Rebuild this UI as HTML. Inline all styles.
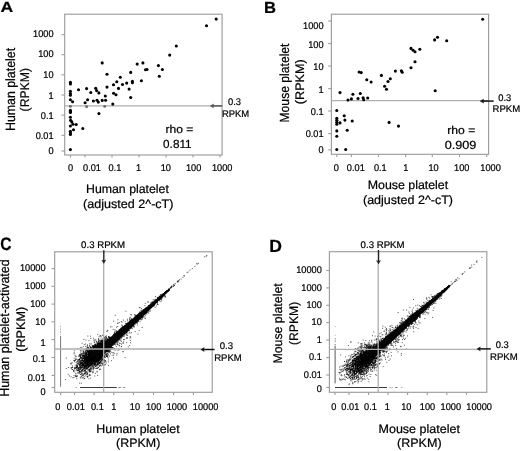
<!DOCTYPE html>
<html><head><meta charset="utf-8"><title>Figure</title>
<style>
html,body{margin:0;padding:0;background:#fff;overflow:hidden;}
svg{display:block;font-family:"Liberation Sans",sans-serif;will-change:transform;text-rendering:geometricPrecision;}
text{stroke:#000;stroke-width:0.22px;}
</style></head><body>
<svg width="520" height="451" viewBox="0 0 520 451">
<rect width="520" height="451" fill="#fff"/>
<rect x="64.70" y="14.20" width="157.40" height="140.80" fill="none" stroke="#9c9c9c" stroke-width="1.15"/>
<line x1="61.50" y1="34.70" x2="64.70" y2="34.70" stroke="#9c9c9c" stroke-width="1.1"/>
<line x1="61.50" y1="54.70" x2="64.70" y2="54.70" stroke="#9c9c9c" stroke-width="1.1"/>
<line x1="61.50" y1="74.80" x2="64.70" y2="74.80" stroke="#9c9c9c" stroke-width="1.1"/>
<line x1="61.50" y1="95.00" x2="64.70" y2="95.00" stroke="#9c9c9c" stroke-width="1.1"/>
<line x1="61.50" y1="115.10" x2="64.70" y2="115.10" stroke="#9c9c9c" stroke-width="1.1"/>
<line x1="61.50" y1="135.30" x2="64.70" y2="135.30" stroke="#9c9c9c" stroke-width="1.1"/>
<line x1="61.50" y1="151.00" x2="64.70" y2="151.00" stroke="#9c9c9c" stroke-width="1.1"/>
<text x="53.60" y="37.00" font-size="9.8" text-anchor="end" textLength="20.49" lengthAdjust="spacingAndGlyphs">1000</text>
<text x="53.60" y="56.90" font-size="9.8" text-anchor="end" textLength="15.37" lengthAdjust="spacingAndGlyphs">100</text>
<text x="53.60" y="77.80" font-size="9.8" text-anchor="end" textLength="10.24" lengthAdjust="spacingAndGlyphs">10</text>
<text x="53.60" y="99.10" font-size="9.8" text-anchor="end" textLength="5.12" lengthAdjust="spacingAndGlyphs">1</text>
<text x="53.60" y="119.10" font-size="9.8" text-anchor="end" textLength="12.80" lengthAdjust="spacingAndGlyphs">0.1</text>
<text x="53.60" y="138.80" font-size="9.8" text-anchor="end" textLength="17.93" lengthAdjust="spacingAndGlyphs">0.01</text>
<text x="53.60" y="154.00" font-size="9.8" text-anchor="end" textLength="5.12" lengthAdjust="spacingAndGlyphs">0</text>
<line x1="70.50" y1="155.00" x2="70.50" y2="157.60" stroke="#9c9c9c" stroke-width="1.1"/>
<line x1="85.00" y1="155.00" x2="85.00" y2="157.60" stroke="#9c9c9c" stroke-width="1.1"/>
<line x1="112.00" y1="155.00" x2="112.00" y2="157.60" stroke="#9c9c9c" stroke-width="1.1"/>
<line x1="139.00" y1="155.00" x2="139.00" y2="157.60" stroke="#9c9c9c" stroke-width="1.1"/>
<line x1="166.00" y1="155.00" x2="166.00" y2="157.60" stroke="#9c9c9c" stroke-width="1.1"/>
<line x1="193.00" y1="155.00" x2="193.00" y2="157.60" stroke="#9c9c9c" stroke-width="1.1"/>
<line x1="220.00" y1="155.00" x2="220.00" y2="157.60" stroke="#9c9c9c" stroke-width="1.1"/>
<text x="70.60" y="170.60" font-size="9.8" text-anchor="middle" textLength="5.12" lengthAdjust="spacingAndGlyphs">0</text>
<text x="92.00" y="170.60" font-size="9.8" text-anchor="middle" textLength="17.93" lengthAdjust="spacingAndGlyphs">0.01</text>
<text x="114.90" y="170.60" font-size="9.8" text-anchor="middle" textLength="12.80" lengthAdjust="spacingAndGlyphs">0.1</text>
<text x="138.60" y="170.60" font-size="9.8" text-anchor="middle" textLength="5.12" lengthAdjust="spacingAndGlyphs">1</text>
<text x="165.80" y="170.60" font-size="9.8" text-anchor="middle" textLength="10.24" lengthAdjust="spacingAndGlyphs">10</text>
<text x="193.60" y="170.60" font-size="9.8" text-anchor="middle" textLength="15.37" lengthAdjust="spacingAndGlyphs">100</text>
<text x="222.20" y="170.60" font-size="9.8" text-anchor="middle" textLength="20.49" lengthAdjust="spacingAndGlyphs">1000</text>
<line x1="64.70" y1="105.90" x2="222.10" y2="105.90" stroke="#aeaeae" stroke-width="1.3"/>
<circle cx="102.2" cy="62.9" r="1.55"/>
<circle cx="107" cy="74.2" r="1.55"/>
<circle cx="120.3" cy="77.3" r="1.55"/>
<circle cx="116.8" cy="81.8" r="1.55"/>
<circle cx="113.5" cy="84.8" r="1.55"/>
<circle cx="122.5" cy="84.5" r="1.55"/>
<circle cx="118.5" cy="88.4" r="1.55"/>
<circle cx="107" cy="87.1" r="1.55"/>
<circle cx="70.4" cy="82.4" r="1.55"/>
<circle cx="70.4" cy="83.9" r="1.55"/>
<circle cx="78.5" cy="89.8" r="1.55"/>
<circle cx="86.6" cy="88.6" r="1.55"/>
<circle cx="95.7" cy="88.3" r="1.55"/>
<circle cx="96.6" cy="90.6" r="1.55"/>
<circle cx="98.9" cy="92.9" r="1.55"/>
<circle cx="90.8" cy="92.5" r="1.55"/>
<circle cx="113.6" cy="93.2" r="1.55"/>
<circle cx="116" cy="94.8" r="1.55"/>
<circle cx="70.4" cy="91.2" r="1.55"/>
<circle cx="70.4" cy="93.5" r="1.55"/>
<circle cx="70.4" cy="95.3" r="1.55"/>
<circle cx="70.4" cy="99.8" r="1.55"/>
<circle cx="72.6" cy="101.8" r="1.55"/>
<circle cx="105.3" cy="96" r="1.55"/>
<circle cx="87.6" cy="99.8" r="1.55"/>
<circle cx="85.1" cy="102.7" r="1.55"/>
<circle cx="93.4" cy="101" r="1.55"/>
<circle cx="97" cy="100.2" r="1.55"/>
<circle cx="98.3" cy="102.1" r="1.55"/>
<circle cx="102.2" cy="100.4" r="1.55"/>
<circle cx="105.6" cy="100.2" r="1.55"/>
<circle cx="112.8" cy="104.1" r="1.55"/>
<circle cx="70.4" cy="110.4" r="1.55"/>
<circle cx="70.4" cy="111.4" r="1.55"/>
<circle cx="70.4" cy="112.4" r="1.55"/>
<circle cx="98.9" cy="113.6" r="1.55"/>
<circle cx="70.4" cy="117.3" r="1.55"/>
<circle cx="70.6" cy="120.2" r="1.55"/>
<circle cx="71.8" cy="121.9" r="1.55"/>
<circle cx="73" cy="124.2" r="1.55"/>
<circle cx="76.2" cy="124.5" r="1.55"/>
<circle cx="70.4" cy="126" r="1.55"/>
<circle cx="82.8" cy="128.5" r="1.55"/>
<circle cx="73.5" cy="129.8" r="1.55"/>
<circle cx="70.4" cy="131.2" r="1.55"/>
<circle cx="70.4" cy="132.9" r="1.55"/>
<circle cx="70.4" cy="134.4" r="1.55"/>
<circle cx="70.4" cy="149.6" r="1.55"/>
<circle cx="137.2" cy="64.1" r="1.55"/>
<circle cx="142.9" cy="62.9" r="1.55"/>
<circle cx="145.5" cy="69.8" r="1.55"/>
<circle cx="147" cy="69.5" r="1.55"/>
<circle cx="158.4" cy="65.6" r="1.55"/>
<circle cx="162.4" cy="69.5" r="1.55"/>
<circle cx="159.3" cy="76.2" r="1.55"/>
<circle cx="130.7" cy="72.4" r="1.55"/>
<circle cx="126.7" cy="83.1" r="1.55"/>
<circle cx="132.4" cy="81.2" r="1.55"/>
<circle cx="132.4" cy="82.8" r="1.55"/>
<circle cx="141.4" cy="80.8" r="1.55"/>
<circle cx="129.1" cy="89.1" r="1.55"/>
<circle cx="130.7" cy="97.5" r="1.55"/>
<circle cx="216.2" cy="19.1" r="1.55"/>
<circle cx="206.5" cy="25.7" r="1.55"/>
<circle cx="176.3" cy="46" r="1.55"/>
<circle cx="169.7" cy="55.1" r="1.55"/>
<circle cx="70.4" cy="106.4" r="1.45" fill="#6a6a6a"/>
<circle cx="86.6" cy="106.7" r="1.45" fill="#6a6a6a"/>
<circle cx="104.7" cy="106.4" r="1.45" fill="#6a6a6a"/>
<line x1="222.10" y1="105.90" x2="212.20" y2="105.90" stroke="#555" stroke-width="1.5"/>
<path d="M210.20,105.90 l3.4,-1.9 l-0.7,1.9 l0.7,1.9z" fill="#555" stroke="#555" stroke-width="0.5" stroke-linejoin="round"/>
<text x="228.00" y="104.50" font-size="9.6" textLength="13.00" lengthAdjust="spacingAndGlyphs">0.3</text>
<text x="221.90" y="116.50" font-size="9.6" textLength="27.30" lengthAdjust="spacingAndGlyphs">RPKM</text>
<text x="165.50" y="132.80" font-size="11.3" textLength="27.90" lengthAdjust="spacingAndGlyphs">rho =</text>
<text x="163.10" y="147.70" font-size="11.8" textLength="28.50" lengthAdjust="spacingAndGlyphs">0.811</text>
<text x="86.00" y="192.60" font-size="12.2" textLength="82.90" lengthAdjust="spacingAndGlyphs">Human platelet</text>
<text x="83.10" y="207.70" font-size="12.2" textLength="90.40" lengthAdjust="spacingAndGlyphs">(adjusted 2^-cT)</text>
<text x="14.90" y="131.00" font-size="13.4" textLength="83.10" lengthAdjust="spacingAndGlyphs" transform="rotate(-90 14.90 131.00)">Human platelet</text>
<text x="29.40" y="111.40" font-size="12.6" textLength="43.40" lengthAdjust="spacingAndGlyphs" transform="rotate(-90 29.40 111.40)">(RPKM)</text>
<text x="0.40" y="12.10" font-size="14.6" textLength="12.70" lengthAdjust="spacingAndGlyphs" font-weight="bold">A</text>
<rect x="331.40" y="14.20" width="157.20" height="140.10" fill="none" stroke="#9c9c9c" stroke-width="1.15"/>
<line x1="328.20" y1="21.00" x2="331.40" y2="21.00" stroke="#9c9c9c" stroke-width="1.1"/>
<line x1="328.20" y1="43.50" x2="331.40" y2="43.50" stroke="#9c9c9c" stroke-width="1.1"/>
<line x1="328.20" y1="66.00" x2="331.40" y2="66.00" stroke="#9c9c9c" stroke-width="1.1"/>
<line x1="328.20" y1="88.60" x2="331.40" y2="88.60" stroke="#9c9c9c" stroke-width="1.1"/>
<line x1="328.20" y1="111.00" x2="331.40" y2="111.00" stroke="#9c9c9c" stroke-width="1.1"/>
<line x1="328.20" y1="133.60" x2="331.40" y2="133.60" stroke="#9c9c9c" stroke-width="1.1"/>
<line x1="328.20" y1="149.90" x2="331.40" y2="149.90" stroke="#9c9c9c" stroke-width="1.1"/>
<text x="323.60" y="28.80" font-size="9.8" text-anchor="end" textLength="20.49" lengthAdjust="spacingAndGlyphs">1000</text>
<text x="323.60" y="47.70" font-size="9.8" text-anchor="end" textLength="15.37" lengthAdjust="spacingAndGlyphs">100</text>
<text x="323.60" y="70.30" font-size="9.8" text-anchor="end" textLength="10.24" lengthAdjust="spacingAndGlyphs">10</text>
<text x="323.60" y="92.70" font-size="9.8" text-anchor="end" textLength="5.12" lengthAdjust="spacingAndGlyphs">1</text>
<text x="323.60" y="114.80" font-size="9.8" text-anchor="end" textLength="12.80" lengthAdjust="spacingAndGlyphs">0.1</text>
<text x="323.60" y="137.20" font-size="9.8" text-anchor="end" textLength="17.93" lengthAdjust="spacingAndGlyphs">0.01</text>
<text x="323.60" y="153.30" font-size="9.8" text-anchor="end" textLength="5.12" lengthAdjust="spacingAndGlyphs">0</text>
<line x1="336.80" y1="154.30" x2="336.80" y2="156.90" stroke="#9c9c9c" stroke-width="1.1"/>
<line x1="351.40" y1="154.30" x2="351.40" y2="156.90" stroke="#9c9c9c" stroke-width="1.1"/>
<line x1="378.50" y1="154.30" x2="378.50" y2="156.90" stroke="#9c9c9c" stroke-width="1.1"/>
<line x1="405.70" y1="154.30" x2="405.70" y2="156.90" stroke="#9c9c9c" stroke-width="1.1"/>
<line x1="432.30" y1="154.30" x2="432.30" y2="156.90" stroke="#9c9c9c" stroke-width="1.1"/>
<line x1="459.50" y1="154.30" x2="459.50" y2="156.90" stroke="#9c9c9c" stroke-width="1.1"/>
<line x1="486.70" y1="154.30" x2="486.70" y2="156.90" stroke="#9c9c9c" stroke-width="1.1"/>
<text x="336.40" y="170.50" font-size="9.8" text-anchor="middle" textLength="5.12" lengthAdjust="spacingAndGlyphs">0</text>
<text x="355.80" y="170.50" font-size="9.8" text-anchor="middle" textLength="17.93" lengthAdjust="spacingAndGlyphs">0.01</text>
<text x="380.30" y="170.50" font-size="9.8" text-anchor="middle" textLength="12.80" lengthAdjust="spacingAndGlyphs">0.1</text>
<text x="405.90" y="170.50" font-size="9.8" text-anchor="middle" textLength="5.12" lengthAdjust="spacingAndGlyphs">1</text>
<text x="433.60" y="170.50" font-size="9.8" text-anchor="middle" textLength="10.24" lengthAdjust="spacingAndGlyphs">10</text>
<text x="461.80" y="170.50" font-size="9.8" text-anchor="middle" textLength="15.37" lengthAdjust="spacingAndGlyphs">100</text>
<text x="490.60" y="170.50" font-size="9.8" text-anchor="middle" textLength="20.49" lengthAdjust="spacingAndGlyphs">1000</text>
<line x1="331.40" y1="100.60" x2="488.60" y2="100.60" stroke="#aeaeae" stroke-width="1.3"/>
<circle cx="359.1" cy="72" r="1.55"/>
<circle cx="361.2" cy="72.6" r="1.55"/>
<circle cx="366.8" cy="79.7" r="1.55"/>
<circle cx="371.1" cy="82" r="1.55"/>
<circle cx="381.4" cy="75.4" r="1.55"/>
<circle cx="395.4" cy="71.1" r="1.55"/>
<circle cx="401.4" cy="70.8" r="1.55"/>
<circle cx="402.2" cy="72.3" r="1.55"/>
<circle cx="390.3" cy="78.8" r="1.55"/>
<circle cx="388" cy="81.5" r="1.55"/>
<circle cx="384.6" cy="86.2" r="1.55"/>
<circle cx="386.5" cy="89.2" r="1.55"/>
<circle cx="340" cy="92.6" r="1.55"/>
<circle cx="352.9" cy="94.2" r="1.55"/>
<circle cx="360.3" cy="93.5" r="1.55"/>
<circle cx="348" cy="100" r="1.55"/>
<circle cx="351.4" cy="98.9" r="1.55"/>
<circle cx="358" cy="98.5" r="1.55"/>
<circle cx="363.1" cy="97.7" r="1.55"/>
<circle cx="363.7" cy="99.7" r="1.55"/>
<circle cx="367.7" cy="98" r="1.55"/>
<circle cx="336.8" cy="110.5" r="1.55"/>
<circle cx="344.2" cy="115.7" r="1.55"/>
<circle cx="336.8" cy="118.3" r="1.55"/>
<circle cx="336.8" cy="120.3" r="1.55"/>
<circle cx="336.8" cy="122.2" r="1.55"/>
<circle cx="336.8" cy="124.2" r="1.55"/>
<circle cx="340" cy="122.9" r="1.55"/>
<circle cx="344.9" cy="120.1" r="1.55"/>
<circle cx="352.2" cy="121" r="1.55"/>
<circle cx="389.1" cy="122.4" r="1.55"/>
<circle cx="398.5" cy="126.1" r="1.55"/>
<circle cx="336.8" cy="130.9" r="1.55"/>
<circle cx="347.2" cy="130.2" r="1.55"/>
<circle cx="336.8" cy="136.3" r="1.55"/>
<circle cx="336.8" cy="149.5" r="1.55"/>
<circle cx="345.7" cy="149.5" r="1.55"/>
<circle cx="482.7" cy="19.2" r="1.55"/>
<circle cx="437.5" cy="37.2" r="1.55"/>
<circle cx="434.6" cy="39.9" r="1.55"/>
<circle cx="446.7" cy="40.7" r="1.55"/>
<circle cx="411" cy="48.4" r="1.55"/>
<circle cx="413.1" cy="50.3" r="1.55"/>
<circle cx="415" cy="51.8" r="1.55"/>
<circle cx="419.8" cy="49.3" r="1.55"/>
<circle cx="415" cy="61.7" r="1.55"/>
<circle cx="411" cy="67.8" r="1.55"/>
<circle cx="435.2" cy="90.7" r="1.55"/>
<line x1="493.70" y1="101.10" x2="482.20" y2="101.10" stroke="#111" stroke-width="1.5"/>
<path d="M480.20,101.10 l3.4,-1.9 l-0.7,1.9 l0.7,1.9z" fill="#111" stroke="#111" stroke-width="0.5" stroke-linejoin="round"/>
<text x="498.30" y="100.60" font-size="9.6" textLength="13.00" lengthAdjust="spacingAndGlyphs">0.3</text>
<text x="492.60" y="111.80" font-size="9.6" textLength="27.60" lengthAdjust="spacingAndGlyphs">RPKM</text>
<text x="447.30" y="134.00" font-size="11.3" textLength="28.00" lengthAdjust="spacingAndGlyphs">rho =</text>
<text x="444.70" y="149.00" font-size="11.8" textLength="31.70" lengthAdjust="spacingAndGlyphs">0.909</text>
<text x="367.70" y="188.70" font-size="12.2" textLength="80.50" lengthAdjust="spacingAndGlyphs">Mouse platelet</text>
<text x="363.00" y="203.70" font-size="12.2" textLength="90.00" lengthAdjust="spacingAndGlyphs">(adjusted 2^-cT)</text>
<text x="289.00" y="122.50" font-size="13.2" textLength="79.00" lengthAdjust="spacingAndGlyphs" transform="rotate(-90 289.00 122.50)">Mouse platelet</text>
<text x="304.00" y="104.20" font-size="12.4" textLength="45.00" lengthAdjust="spacingAndGlyphs" transform="rotate(-90 304.00 104.20)">(RPKM)</text>
<text x="264.00" y="12.60" font-size="16" textLength="12.00" lengthAdjust="spacingAndGlyphs" font-weight="bold">B</text>
<path d="M86.2,365.0h0.95M88.8,359.0h0.95M88.5,359.5h0.95M100.7,346.1h0.95M103.4,352.0h0.95M92.3,359.6h0.95M94.6,353.7h0.95M95.9,351.1h0.95M84.1,359.7h0.95M91.1,364.3h0.95M86.5,360.7h0.95M89.8,354.6h0.95M104.1,342.2h0.95M101.8,350.6h0.95M95.6,354.2h0.95M103.5,347.9h0.95M91.2,356.3h0.95M99.7,355.6h0.95M83.2,353.4h0.95M99.0,347.3h0.95M105.0,341.7h0.95M91.5,358.1h0.95M97.4,353.3h0.95M100.7,344.8h0.95M87.8,347.4h0.95M80.8,353.9h0.95M84.3,357.2h0.95M91.5,348.2h0.95M94.8,351.5h0.95M93.6,356.1h0.95M84.5,358.6h0.95M81.5,365.8h0.95M95.7,350.2h0.95M101.1,353.7h0.95M101.6,358.1h0.95M109.1,342.2h0.95M90.2,357.3h0.95M101.1,348.3h0.95M87.4,348.6h0.95M91.3,353.7h0.95M100.8,347.1h0.95M107.3,349.8h0.95M100.8,349.4h0.95M92.9,349.9h0.95M96.8,347.4h0.95M99.2,345.9h0.95M110.2,340.8h0.95M91.5,359.6h0.95M108.9,339.7h0.95M97.5,352.5h0.95M78.2,368.6h0.95M98.8,349.6h0.95M101.6,363.2h0.95M96.5,364.8h0.95M81.4,358.5h0.95M105.2,350.0h0.95M107.1,349.2h0.95M81.9,360.2h0.95M106.0,340.8h0.95M110.1,345.9h0.95M99.1,355.5h0.95M98.7,351.4h0.95M108.0,341.1h0.95M93.7,347.1h0.95M90.3,364.2h0.95M101.3,347.1h0.95M94.9,350.6h0.95M92.8,362.8h0.95M83.3,356.1h0.95M84.8,358.8h0.95M104.9,349.7h0.95M91.2,354.6h0.95M106.2,349.8h0.95M103.9,347.8h0.95M91.3,355.3h0.95M87.5,356.5h0.95M87.5,351.8h0.95M91.0,357.3h0.95M98.2,351.1h0.95M88.8,362.7h0.95M100.5,349.0h0.95M106.9,341.3h0.95M97.0,350.1h0.95M79.9,365.0h0.95M111.9,352.8h0.95M94.8,347.2h0.95M102.9,345.5h0.95M96.1,348.6h0.95M97.1,356.5h0.95M99.5,357.3h0.95M99.8,351.8h0.95M96.3,356.9h0.95M91.3,363.6h0.95M87.7,363.7h0.95M106.9,345.4h0.95M94.0,344.8h0.95M89.8,367.8h0.95M112.2,341.8h0.95M79.3,371.6h0.95M108.2,344.6h0.95M100.7,345.6h0.95M101.0,357.0h0.95M98.1,351.8h0.95M96.5,347.6h0.95M97.3,349.4h0.95M99.2,363.7h0.95M107.4,344.9h0.95M100.1,347.4h0.95M85.2,352.6h0.95M76.9,372.9h0.95M88.1,354.5h0.95M102.4,350.5h0.95M107.9,343.5h0.95M94.6,346.7h0.95M93.9,356.5h0.95M85.4,363.9h0.95M86.0,365.7h0.95M105.3,342.2h0.95M110.2,340.9h0.95M93.2,354.3h0.95M106.3,351.5h0.95M93.4,351.8h0.95M101.0,350.7h0.95M101.5,347.9h0.95M96.5,355.4h0.95M95.3,354.3h0.95M101.2,343.7h0.95M95.8,346.9h0.95M90.3,354.0h0.95M96.8,348.9h0.95M90.8,364.8h0.95M84.8,372.6h0.95M100.5,356.5h0.95M88.7,354.7h0.95M90.0,336.2h0.95M98.2,347.8h0.95M93.3,352.9h0.95M76.2,365.8h0.95M86.9,356.4h0.95M95.5,345.9h0.95M100.6,350.1h0.95M100.4,357.7h0.95M95.4,351.7h0.95M103.1,344.6h0.95M91.0,359.8h0.95M95.0,344.5h0.95M100.1,351.2h0.95M103.5,346.7h0.95M86.2,355.6h0.95M80.6,363.6h0.95M97.7,359.1h0.95M86.0,359.1h0.95M96.2,349.3h0.95M96.8,366.0h0.95M81.0,362.0h0.95M106.5,345.9h0.95M102.9,353.7h0.95M109.5,346.4h0.95M100.1,356.8h0.95M102.3,345.3h0.95M101.8,346.6h0.95M91.9,360.8h0.95M93.6,361.2h0.95M85.9,366.4h0.95M104.9,344.1h0.95M107.9,361.9h0.95M92.0,360.8h0.95M94.4,352.7h0.95M93.7,352.7h0.95M104.2,347.6h0.95M108.6,342.9h0.95M88.5,370.0h0.95M90.8,361.4h0.95M100.2,349.5h0.95M97.2,346.3h0.95M89.2,359.4h0.95M90.9,350.2h0.95M86.0,352.0h0.95M100.7,347.6h0.95M98.6,343.8h0.95M106.4,346.5h0.95M110.8,339.1h0.95M103.0,348.3h0.95M101.1,348.1h0.95M111.4,341.4h0.95M107.6,342.4h0.95M103.1,341.9h0.95M96.2,350.5h0.95M100.4,344.7h0.95M86.8,360.5h0.95M76.6,365.4h0.95M93.8,352.2h0.95M103.5,356.2h0.95M91.4,349.3h0.95M86.1,367.9h0.95M95.5,349.2h0.95M100.0,347.1h0.95M95.3,354.3h0.95M98.5,350.0h0.95M83.3,368.2h0.95M92.2,355.2h0.95M101.0,356.5h0.95M101.7,342.2h0.95M98.7,355.9h0.95M91.3,348.0h0.95M92.7,366.7h0.95M88.4,361.4h0.95M84.9,360.8h0.95M98.9,350.9h0.95M91.4,358.5h0.95M83.7,353.4h0.95M94.8,346.6h0.95M89.4,351.1h0.95M92.1,353.4h0.95M98.0,354.7h0.95M97.7,356.4h0.95M100.1,352.1h0.95M81.8,358.6h0.95M91.8,350.9h0.95M90.7,353.5h0.95M95.9,346.6h0.95M78.3,373.0h0.95M97.6,342.4h0.95M94.1,353.9h0.95M83.9,367.0h0.95M90.1,369.1h0.95M87.8,362.0h0.95M103.2,342.6h0.95M105.6,340.9h0.95M99.9,355.3h0.95M94.0,346.2h0.95M100.0,356.8h0.95M105.7,344.4h0.95M88.3,360.9h0.95M105.9,347.5h0.95M91.7,369.2h0.95M111.2,349.2h0.95M90.9,364.7h0.95M102.5,354.5h0.95M99.3,343.6h0.95M89.3,356.8h0.95M91.1,354.8h0.95M102.3,345.8h0.95M93.9,360.5h0.95M101.5,345.4h0.95M98.2,352.6h0.95M96.5,348.7h0.95M98.2,356.3h0.95M96.4,348.3h0.95M98.9,353.5h0.95M104.0,353.5h0.95M109.0,345.1h0.95M84.2,366.3h0.95M96.0,350.7h0.95M102.0,354.6h0.95M87.5,361.9h0.95M93.5,360.1h0.95M90.4,356.4h0.95M97.1,361.7h0.95M97.4,347.4h0.95M103.4,349.3h0.95M103.3,347.0h0.95M101.1,340.9h0.95M105.6,351.1h0.95M100.9,346.5h0.95M102.6,343.5h0.95M104.7,345.6h0.95M83.0,353.9h0.95M99.2,350.2h0.95M94.0,347.1h0.95M101.0,340.2h0.95M94.6,351.7h0.95M86.5,359.3h0.95M96.5,353.7h0.95M80.0,363.9h0.95M94.9,355.5h0.95M97.2,354.4h0.95M93.7,355.4h0.95M99.9,354.5h0.95M89.2,353.3h0.95M89.2,353.8h0.95M95.9,355.3h0.95M98.1,354.4h0.95M82.5,370.1h0.95M98.6,351.5h0.95M102.0,343.4h0.95M96.2,347.1h0.95M92.5,358.4h0.95M97.0,349.2h0.95M106.7,339.5h0.95M88.3,359.7h0.95M103.0,353.3h0.95M95.3,352.3h0.95M98.2,362.7h0.95M92.2,365.0h0.95M91.8,352.3h0.95M100.9,345.2h0.95M106.7,356.3h0.95M100.1,341.4h0.95M87.3,363.5h0.95M101.5,341.5h0.95M79.8,369.4h0.95M95.4,339.8h0.95M95.1,351.6h0.95M90.2,360.7h0.95M102.5,348.1h0.95M104.5,338.6h0.95M104.2,347.7h0.95M89.0,362.0h0.95M105.5,338.7h0.95M101.1,349.6h0.95M100.6,353.3h0.95M97.1,351.7h0.95M110.6,339.3h0.95M84.6,354.3h0.95M81.8,360.3h0.95M101.8,347.8h0.95M98.1,346.6h0.95M96.9,345.3h0.95M92.6,357.0h0.95M108.9,339.8h0.95M104.9,345.4h0.95M87.6,356.4h0.95M102.4,359.2h0.95M107.8,341.6h0.95M83.9,360.6h0.95M107.5,346.6h0.95M71.8,369.5h0.95M104.3,342.7h0.95M98.8,360.3h0.95M85.9,354.1h0.95M99.1,345.9h0.95M91.9,356.0h0.95M88.3,361.4h0.95M91.9,353.8h0.95M111.5,341.8h0.95M105.1,350.2h0.95M92.1,345.9h0.95M100.1,351.7h0.95M101.4,343.3h0.95M102.8,347.2h0.95M94.7,351.9h0.95M102.9,353.7h0.95M95.3,353.5h0.95M101.8,349.2h0.95M95.7,348.7h0.95M102.1,350.7h0.95M84.9,357.5h0.95M113.6,341.8h0.95M95.1,355.2h0.95M99.3,349.6h0.95M79.3,355.1h0.95M96.0,357.2h0.95M106.6,345.9h0.95M95.1,349.0h0.95M95.1,350.2h0.95M95.0,360.1h0.95M94.5,361.7h0.95M93.2,350.3h0.95M93.8,360.4h0.95M89.9,358.7h0.95M93.8,356.4h0.95M98.3,351.9h0.95M98.5,353.3h0.95M93.3,355.5h0.95M98.0,351.9h0.95M99.0,354.0h0.95M88.9,360.1h0.95M92.2,362.2h0.95M102.3,356.0h0.95M108.0,350.0h0.95M102.0,349.4h0.95M98.1,343.9h0.95M85.4,358.9h0.95M99.9,354.9h0.95M94.5,347.5h0.95M103.6,344.1h0.95M80.1,374.2h0.95M96.7,350.8h0.95M89.5,356.0h0.95M98.1,352.0h0.95M85.7,366.6h0.95M93.6,351.9h0.95M100.8,346.7h0.95M87.9,361.9h0.95M109.0,337.5h0.95M94.8,350.5h0.95M109.0,350.8h0.95M90.4,354.9h0.95M98.3,350.3h0.95M105.1,357.4h0.95M85.9,359.2h0.95M91.8,346.2h0.95M91.2,354.0h0.95M97.5,350.2h0.95M102.8,358.6h0.95M93.1,348.9h0.95M81.8,362.5h0.95M81.7,354.0h0.95M104.4,344.3h0.95M102.8,345.2h0.95M107.4,348.9h0.95M84.5,362.5h0.95M77.7,362.0h0.95M93.0,352.5h0.95M96.6,349.0h0.95M91.1,355.8h0.95M105.4,343.8h0.95M94.5,348.4h0.95M96.7,355.6h0.95M100.0,348.2h0.95M82.4,358.0h0.95M90.6,352.0h0.95M102.5,347.9h0.95M99.7,365.0h0.95M91.7,352.0h0.95M101.8,349.6h0.95M92.0,357.5h0.95M95.8,351.0h0.95M95.6,353.2h0.95M88.4,356.4h0.95M97.1,354.6h0.95M94.2,358.6h0.95M90.7,349.7h0.95M84.2,356.8h0.95M92.8,351.0h0.95M97.6,350.5h0.95M81.1,372.2h0.95M85.4,353.4h0.95M92.9,346.1h0.95M95.6,354.0h0.95M94.3,352.7h0.95M90.6,352.3h0.95M97.5,346.8h0.95M97.6,344.9h0.95M99.7,346.5h0.95M98.3,345.2h0.95M82.3,369.6h0.95M90.6,354.3h0.95M94.3,352.8h0.95M92.3,358.3h0.95M95.9,351.3h0.95M104.2,348.1h0.95M96.0,354.7h0.95M89.7,365.5h0.95M86.8,365.7h0.95M89.2,366.7h0.95M91.3,354.5h0.95M104.9,349.7h0.95M100.1,348.9h0.95M88.5,354.4h0.95M97.2,348.8h0.95M96.3,354.9h0.95M91.5,357.5h0.95M87.8,359.4h0.95M89.4,365.8h0.95M104.7,346.5h0.95M101.8,349.5h0.95M95.5,363.9h0.95M100.0,353.6h0.95M81.9,365.9h0.95M90.1,350.0h0.95M93.0,351.1h0.95M96.8,346.4h0.95M98.1,349.5h0.95M96.8,353.6h0.95M100.3,353.5h0.95M107.5,347.4h0.95M93.2,349.1h0.95M78.9,362.3h0.95M97.6,354.8h0.95M102.0,355.6h0.95M87.2,364.6h0.95M86.5,371.3h0.95M99.8,345.6h0.95M93.6,351.3h0.95M87.5,365.5h0.95M102.1,341.5h0.95M94.3,357.1h0.95M98.6,351.4h0.95M96.7,351.5h0.95M102.3,361.1h0.95M95.3,351.9h0.95M85.1,362.8h0.95M104.6,352.8h0.95M87.9,355.5h0.95M105.5,345.3h0.95M79.7,372.0h0.95M96.6,349.6h0.95M90.8,350.3h0.95M95.5,351.8h0.95M100.4,342.8h0.95M94.5,348.2h0.95M95.5,351.1h0.95M101.8,349.4h0.95M96.6,346.8h0.95M94.1,342.1h0.95M84.9,357.9h0.95M102.4,344.5h0.95M91.5,361.5h0.95M104.6,350.5h0.95M99.7,348.3h0.95M100.4,346.3h0.95M86.5,354.5h0.95M93.9,342.7h0.95M86.7,362.1h0.95M98.1,358.6h0.95M108.5,351.4h0.95M97.1,354.6h0.95M107.7,341.5h0.95M90.6,354.2h0.95M102.2,354.0h0.95M87.8,356.6h0.95M91.8,354.7h0.95M98.0,353.5h0.95M82.2,369.2h0.95M98.1,348.6h0.95M95.6,352.3h0.95M86.0,359.2h0.95M102.6,348.9h0.95M82.2,355.7h0.95M102.9,346.2h0.95M93.4,349.0h0.95M96.1,348.5h0.95M104.6,347.3h0.95M79.4,356.3h0.95M94.5,356.9h0.95M93.5,346.6h0.95M107.7,349.3h0.95M91.5,359.1h0.95M95.0,361.5h0.95M84.7,360.6h0.95M92.2,359.2h0.95M108.3,340.6h0.95M91.8,359.5h0.95M98.5,345.1h0.95M97.9,357.8h0.95M105.6,344.9h0.95M92.7,346.3h0.95M105.4,348.3h0.95M101.4,352.1h0.95M101.6,351.9h0.95M95.8,353.7h0.95M102.3,355.6h0.95M104.8,352.8h0.95M76.7,375.7h0.95M98.0,346.4h0.95M101.2,346.5h0.95M99.5,353.4h0.95M84.5,356.8h0.95M99.3,352.1h0.95M94.0,346.0h0.95M96.8,357.4h0.95M93.4,355.5h0.95M89.8,351.7h0.95M91.6,360.5h0.95M100.2,343.7h0.95M97.5,349.1h0.95M90.2,363.0h0.95M105.6,343.6h0.95M87.2,357.1h0.95M98.8,344.7h0.95M101.4,351.6h0.95M82.7,364.7h0.95M97.0,354.5h0.95M83.3,351.5h0.95M104.7,349.4h0.95M102.7,347.8h0.95M88.8,364.6h0.95M91.3,354.6h0.95M101.7,348.0h0.95M94.2,359.8h0.95M101.7,341.2h0.95M90.6,355.0h0.95M106.9,350.2h0.95M90.9,353.4h0.95M93.8,361.1h0.95M97.6,352.6h0.95M85.1,362.2h0.95M89.4,351.8h0.95M75.8,364.1h0.95M97.1,375.4h0.95M90.1,356.5h0.95M90.3,338.5h0.95M93.2,352.8h0.95M97.4,352.8h0.95M94.5,358.8h0.95M88.0,348.3h0.95M98.0,355.2h0.95M107.7,340.9h0.95M97.6,353.1h0.95M90.1,358.8h0.95M99.8,352.5h0.95M101.6,343.0h0.95M101.0,345.0h0.95M99.1,352.8h0.95M99.7,347.7h0.95M91.4,358.2h0.95M108.2,337.3h0.95M104.0,345.8h0.95M90.8,362.9h0.95M93.7,355.1h0.95M104.2,351.5h0.95M98.5,344.5h0.95M98.9,347.0h0.95M88.7,370.7h0.95M93.9,353.1h0.95M103.9,340.2h0.95M87.6,359.3h0.95M108.6,343.7h0.95M105.5,348.2h0.95M98.1,353.8h0.95M89.2,356.1h0.95M89.4,356.0h0.95M98.3,351.5h0.95M86.6,364.2h0.95M99.7,346.3h0.95M92.0,355.4h0.95M93.9,355.4h0.95M97.2,351.2h0.95M105.3,346.2h0.95M87.1,357.4h0.95M89.5,362.7h0.95M87.1,361.1h0.95M99.1,347.4h0.95M100.8,352.5h0.95M86.7,358.8h0.95M88.2,355.4h0.95M104.0,355.9h0.95M97.4,352.3h0.95M76.0,376.9h0.95M94.5,355.3h0.95M79.1,363.9h0.95M99.5,351.7h0.95M77.1,366.6h0.95M89.6,356.4h0.95M88.6,352.0h0.95M102.2,341.8h0.95M91.1,359.1h0.95M85.2,351.3h0.95M102.7,349.7h0.95M86.6,362.7h0.95M103.1,349.3h0.95M90.2,355.5h0.95M107.3,345.7h0.95M77.5,362.7h0.95M97.8,353.3h0.95M94.7,348.7h0.95M89.1,353.4h0.95M81.9,360.6h0.95M82.9,358.4h0.95M101.9,347.2h0.95M93.2,350.8h0.95M89.6,361.8h0.95M101.3,351.4h0.95M80.2,364.0h0.95M92.0,355.5h0.95M100.4,346.2h0.95M109.6,339.2h0.95M87.7,363.1h0.95M107.0,344.0h0.95M107.3,338.6h0.95M95.7,346.9h0.95M104.5,339.8h0.95M71.8,362.8h0.95M82.9,352.3h0.95M91.7,352.3h0.95M92.5,356.1h0.95M95.0,350.6h0.95M93.7,350.5h0.95M84.8,362.9h0.95M107.1,348.0h0.95M81.0,370.3h0.95M90.2,371.9h0.95M93.8,353.3h0.95M78.6,360.2h0.95M90.3,356.0h0.95M107.6,344.8h0.95M88.7,356.1h0.95M94.2,354.7h0.95M80.6,354.6h0.95M96.2,353.5h0.95M84.5,368.4h0.95M110.1,347.7h0.95M104.5,342.5h0.95M91.4,357.0h0.95M95.7,345.6h0.95M94.0,353.8h0.95M84.1,367.4h0.95M98.6,346.9h0.95M98.1,360.7h0.95M97.5,352.8h0.95M91.0,360.5h0.95M83.1,375.8h0.95M82.5,365.9h0.95M103.0,341.2h0.95M97.7,351.8h0.95M94.9,362.3h0.95M103.0,359.7h0.95M104.6,341.8h0.95M103.8,352.5h0.95M95.5,351.9h0.95M89.2,350.6h0.95M82.6,356.9h0.95M92.4,345.9h0.95M97.5,347.9h0.95M99.8,352.8h0.95M95.5,355.6h0.95M86.9,347.8h0.95M94.9,349.3h0.95M98.9,356.4h0.95M91.7,358.2h0.95M92.9,351.6h0.95M102.2,346.7h0.95M100.4,342.8h0.95M80.1,357.7h0.95M91.3,350.4h0.95M75.6,370.2h0.95M90.7,357.0h0.95M100.0,349.8h0.95M110.3,344.7h0.95M75.1,359.3h0.95M99.3,360.1h0.95M99.6,344.0h0.95M100.8,365.9h0.95M93.5,352.8h0.95M98.9,350.2h0.95M94.7,352.1h0.95M96.5,349.5h0.95M83.7,367.0h0.95M72.4,377.8h0.95M95.8,350.5h0.95M103.1,356.2h0.95M97.3,347.2h0.95M83.8,352.9h0.95M80.6,365.3h0.95M88.3,359.6h0.95M97.6,352.3h0.95M91.9,356.0h0.95M97.3,344.4h0.95M100.3,347.8h0.95M80.4,367.7h0.95M96.5,351.0h0.95M100.4,347.3h0.95M84.3,358.5h0.95M88.1,354.8h0.95M87.9,364.4h0.95M85.6,361.6h0.95M88.9,343.9h0.95M101.3,351.5h0.95M103.8,346.8h0.95M97.6,354.1h0.95M103.6,337.1h0.95M101.9,343.3h0.95M91.1,358.6h0.95M85.7,363.6h0.95M91.8,355.9h0.95M90.7,364.1h0.95M89.7,357.8h0.95M103.8,347.2h0.95M103.8,341.8h0.95M105.3,350.6h0.95M103.7,348.0h0.95M85.2,365.8h0.95M91.4,355.9h0.95M86.0,362.8h0.95M94.1,345.2h0.95M105.7,355.1h0.95M99.5,354.4h0.95M90.1,354.1h0.95M106.7,342.6h0.95M101.9,352.9h0.95M109.8,343.2h0.95M96.1,354.0h0.95M103.7,350.8h0.95M97.1,358.5h0.95M92.9,358.9h0.95M107.4,356.9h0.95M109.8,342.7h0.95M90.8,354.0h0.95M98.4,343.4h0.95M94.3,360.3h0.95M86.8,362.6h0.95M96.3,345.7h0.95M104.8,347.3h0.95M104.0,349.1h0.95M82.8,377.7h0.95M88.5,355.6h0.95M92.5,356.7h0.95M85.0,365.3h0.95M92.8,351.9h0.95M92.4,350.7h0.95M100.9,346.3h0.95M109.9,342.4h0.95M91.8,354.1h0.95M99.7,349.4h0.95M96.5,358.9h0.95M87.0,374.4h0.95M90.5,350.0h0.95M89.2,360.5h0.95M100.0,348.6h0.95M87.0,350.9h0.95M82.1,355.6h0.95M96.2,360.7h0.95M100.0,345.4h0.95M98.8,352.6h0.95M91.4,349.2h0.95M98.9,346.1h0.95M98.7,358.1h0.95M94.1,363.9h0.95M97.0,353.6h0.95M95.3,352.6h0.95M89.5,354.7h0.95M108.4,342.6h0.95M93.3,356.8h0.95M99.4,346.5h0.95M103.3,349.5h0.95M83.4,357.9h0.95M102.7,353.1h0.95M90.2,353.7h0.95M89.9,351.8h0.95M89.0,351.0h0.95M83.7,361.8h0.95M83.7,356.4h0.95M101.3,355.6h0.95M98.0,357.6h0.95M110.2,342.0h0.95M79.5,364.7h0.95M100.5,353.8h0.95M81.5,357.7h0.95M85.6,357.6h0.95M94.5,355.7h0.95M100.4,348.3h0.95M106.3,341.4h0.95M103.8,352.3h0.95M97.4,363.6h0.95M89.8,361.7h0.95M85.2,366.6h0.95M103.0,340.1h0.95M100.5,359.3h0.95M91.2,358.9h0.95M97.5,345.2h0.95M93.6,360.6h0.95M89.3,357.9h0.95M82.0,364.2h0.95M76.4,378.7h0.95M97.6,352.5h0.95M96.9,358.0h0.95M87.3,357.8h0.95M95.3,353.0h0.95M95.8,354.5h0.95M109.2,345.9h0.95M96.6,349.5h0.95M103.1,353.0h0.95M87.1,359.7h0.95M105.7,351.3h0.95M97.6,357.6h0.95M100.7,350.2h0.95M91.4,351.7h0.95M84.8,367.8h0.95M93.8,350.7h0.95M105.9,335.8h0.95M89.6,356.1h0.95M110.1,343.7h0.95M87.6,354.0h0.95M108.0,346.1h0.95M92.3,353.0h0.95M109.0,339.3h0.95M103.1,350.5h0.95M97.2,351.3h0.95M104.6,344.8h0.95M99.0,349.7h0.95M96.8,354.2h0.95M95.3,359.0h0.95M91.3,355.7h0.95M86.5,357.1h0.95M93.3,351.1h0.95M90.4,351.5h0.95M102.6,341.6h0.95M91.5,356.5h0.95M100.9,358.7h0.95M95.2,361.9h0.95M89.2,354.9h0.95M89.9,358.8h0.95M102.6,350.6h0.95M95.4,351.6h0.95M91.3,361.7h0.95M107.0,347.5h0.95M95.1,365.0h0.95M88.5,355.4h0.95M100.9,346.8h0.95M84.7,366.1h0.95M103.3,349.6h0.95M97.9,346.7h0.95M102.7,342.6h0.95M76.9,366.4h0.95M91.0,360.3h0.95M105.5,347.0h0.95M88.4,357.1h0.95M90.8,360.0h0.95M94.4,346.9h0.95M103.9,342.3h0.95M104.4,345.8h0.95M95.0,355.8h0.95M98.8,362.5h0.95M106.0,341.8h0.95M96.3,350.8h0.95M80.8,364.1h0.95M91.0,348.0h0.95M93.7,359.0h0.95M106.7,341.7h0.95M100.2,351.5h0.95M95.9,346.2h0.95M92.7,351.0h0.95M94.8,356.9h0.95M94.7,349.5h0.95M96.6,371.3h0.95M91.0,363.0h0.95M91.7,357.4h0.95M89.0,354.8h0.95M93.6,352.0h0.95M102.0,350.3h0.95M77.9,370.0h0.95M93.3,351.6h0.95M96.2,347.1h0.95M87.2,369.4h0.95M95.9,355.9h0.95M97.1,349.3h0.95M107.7,340.4h0.95M97.6,349.9h0.95M82.1,375.4h0.95M98.8,347.2h0.95M98.3,348.0h0.95M96.3,349.6h0.95M89.6,356.6h0.95M85.4,363.6h0.95M103.6,343.9h0.95M95.7,351.8h0.95M88.6,363.9h0.95M101.1,350.3h0.95M97.4,355.2h0.95M98.3,352.5h0.95M89.8,350.4h0.95M96.2,368.3h0.95M84.3,357.1h0.95M104.3,350.7h0.95M88.8,374.7h0.95M88.3,355.7h0.95M97.8,352.2h0.95M90.3,352.8h0.95M95.4,347.1h0.95M103.4,347.2h0.95M96.7,354.4h0.95M94.8,346.3h0.95M96.7,351.5h0.95M92.4,352.1h0.95M93.9,357.4h0.95M92.2,349.1h0.95M113.9,344.2h0.95M91.7,351.8h0.95M99.0,354.6h0.95M101.1,340.8h0.95M94.4,345.9h0.95M101.9,345.9h0.95M98.8,355.6h0.95M99.0,351.3h0.95M102.2,345.4h0.95M94.4,362.9h0.95M90.5,356.2h0.95M102.1,347.2h0.95M96.8,350.0h0.95M101.7,342.6h0.95M90.8,355.4h0.95M100.2,363.9h0.95M81.3,373.7h0.95M103.9,347.0h0.95M90.7,364.1h0.95M91.6,355.6h0.95M83.4,365.6h0.95M99.5,344.6h0.95M88.9,357.1h0.95M71.9,365.9h0.95M89.3,355.1h0.95M98.3,350.1h0.95M102.7,343.3h0.95M97.9,346.4h0.95M100.3,357.1h0.95M84.2,355.7h0.95M108.4,340.4h0.95M97.6,348.9h0.95M96.6,355.5h0.95M93.8,348.3h0.95M99.7,343.1h0.95M104.1,343.5h0.95M107.0,346.0h0.95M103.3,344.0h0.95M86.9,350.6h0.95M95.8,353.8h0.95M109.5,342.8h0.95M99.8,358.6h0.95M105.9,342.7h0.95M84.5,365.9h0.95M90.6,349.8h0.95M97.7,344.2h0.95M86.4,356.2h0.95M97.9,359.5h0.95M98.5,348.2h0.95M80.5,367.5h0.95M92.8,352.9h0.95M92.3,359.2h0.95M86.8,367.4h0.95M84.0,373.4h0.95M80.0,362.7h0.95M90.4,354.9h0.95M86.8,356.9h0.95M105.4,354.9h0.95M80.7,361.0h0.95M94.3,351.7h0.95M104.2,348.5h0.95M97.9,348.7h0.95M99.6,352.1h0.95M98.5,353.2h0.95M84.9,357.4h0.95M92.3,350.8h0.95M96.9,352.5h0.95M101.4,354.5h0.95M97.5,349.5h0.95M94.3,355.9h0.95M93.6,356.7h0.95M90.5,355.1h0.95M74.0,361.6h0.95M91.4,359.3h0.95M104.1,342.3h0.95M100.1,345.9h0.95M104.3,344.8h0.95M112.3,339.6h0.95M76.7,369.1h0.95M98.4,344.6h0.95M87.6,360.5h0.95M81.8,371.6h0.95M98.9,348.8h0.95M99.9,340.5h0.95M89.3,356.3h0.95M85.6,351.3h0.95M105.9,349.4h0.95M94.3,354.3h0.95M101.3,346.5h0.95M85.6,368.6h0.95M92.7,355.5h0.95M92.2,348.6h0.95M97.7,348.3h0.95M94.7,355.0h0.95M103.5,352.5h0.95M109.1,349.8h0.95M101.6,355.7h0.95M94.7,351.3h0.95M92.5,345.4h0.95M89.7,358.7h0.95M93.2,348.0h0.95M101.1,356.3h0.95M90.4,356.3h0.95M96.5,358.4h0.95M94.0,355.0h0.95M90.7,354.1h0.95M100.7,345.7h0.95M97.4,353.8h0.95M91.4,353.4h0.95M89.6,362.8h0.95M96.6,349.6h0.95M98.7,353.0h0.95M97.9,354.6h0.95M88.4,351.8h0.95M87.7,354.0h0.95M85.4,360.4h0.95M106.4,351.9h0.95M100.5,348.2h0.95M99.3,346.5h0.95M104.3,350.3h0.95M108.2,345.2h0.95M102.3,346.1h0.95M81.2,360.2h0.95M98.3,353.9h0.95M98.1,354.4h0.95M97.9,349.9h0.95M91.5,357.6h0.95M94.1,354.1h0.95M85.4,356.3h0.95M95.4,351.2h0.95M94.4,351.4h0.95M95.2,352.7h0.95M85.1,357.8h0.95M99.7,349.8h0.95M85.7,365.8h0.95M99.5,354.4h0.95M111.4,348.8h0.95M93.8,362.4h0.95M86.5,366.2h0.95M98.3,353.2h0.95M88.4,366.7h0.95M105.1,343.1h0.95M100.3,349.1h0.95M101.7,340.9h0.95M98.2,354.1h0.95M102.4,347.5h0.95M110.9,345.2h0.95M102.9,342.9h0.95M105.8,343.1h0.95M103.8,340.7h0.95M100.4,344.6h0.95M96.2,353.9h0.95M89.3,355.5h0.95M88.4,365.3h0.95M113.0,341.2h0.95M93.8,349.0h0.95M90.0,363.0h0.95M93.8,354.3h0.95M94.9,345.9h0.95M101.8,347.0h0.95M104.6,354.0h0.95M106.3,338.3h0.95M97.1,360.2h0.95M101.1,357.1h0.95M88.5,360.1h0.95M95.4,354.7h0.95M94.4,350.2h0.95M110.5,348.1h0.95M108.1,339.0h0.95M97.8,353.7h0.95M98.6,355.2h0.95M106.3,344.1h0.95M92.3,366.1h0.95M95.8,353.7h0.95M99.0,363.1h0.95M95.6,347.7h0.95M91.2,359.0h0.95M91.8,353.9h0.95M94.9,348.4h0.95M110.1,343.9h0.95M104.3,349.0h0.95M90.4,362.9h0.95M102.9,343.4h0.95M96.1,361.3h0.95M85.0,371.4h0.95M114.6,350.3h0.95M104.3,344.1h0.95M107.7,348.9h0.95M107.4,341.6h0.95M108.9,341.9h0.95M111.1,360.7h0.95M102.7,348.8h0.95M91.8,352.1h0.95M87.0,358.4h0.95M100.6,346.1h0.95M99.9,344.6h0.95M100.4,352.2h0.95M95.1,346.4h0.95M101.2,347.1h0.95M88.0,353.2h0.95M89.3,351.1h0.95M91.9,352.8h0.95M103.1,357.7h0.95M109.8,347.1h0.95M100.4,343.2h0.95M90.4,359.9h0.95M81.3,347.7h0.95M103.0,343.3h0.95M95.3,348.9h0.95M83.8,355.4h0.95M87.8,348.2h0.95M94.9,354.0h0.95M99.8,349.5h0.95M94.8,354.7h0.95M84.1,364.2h0.95M96.6,352.8h0.95M110.3,343.0h0.95M98.7,356.8h0.95M100.8,353.8h0.95M92.1,356.3h0.95M102.1,349.3h0.95M89.0,356.6h0.95M106.7,343.7h0.95M92.9,357.7h0.95M103.3,343.9h0.95M104.2,347.4h0.95M95.6,349.9h0.95M90.2,357.2h0.95M102.0,347.9h0.95M91.0,358.8h0.95M90.5,363.2h0.95M97.0,354.5h0.95M108.1,351.0h0.95M100.6,340.0h0.95M108.0,345.3h0.95M83.6,356.0h0.95M95.2,351.5h0.95M91.5,355.4h0.95M95.6,347.7h0.95M94.2,357.8h0.95M104.3,343.7h0.95M86.8,349.2h0.95M85.5,356.6h0.95M90.6,359.0h0.95M110.9,341.4h0.95M95.8,347.3h0.95M94.4,354.3h0.95M91.8,356.3h0.95M108.3,343.4h0.95M65.7,368.5h0.95M100.4,359.1h0.95M99.5,348.9h0.95M102.4,352.3h0.95M100.7,344.0h0.95M99.3,344.8h0.95M108.0,354.9h0.95M94.0,351.5h0.95M107.5,340.6h0.95M103.6,354.1h0.95M109.9,349.8h0.95M93.9,349.3h0.95M99.9,353.8h0.95M88.7,353.1h0.95M103.7,348.8h0.95M107.7,339.9h0.95M89.6,359.5h0.95M104.2,343.4h0.95M84.7,358.2h0.95M105.3,350.9h0.95M105.1,341.8h0.95M89.3,357.5h0.95M98.7,348.8h0.95M93.0,353.8h0.95M84.3,373.0h0.95M97.1,347.9h0.95M85.4,368.3h0.95M101.0,347.6h0.95M108.5,348.4h0.95M93.9,353.3h0.95M70.7,368.0h0.95M96.3,351.1h0.95M105.4,352.3h0.95M103.9,344.5h0.95M90.4,364.0h0.95M87.6,352.0h0.95M98.7,353.3h0.95M93.1,369.3h0.95M104.7,345.7h0.95M95.1,356.1h0.95M103.6,344.0h0.95M102.6,342.3h0.95M98.6,353.5h0.95M107.9,343.9h0.95M109.2,341.8h0.95M89.1,366.2h0.95M88.6,354.7h0.95M93.0,362.1h0.95M94.8,353.1h0.95M84.0,359.4h0.95M82.0,367.3h0.95M93.9,363.4h0.95M93.8,352.1h0.95M110.0,344.4h0.95M91.5,358.8h0.95M97.0,344.0h0.95M95.1,349.3h0.95M96.3,350.1h0.95M97.6,343.8h0.95M90.1,364.5h0.95M88.0,353.5h0.95M92.8,345.5h0.95M109.4,341.8h0.95M99.3,356.2h0.95M86.0,358.1h0.95M98.1,338.6h0.95M91.0,356.2h0.95M90.8,360.9h0.95M101.5,355.8h0.95M87.1,367.7h0.95M93.0,364.0h0.95M95.8,358.8h0.95M103.5,346.2h0.95M91.1,356.9h0.95M100.3,350.1h0.95M97.2,345.2h0.95M109.7,340.6h0.95M94.4,357.6h0.95M90.4,353.3h0.95M102.1,343.1h0.95M88.1,362.1h0.95M75.6,356.8h0.95M88.8,351.5h0.95M108.1,340.2h0.95M94.2,351.2h0.95M89.7,356.0h0.95M88.2,351.1h0.95M103.9,353.0h0.95M104.2,345.4h0.95M92.2,348.3h0.95M96.4,355.0h0.95M85.8,349.0h0.95M88.2,355.7h0.95M84.2,366.9h0.95M96.7,355.9h0.95M98.5,351.1h0.95M94.0,353.8h0.95M85.0,361.9h0.95M96.6,351.0h0.95M91.0,351.7h0.95M89.3,370.6h0.95M110.0,344.1h0.95M89.7,354.1h0.95M103.7,347.4h0.95M85.6,361.2h0.95M94.8,354.3h0.95M96.3,346.8h0.95M91.8,347.0h0.95M107.9,365.4h0.95M103.0,345.9h0.95M95.7,351.2h0.95M96.8,351.7h0.95M93.2,355.6h0.95M99.9,353.6h0.95M95.7,366.0h0.95M81.8,363.6h0.95M109.3,349.9h0.95M98.1,352.3h0.95M92.8,355.2h0.95M81.2,350.9h0.95M107.3,351.3h0.95M100.2,353.7h0.95M100.2,344.0h0.95M94.9,360.1h0.95M86.0,357.3h0.95M106.6,343.3h0.95M101.1,341.4h0.95M91.7,354.1h0.95M78.8,364.8h0.95M101.2,353.2h0.95M91.9,355.7h0.95M103.7,346.7h0.95M99.2,343.2h0.95M95.7,350.0h0.95M111.3,342.1h0.95M105.7,342.8h0.95M93.1,346.7h0.95M92.0,349.0h0.95M88.2,365.8h0.95M99.2,348.0h0.95M88.3,364.9h0.95M83.9,368.5h0.95M103.0,350.5h0.95M95.0,362.6h0.95M101.4,343.7h0.95M92.9,358.8h0.95M87.3,359.3h0.95M97.5,360.0h0.95M91.4,351.7h0.95M93.0,360.7h0.95M106.9,354.0h0.95M83.5,362.6h0.95M81.2,355.1h0.95M90.9,358.8h0.95M101.1,347.3h0.95M99.9,349.3h0.95M108.1,340.4h0.95M86.5,350.3h0.95M109.4,351.4h0.95M93.9,354.2h0.95M85.5,361.5h0.95M96.0,354.3h0.95M102.7,344.2h0.95M96.7,360.0h0.95M97.8,360.7h0.95M96.0,348.3h0.95M80.2,378.0h0.95M95.0,345.4h0.95M106.5,350.1h0.95M89.4,357.2h0.95M94.2,355.0h0.95M97.1,350.4h0.95M98.3,358.5h0.95M87.2,368.0h0.95M102.2,349.0h0.95M86.9,344.9h0.95M97.2,342.9h0.95M90.5,354.2h0.95M93.1,352.7h0.95M103.2,342.0h0.95M97.6,355.5h0.95M109.7,346.2h0.95M95.1,353.9h0.95M89.4,352.4h0.95M97.5,352.6h0.95M84.7,361.6h0.95M100.4,342.4h0.95M93.7,357.4h0.95M86.6,360.4h0.95M102.3,347.5h0.95M88.7,360.3h0.95M101.7,345.6h0.95M79.5,368.3h0.95M97.3,351.1h0.95M93.7,351.5h0.95M97.1,350.5h0.95M97.8,356.0h0.95M97.2,353.0h0.95M91.4,356.1h0.95M83.1,365.7h0.95M106.6,341.4h0.95M98.8,351.5h0.95M93.5,355.1h0.95M110.6,341.4h0.95M81.1,370.3h0.95M88.8,359.6h0.95M78.9,365.5h0.95M94.5,351.4h0.95M86.6,361.4h0.95M87.3,362.2h0.95M98.5,349.8h0.95M109.0,341.8h0.95M108.1,344.4h0.95M101.6,344.3h0.95M79.8,362.9h0.95M95.6,355.1h0.95M88.6,356.4h0.95M92.9,347.7h0.95M76.5,367.7h0.95M100.0,361.7h0.95M85.0,359.1h0.95M105.9,343.3h0.95M88.9,361.2h0.95M79.9,368.7h0.95M94.1,362.9h0.95M82.8,365.1h0.95M96.6,348.8h0.95M92.5,356.9h0.95M106.9,351.8h0.95M100.5,348.9h0.95M88.8,359.1h0.95M96.4,349.2h0.95M94.1,359.3h0.95M103.1,347.0h0.95M105.4,346.0h0.95M100.5,355.7h0.95M103.7,342.6h0.95M92.3,359.0h0.95M98.0,341.8h0.95M93.8,357.7h0.95M97.4,353.1h0.95M84.0,358.3h0.95M94.3,352.3h0.95M108.2,350.1h0.95M96.8,352.1h0.95M84.4,352.2h0.95M98.2,344.1h0.95M93.3,353.3h0.95M107.4,339.1h0.95M108.5,351.0h0.95M106.8,344.3h0.95M93.1,361.0h0.95M103.8,348.2h0.95M104.3,350.1h0.95M92.0,359.6h0.95M82.2,370.1h0.95M98.1,343.3h0.95M95.4,349.0h0.95M99.0,355.3h0.95M105.1,341.9h0.95M109.2,350.1h0.95M92.4,350.4h0.95M99.8,351.5h0.95M94.4,353.2h0.95M92.3,359.4h0.95M105.4,341.9h0.95M90.3,354.1h0.95M90.6,356.6h0.95M94.2,360.1h0.95M88.1,349.3h0.95M90.8,361.1h0.95M74.8,375.8h0.95M101.3,355.1h0.95M95.2,354.6h0.95M101.8,343.7h0.95M107.5,344.7h0.95M87.6,356.1h0.95M103.1,341.1h0.95M100.2,353.4h0.95M103.5,343.4h0.95M96.3,353.5h0.95M103.5,342.0h0.95M107.7,345.9h0.95M100.6,353.4h0.95M90.2,365.5h0.95M97.1,349.6h0.95M86.8,349.4h0.95M97.9,352.8h0.95M101.0,349.2h0.95M88.4,364.1h0.95M99.4,344.0h0.95M90.5,362.3h0.95M90.5,355.2h0.95M92.1,360.3h0.95M103.2,345.1h0.95M98.7,345.6h0.95M93.5,347.0h0.95M96.7,353.0h0.95M88.6,359.0h0.95M95.4,354.1h0.95M93.3,349.0h0.95M80.2,363.3h0.95M96.8,346.2h0.95M97.7,348.3h0.95M94.5,353.3h0.95M111.1,345.8h0.95M94.1,349.5h0.95M88.1,367.2h0.95M93.3,351.0h0.95M102.7,344.2h0.95M110.2,344.9h0.95M105.1,345.0h0.95M90.7,354.0h0.95M99.7,347.4h0.95M89.1,356.7h0.95M109.0,343.3h0.95M100.5,352.2h0.95M100.4,355.9h0.95M89.7,355.9h0.95M101.2,343.2h0.95M85.7,361.4h0.95M110.9,343.3h0.95M100.2,360.3h0.95M86.0,368.4h0.95M73.5,377.6h0.95M96.2,346.9h0.95M98.1,356.7h0.95M95.1,346.7h0.95M96.2,356.7h0.95M97.0,362.9h0.95M92.8,359.4h0.95M83.3,365.4h0.95M105.5,349.8h0.95M92.1,368.0h0.95M100.5,347.4h0.95M106.9,351.1h0.95M83.7,362.5h0.95M81.0,374.8h0.95M91.9,361.0h0.95M86.8,351.0h0.95M100.0,350.4h0.95M103.1,364.4h0.95M92.7,353.5h0.95M92.7,349.1h0.95M97.1,349.6h0.95M99.1,354.0h0.95M105.1,345.7h0.95M96.9,354.2h0.95M103.9,357.5h0.95M82.2,364.2h0.95M102.2,343.7h0.95M97.2,348.9h0.95M101.5,353.0h0.95M100.9,347.6h0.95M96.2,356.4h0.95M91.6,351.7h0.95M96.7,349.9h0.95M109.8,342.3h0.95M101.9,342.3h0.95M103.7,350.1h0.95M93.7,353.5h0.95M92.0,346.6h0.95M108.6,340.4h0.95M92.6,349.7h0.95M101.8,354.2h0.95M95.1,354.6h0.95M100.5,346.4h0.95M89.2,360.2h0.95M87.4,355.9h0.95M98.5,354.4h0.95M96.1,347.5h0.95M75.4,367.6h0.95M93.5,356.2h0.95M97.1,353.1h0.95M94.2,349.9h0.95M95.8,346.6h0.95M94.8,349.6h0.95M104.2,350.6h0.95M97.9,348.6h0.95M85.6,362.1h0.95M97.0,353.6h0.95M90.9,352.6h0.95M93.6,352.4h0.95M94.3,349.3h0.95M99.1,351.1h0.95M95.4,349.3h0.95M97.6,363.1h0.95M94.6,352.7h0.95M74.4,372.1h0.95M100.9,353.8h0.95M93.8,356.8h0.95M107.4,343.3h0.95M94.8,355.9h0.95M83.9,353.3h0.95M82.5,365.2h0.95M103.7,352.5h0.95M96.4,347.5h0.95M101.5,345.9h0.95M107.7,342.6h0.95M100.0,347.2h0.95M92.4,353.9h0.95M94.4,354.8h0.95M88.8,361.4h0.95M101.1,347.7h0.95M98.5,341.3h0.95M105.9,337.6h0.95M78.9,359.6h0.95M87.6,364.0h0.95M104.6,351.7h0.95M105.6,341.7h0.95M94.9,353.2h0.95M104.2,356.8h0.95M84.7,359.2h0.95M98.8,356.8h0.95M105.3,345.3h0.95M95.2,347.7h0.95M86.6,360.7h0.95M99.7,361.4h0.95M89.1,355.4h0.95M102.5,348.8h0.95M101.4,344.7h0.95M105.3,345.4h0.95M96.8,350.2h0.95M89.1,365.1h0.95M72.1,367.3h0.95M93.2,346.5h0.95M91.0,352.4h0.95M97.8,352.6h0.95M96.6,359.2h0.95M82.4,358.4h0.95M90.4,351.8h0.95M92.3,356.5h0.95M102.9,351.4h0.95M94.6,355.7h0.95M102.5,343.8h0.95M102.1,357.1h0.95M102.4,352.2h0.95M110.9,339.6h0.95M91.4,362.4h0.95M92.8,352.1h0.95M91.7,365.6h0.95M102.1,347.9h0.95M83.4,356.1h0.95M99.1,352.1h0.95M100.0,352.2h0.95M86.4,368.2h0.95M79.9,356.4h0.95M82.8,346.6h0.95M95.5,361.5h0.95M87.0,358.2h0.95M93.8,347.0h0.95M99.7,345.3h0.95M103.8,356.6h0.95M94.2,347.3h0.95M95.0,353.2h0.95M98.8,346.7h0.95M95.9,350.4h0.95M97.8,348.4h0.95M100.8,348.8h0.95M82.8,355.3h0.95M104.6,356.2h0.95M86.9,365.2h0.95M105.5,343.6h0.95M96.5,360.8h0.95M98.3,356.4h0.95M96.4,353.8h0.95M74.2,367.8h0.95M92.4,351.9h0.95M94.5,360.4h0.95M100.5,351.3h0.95M85.3,357.1h0.95M101.0,361.7h0.95M93.4,368.2h0.95M95.9,352.3h0.95M100.2,353.9h0.95M97.8,356.1h0.95M94.9,358.5h0.95M100.9,349.5h0.95M100.8,350.4h0.95M76.3,376.2h0.95M91.8,354.2h0.95M78.2,356.1h0.95M97.7,351.2h0.95M104.6,347.2h0.95M91.4,356.5h0.95M76.7,370.7h0.95M97.1,348.3h0.95M97.3,352.2h0.95M84.6,356.6h0.95M90.1,347.6h0.95M101.1,354.3h0.95M89.9,356.8h0.95M89.3,360.7h0.95M86.1,362.2h0.95M95.3,350.7h0.95M102.7,347.3h0.95M111.1,340.6h0.95M99.2,354.7h0.95M80.8,367.5h0.95M92.6,359.8h0.95M78.9,364.6h0.95M94.4,348.6h0.95M103.7,346.3h0.95M107.2,343.3h0.95M90.0,359.1h0.95M100.4,345.9h0.95M79.4,365.6h0.95M96.5,349.4h0.95M85.3,364.1h0.95M86.9,356.7h0.95M105.5,342.8h0.95M92.2,358.2h0.95M112.0,339.6h0.95M90.4,358.9h0.95M95.0,348.1h0.95M85.9,349.1h0.95M97.5,352.4h0.95M90.1,352.1h0.95M79.8,377.2h0.95M86.6,355.0h0.95M84.1,349.0h0.95M101.7,344.7h0.95M110.6,347.3h0.95M87.1,362.1h0.95M84.3,359.7h0.95M88.5,364.3h0.95M100.5,353.2h0.95M94.2,361.0h0.95M78.7,364.3h0.95M85.9,374.2h0.95M84.8,362.9h0.95M94.5,357.6h0.95M87.2,351.8h0.95M93.3,351.3h0.95M87.7,363.4h0.95M89.9,368.4h0.95M87.2,357.3h0.95M102.5,356.7h0.95M99.6,344.5h0.95M96.8,345.7h0.95M84.4,366.0h0.95M104.0,357.1h0.95M104.4,352.8h0.95M97.5,350.4h0.95M96.3,354.9h0.95M88.1,353.0h0.95M100.1,348.9h0.95M94.5,356.8h0.95M102.1,340.7h0.95M93.5,356.1h0.95M104.9,340.4h0.95M91.8,356.8h0.95M74.5,368.2h0.95M90.5,343.6h0.95M100.4,347.3h0.95M91.2,357.3h0.95M89.5,357.3h0.95M89.2,359.1h0.95M98.7,358.7h0.95M99.7,349.6h0.95M89.9,355.3h0.95M101.3,350.3h0.95M92.4,359.2h0.95M99.1,345.2h0.95M113.9,344.4h0.95M87.1,358.5h0.95M103.8,346.7h0.95M103.1,344.5h0.95M105.2,351.9h0.95M99.8,357.2h0.95M90.5,358.9h0.95M111.8,347.4h0.95M97.4,352.1h0.95M91.3,351.2h0.95M91.3,357.9h0.95M93.3,360.7h0.95M94.6,349.3h0.95M86.6,361.0h0.95M91.5,351.9h0.95M109.3,340.7h0.95M91.8,359.4h0.95M101.7,347.2h0.95M98.7,347.6h0.95M98.2,358.0h0.95M96.8,348.6h0.95M79.0,371.5h0.95M105.0,347.2h0.95M90.2,361.0h0.95M97.2,352.9h0.95M93.0,351.5h0.95M93.6,358.7h0.95M98.9,352.6h0.95M89.8,363.5h0.95M85.0,363.8h0.95M108.7,345.2h0.95M73.0,371.5h0.95M86.8,362.3h0.95M105.2,344.5h0.95M90.6,357.7h0.95M82.6,351.1h0.95M100.4,351.4h0.95M84.4,366.6h0.95M104.5,346.2h0.95M84.7,358.1h0.95M91.4,355.1h0.95M95.1,352.2h0.95M92.3,349.7h0.95M97.8,354.4h0.95M98.3,350.9h0.95M95.0,359.5h0.95M84.0,358.1h0.95M89.1,360.1h0.95M89.8,350.2h0.95M106.1,349.2h0.95M105.9,347.0h0.95M104.6,345.3h0.95M102.8,356.7h0.95M93.4,360.4h0.95M105.7,343.0h0.95M103.0,365.6h0.95M100.3,346.0h0.95M108.7,336.7h0.95M97.4,348.5h0.95M94.6,356.2h0.95M96.4,341.4h0.95M105.1,344.6h0.95M108.8,344.4h0.95M94.1,360.3h0.95M99.1,347.3h0.95M99.9,345.5h0.95M89.2,357.7h0.95M79.3,358.9h0.95M105.6,350.6h0.95M91.1,358.0h0.95M102.2,348.6h0.95M94.9,357.9h0.95M83.1,363.8h0.95M99.5,342.5h0.95M101.1,360.2h0.95M92.4,356.7h0.95M76.3,366.4h0.95M93.9,352.7h0.95M96.2,351.1h0.95M84.0,356.5h0.95M99.2,349.5h0.95M88.3,356.6h0.95M93.6,354.8h0.95M96.1,358.8h0.95M88.5,348.6h0.95M91.9,356.2h0.95M101.3,349.1h0.95M103.3,348.1h0.95M86.8,363.3h0.95M92.6,362.2h0.95M109.5,336.9h0.95M96.5,360.6h0.95M108.6,339.8h0.95M77.9,363.9h0.95M77.9,370.2h0.95M99.7,345.2h0.95M97.5,345.6h0.95M87.5,354.4h0.95M91.7,353.6h0.95M113.8,340.8h0.95M95.6,363.9h0.95M96.5,349.8h0.95M106.9,342.5h0.95M105.1,346.6h0.95M101.5,345.2h0.95M81.1,365.3h0.95M85.7,354.8h0.95M96.4,349.1h0.95M105.0,350.2h0.95M84.3,355.7h0.95M98.5,354.3h0.95M95.6,355.5h0.95M96.7,343.9h0.95M100.4,347.0h0.95M102.4,354.2h0.95M96.6,349.0h0.95M93.2,351.9h0.95M107.6,342.4h0.95M92.6,351.7h0.95M106.6,344.7h0.95M101.1,347.8h0.95M93.1,360.8h0.95M79.2,369.3h0.95M106.6,344.3h0.95M75.3,376.3h0.95M103.3,346.9h0.95M86.1,355.1h0.95M78.9,373.3h0.95M96.7,343.4h0.95M90.0,357.1h0.95M111.4,339.2h0.95M101.5,345.7h0.95M100.1,346.2h0.95M94.1,353.0h0.95M104.4,346.0h0.95M90.4,355.9h0.95M97.0,344.4h0.95M84.3,376.8h0.95M84.3,366.2h0.95M91.4,355.7h0.95M103.5,351.6h0.95M98.0,351.6h0.95M96.2,348.2h0.95M92.2,360.5h0.95M91.7,357.5h0.95M98.4,348.7h0.95M94.1,351.3h0.95M84.5,357.9h0.95M96.3,345.9h0.95M82.5,363.5h0.95M85.5,353.9h0.95M80.7,367.4h0.95M106.3,353.9h0.95M95.2,350.0h0.95M93.1,355.7h0.95M98.4,347.3h0.95M96.1,342.1h0.95M100.4,352.5h0.95M94.2,365.2h0.95M96.1,354.5h0.95M98.5,352.5h0.95M100.3,344.6h0.95M80.5,356.3h0.95M94.9,353.1h0.95M100.9,344.1h0.95M96.6,349.3h0.95M93.0,361.0h0.95M92.1,350.0h0.95M97.6,349.2h0.95M87.0,351.8h0.95M97.7,349.6h0.95M93.5,356.2h0.95M95.0,355.5h0.95M107.4,342.6h0.95M98.6,336.7h0.95M103.3,340.3h0.95M96.2,360.0h0.95M98.7,350.7h0.95M102.4,352.3h0.95M98.8,354.0h0.95M103.9,345.7h0.95M95.3,347.5h0.95M100.8,348.5h0.95M74.9,360.4h0.95M77.9,369.8h0.95M88.6,359.0h0.95M90.5,364.2h0.95M77.5,367.9h0.95M88.4,354.0h0.95M96.7,358.4h0.95M105.5,350.4h0.95M93.3,360.4h0.95M96.6,346.5h0.95M102.6,351.9h0.95M92.6,353.9h0.95M87.3,359.6h0.95M97.0,346.6h0.95M97.2,343.7h0.95M103.7,342.8h0.95M95.0,351.2h0.95M93.3,360.7h0.95M104.0,345.1h0.95M86.9,345.4h0.95M90.4,358.8h0.95M100.2,347.9h0.95M98.9,347.9h0.95M100.2,348.9h0.95M94.9,353.5h0.95M102.0,345.6h0.95M102.8,346.0h0.95M92.2,352.2h0.95M89.2,351.8h0.95M96.0,350.9h0.95M90.0,353.8h0.95M108.3,343.1h0.95M105.1,350.3h0.95M89.1,349.8h0.95M98.5,339.8h0.95M96.7,345.0h0.95M95.5,355.4h0.95M94.7,346.6h0.95M103.6,341.2h0.95M85.9,355.5h0.95M93.7,357.3h0.95M102.0,339.9h0.95M91.0,366.2h0.95M107.8,351.5h0.95M103.3,344.1h0.95M87.8,359.4h0.95M97.3,347.2h0.95M89.8,348.3h0.95M102.2,348.4h0.95M97.5,345.6h0.95M82.1,355.2h0.95M103.8,352.5h0.95M99.0,349.2h0.95M103.2,348.2h0.95M103.9,360.3h0.95M96.2,350.4h0.95M80.8,359.1h0.95M95.0,355.9h0.95M87.6,365.9h0.95M97.6,352.1h0.95M96.7,353.4h0.95M102.5,350.8h0.95M87.0,377.1h0.95M84.4,355.6h0.95M102.4,348.5h0.95M105.0,350.3h0.95M93.3,366.3h0.95M89.8,360.3h0.95M85.2,359.1h0.95M94.4,356.6h0.95M110.6,338.0h0.95M106.8,347.6h0.95M98.7,347.8h0.95M107.4,342.5h0.95M103.8,344.8h0.95M87.4,362.9h0.95M92.9,354.5h0.95M96.4,348.3h0.95M91.9,351.9h0.95M106.7,339.7h0.95M93.1,354.1h0.95M92.0,350.6h0.95M97.5,356.6h0.95M101.8,346.0h0.95M90.1,357.0h0.95M97.2,349.8h0.95M92.6,364.8h0.95M94.9,345.6h0.95M89.7,349.6h0.95M95.1,351.6h0.95M103.6,347.5h0.95M87.1,361.3h0.95M91.5,356.4h0.95M104.6,344.6h0.95M88.9,357.9h0.95M113.3,343.3h0.95M88.5,350.3h0.95M94.3,352.6h0.95M103.2,362.8h0.95M104.4,350.4h0.95M75.6,367.8h0.95M110.2,341.3h0.95M91.1,357.8h0.95M104.5,351.2h0.95M89.5,351.9h0.95M89.5,365.3h0.95M106.6,343.4h0.95M99.8,362.7h0.95M112.0,340.6h0.95M100.4,353.7h0.95M94.8,347.6h0.95M74.2,360.5h0.95M97.4,351.8h0.95M77.6,370.4h0.95M94.1,354.2h0.95M105.8,346.8h0.95M110.8,340.3h0.95M96.7,346.5h0.95M83.9,366.4h0.95M97.6,348.0h0.95M81.6,363.3h0.95M93.6,346.8h0.95M92.9,350.6h0.95M98.4,349.2h0.95M92.7,351.5h0.95M81.7,365.6h0.95M102.7,363.0h0.95M105.0,339.9h0.95M98.4,347.5h0.95M97.4,348.1h0.95M102.4,355.7h0.95M100.1,359.0h0.95M92.2,354.8h0.95M100.5,348.4h0.95M90.8,360.3h0.95M89.2,355.0h0.95M105.6,347.7h0.95M102.0,347.3h0.95M85.4,356.0h0.95M83.3,369.0h0.95M83.8,344.6h0.95M102.2,345.8h0.95M95.5,347.8h0.95M104.1,346.6h0.95M90.0,359.5h0.95M101.4,352.0h0.95M102.7,358.0h0.95M98.6,362.2h0.95M102.5,346.2h0.95M94.8,361.6h0.95M92.8,363.9h0.95M79.8,371.9h0.95M87.6,358.6h0.95M86.5,364.7h0.95M99.6,356.3h0.95M109.9,341.7h0.95M83.8,363.5h0.95M79.9,357.7h0.95M82.2,362.8h0.95M109.7,349.8h0.95M95.2,354.1h0.95M101.1,345.0h0.95M86.0,360.0h0.95M102.1,349.8h0.95M94.8,350.8h0.95M97.9,349.1h0.95M101.2,360.2h0.95M90.6,344.8h0.95M116.6,353.4h0.95M85.0,344.0h0.95M92.3,349.2h0.95M99.9,353.2h0.95M102.0,349.4h0.95M96.8,353.8h0.95M89.7,358.1h0.95M95.3,356.4h0.95M89.2,369.9h0.95M96.6,347.7h0.95M107.2,351.8h0.95M90.2,375.2h0.95M86.4,360.2h0.95M98.3,348.3h0.95M101.5,347.8h0.95M92.4,350.1h0.95M96.2,353.6h0.95M101.7,343.3h0.95M95.2,353.3h0.95M76.2,359.1h0.95M88.1,350.3h0.95M89.5,357.7h0.95M97.2,346.3h0.95M101.1,347.2h0.95M92.0,348.5h0.95M92.5,359.2h0.95M108.4,344.5h0.95M92.0,358.2h0.95M92.6,357.0h0.95M70.6,376.8h0.95M83.2,362.0h0.95M100.8,356.7h0.95M100.8,357.7h0.95M97.4,356.6h0.95M94.1,349.8h0.95M97.8,350.6h0.95M95.1,344.8h0.95M91.9,354.3h0.95M100.4,359.5h0.95M93.8,356.6h0.95M101.2,351.9h0.95M100.4,352.9h0.95M100.5,353.6h0.95M110.7,352.2h0.95M99.2,348.4h0.95M96.6,347.4h0.95M103.6,352.8h0.95M97.9,364.9h0.95M88.7,356.1h0.95M91.9,360.7h0.95M99.6,355.2h0.95M85.6,364.2h0.95M88.9,360.2h0.95M110.0,341.3h0.95M102.3,350.1h0.95M100.0,351.0h0.95M103.9,343.2h0.95M94.3,356.6h0.95M99.6,347.7h0.95M94.1,352.0h0.95M95.4,354.9h0.95M91.7,358.9h0.95M108.4,340.6h0.95M97.6,352.7h0.95M106.1,356.3h0.95M100.1,355.5h0.95M84.9,365.8h0.95M84.7,361.6h0.95M86.8,376.9h0.95M98.6,354.4h0.95M77.1,370.5h0.95M95.2,353.3h0.95M104.8,346.2h0.95M85.3,358.9h0.95M95.1,368.3h0.95M89.9,357.5h0.95M73.5,375.7h0.95M88.1,359.2h0.95M90.4,360.7h0.95M91.3,357.5h0.95M89.9,346.6h0.95M79.2,372.1h0.95M99.5,357.4h0.95M92.4,354.6h0.95M102.2,344.9h0.95M79.2,354.7h0.95M98.0,346.3h0.95M108.9,356.0h0.95M100.0,335.8h0.95M90.6,356.1h0.95M94.6,340.2h0.95M107.9,341.0h0.95M90.8,349.6h0.95M95.9,351.9h0.95M94.3,351.5h0.95M93.8,353.0h0.95M91.2,351.4h0.95M99.4,351.8h0.95M83.4,356.2h0.95M81.1,365.3h0.95M106.5,346.2h0.95M99.6,351.2h0.95M91.5,350.4h0.95M92.6,356.2h0.95M101.9,342.4h0.95M88.1,359.8h0.95M96.3,347.5h0.95M98.2,359.2h0.95M85.3,346.5h0.95M101.9,354.4h0.95M96.7,361.2h0.95M86.2,350.5h0.95M93.3,354.8h0.95M98.0,351.1h0.95M89.1,360.2h0.95M94.5,365.1h0.95M98.8,344.2h0.95M103.4,345.3h0.95M77.1,368.4h0.95M106.8,341.9h0.95M93.0,361.1h0.95M91.5,371.7h0.95M87.5,365.2h0.95M80.1,355.8h0.95M101.9,347.0h0.95M93.9,356.6h0.95M107.5,347.0h0.95M97.7,356.4h0.95M109.2,338.5h0.95M94.0,348.2h0.95M95.4,359.0h0.95M90.7,363.2h0.95M101.5,349.2h0.95M103.3,342.4h0.95M102.5,350.0h0.95M100.7,351.7h0.95M101.4,347.2h0.95M88.6,358.7h0.95M108.7,340.5h0.95M99.7,358.5h0.95M97.5,357.0h0.95M79.9,367.9h0.95M91.6,347.9h0.95M91.8,353.0h0.95M84.0,359.4h0.95M98.8,351.2h0.95M93.0,351.3h0.95M82.5,355.2h0.95M88.0,352.8h0.95M103.8,357.2h0.95M103.8,355.2h0.95M96.0,357.6h0.95M98.5,352.8h0.95M92.0,363.1h0.95M103.2,350.5h0.95M90.4,358.0h0.95M83.0,356.0h0.95M108.3,346.1h0.95M87.6,366.0h0.95M93.1,352.7h0.95M84.7,367.5h0.95M107.2,347.2h0.95M85.4,361.2h0.95M91.6,364.0h0.95M95.9,353.3h0.95M95.4,348.2h0.95M94.8,348.4h0.95M92.3,348.1h0.95M102.1,350.6h0.95M99.7,353.2h0.95M100.1,348.4h0.95M84.2,364.0h0.95M99.1,348.7h0.95M91.6,362.0h0.95M88.5,353.2h0.95M102.7,352.0h0.95M94.4,349.8h0.95M85.3,366.6h0.95M99.2,352.7h0.95M95.7,361.2h0.95M90.1,353.4h0.95M83.0,364.8h0.95M106.7,350.1h0.95M93.7,352.4h0.95M104.0,351.9h0.95M99.4,351.4h0.95M101.0,357.2h0.95M93.5,356.9h0.95M107.0,355.5h0.95M98.9,347.1h0.95M87.2,372.6h0.95M98.2,349.5h0.95M91.9,356.8h0.95M98.8,350.6h0.95M101.7,354.0h0.95M103.3,346.6h0.95M79.7,363.7h0.95M106.1,341.7h0.95M109.2,342.3h0.95M98.9,345.2h0.95M82.5,355.0h0.95M95.3,346.2h0.95M104.5,348.8h0.95M95.2,348.0h0.95M88.1,358.2h0.95M100.1,342.7h0.95M86.8,359.0h0.95M94.9,354.6h0.95M89.9,351.0h0.95M90.3,359.8h0.95M100.4,351.1h0.95M98.1,346.6h0.95M87.8,363.0h0.95M90.7,349.1h0.95M107.8,341.7h0.95M107.4,341.7h0.95M95.7,357.2h0.95M95.7,352.8h0.95M97.7,353.7h0.95M100.0,351.1h0.95M109.0,352.3h0.95M95.3,350.8h0.95M98.8,346.8h0.95M97.9,356.2h0.95M93.6,355.1h0.95M96.2,348.3h0.95M88.3,356.8h0.95M71.3,367.8h0.95M88.1,351.8h0.95M73.7,353.8h0.95M94.6,357.6h0.95M95.7,355.1h0.95M81.8,361.1h0.95M83.8,354.8h0.95M100.0,355.9h0.95M92.3,358.1h0.95M89.1,361.6h0.95M95.9,349.9h0.95M93.4,340.9h0.95M85.5,359.1h0.95M99.3,347.5h0.95M73.5,360.6h0.95M91.4,351.2h0.95M94.5,351.4h0.95M98.8,357.6h0.95M90.8,362.8h0.95M94.9,351.1h0.95M87.2,361.9h0.95M108.4,339.7h0.95M99.7,358.2h0.95M97.1,344.1h0.95M96.2,352.0h0.95M87.8,359.3h0.95M109.3,342.9h0.95M92.1,351.8h0.95M81.0,357.9h0.95M89.2,353.9h0.95M81.9,356.9h0.95M100.3,341.4h0.95M98.2,360.4h0.95M101.3,355.4h0.95M99.9,349.8h0.95M107.8,343.2h0.95M80.1,362.3h0.95M98.1,357.6h0.95M98.3,356.2h0.95M105.9,355.5h0.95M95.6,352.7h0.95M93.0,360.5h0.95M85.8,354.7h0.95M84.4,366.1h0.95M107.8,340.1h0.95M100.6,353.3h0.95M95.2,348.6h0.95M97.0,353.1h0.95M97.1,362.9h0.95M87.3,353.9h0.95M97.1,346.5h0.95M94.7,350.6h0.95M99.8,345.9h0.95M97.6,348.5h0.95M100.0,346.9h0.95M97.5,353.1h0.95M99.6,344.0h0.95M95.6,356.7h0.95M98.6,342.4h0.95M101.6,355.0h0.95M84.0,361.2h0.95M95.0,357.5h0.95M74.4,368.2h0.95M90.0,351.9h0.95M98.4,350.7h0.95M87.7,357.0h0.95M96.2,354.2h0.95M94.6,351.7h0.95M108.9,344.2h0.95M81.6,363.8h0.95M96.9,345.8h0.95M94.3,346.7h0.95M105.7,348.7h0.95M86.2,352.4h0.95M102.7,343.4h0.95M102.4,341.5h0.95M96.1,346.7h0.95M90.8,352.5h0.95M88.3,364.5h0.95M104.1,352.4h0.95M98.6,361.2h0.95M107.4,344.4h0.95M93.1,355.4h0.95M95.2,354.7h0.95M92.8,359.4h0.95M103.4,345.8h0.95M107.4,345.1h0.95M86.9,359.2h0.95M82.1,365.3h0.95M99.1,348.3h0.95M104.1,338.3h0.95M104.7,343.8h0.95M99.0,358.4h0.95M92.6,371.1h0.95M89.7,352.1h0.95M94.4,357.0h0.95M92.8,352.9h0.95M97.3,358.7h0.95M92.6,359.5h0.95M112.5,348.9h0.95M80.9,376.8h0.95M88.7,360.8h0.95M91.9,353.1h0.95M96.5,349.7h0.95M75.7,367.2h0.95M94.0,362.9h0.95M96.8,350.7h0.95M109.0,342.4h0.95M99.2,349.2h0.95M85.0,355.6h0.95M87.4,356.8h0.95M103.6,344.0h0.95M103.8,355.9h0.95M100.3,347.7h0.95M108.2,346.5h0.95M78.4,361.9h0.95M80.0,366.6h0.95M86.5,347.2h0.95M82.0,359.9h0.95M88.3,357.6h0.95M100.2,355.4h0.95M105.4,346.5h0.95M90.7,364.4h0.95M111.0,346.8h0.95M95.1,355.7h0.95M106.2,356.4h0.95M93.0,352.9h0.95M96.3,361.8h0.95M98.5,358.9h0.95M107.1,343.7h0.95M93.4,355.7h0.95M103.6,343.4h0.95M92.3,352.4h0.95M90.2,349.8h0.95M93.5,349.7h0.95M95.9,357.0h0.95M103.8,343.3h0.95M96.8,348.0h0.95M109.6,338.6h0.95M93.0,361.3h0.95M108.3,345.1h0.95M81.5,376.2h0.95M93.0,363.2h0.95M90.1,357.2h0.95M87.5,360.9h0.95M99.7,354.8h0.95M95.3,347.2h0.95M96.9,347.5h0.95M99.5,349.6h0.95M101.4,350.4h0.95M101.4,344.0h0.95M95.6,357.5h0.95M94.2,359.6h0.95M108.6,344.1h0.95M104.9,347.9h0.95M82.1,360.4h0.95M105.5,339.6h0.95M79.6,366.0h0.95M76.2,366.0h0.95M106.8,356.8h0.95M96.3,346.2h0.95M96.3,351.7h0.95M102.5,346.3h0.95M88.4,354.5h0.95M97.2,346.1h0.95M96.7,353.8h0.95M106.6,345.7h0.95M91.5,360.4h0.95M86.7,358.2h0.95M94.1,353.9h0.95M92.2,350.2h0.95M105.4,346.7h0.95M102.6,350.7h0.95M95.3,348.7h0.95M106.6,340.0h0.95M102.2,353.1h0.95M98.5,350.4h0.95M86.9,354.6h0.95M108.8,344.8h0.95M91.9,356.1h0.95M98.4,354.4h0.95M89.6,368.7h0.95M94.6,354.5h0.95M91.1,353.3h0.95M93.7,354.4h0.95M107.4,339.6h0.95M95.9,352.2h0.95M111.9,340.7h0.95M85.9,359.6h0.95M90.0,353.4h0.95M90.6,356.0h0.95M92.6,357.9h0.95M92.7,355.8h0.95M83.0,355.5h0.95M104.3,345.7h0.95M80.6,357.5h0.95M111.8,341.6h0.95M93.8,353.9h0.95M91.1,348.3h0.95M88.2,369.3h0.95M94.8,356.6h0.95M85.3,363.3h0.95M102.6,348.7h0.95M97.5,346.6h0.95M99.0,346.9h0.95M101.2,355.9h0.95M91.1,356.5h0.95M87.4,352.0h0.95M91.3,353.1h0.95M79.9,374.6h0.95M82.7,363.8h0.95M91.5,359.2h0.95M100.8,343.8h0.95M94.0,357.2h0.95M105.0,343.4h0.95M94.5,344.5h0.95M101.0,340.9h0.95M93.1,363.5h0.95M83.8,362.7h0.95M98.9,343.4h0.95M100.6,357.3h0.95M95.0,350.7h0.95M85.2,363.4h0.95M86.3,357.5h0.95M93.8,350.7h0.95M83.2,361.5h0.95M82.9,357.9h0.95M109.1,343.2h0.95M89.1,356.4h0.95M98.8,351.7h0.95M98.4,351.3h0.95M87.9,357.9h0.95M101.8,352.0h0.95M94.6,354.0h0.95M88.2,355.4h0.95M88.7,358.4h0.95M97.2,356.4h0.95M88.7,353.4h0.95M91.7,355.1h0.95M101.2,343.9h0.95M103.5,347.2h0.95M98.2,349.0h0.95M86.7,356.6h0.95M96.9,354.2h0.95M88.9,356.7h0.95M104.0,347.4h0.95M108.7,347.5h0.95M99.4,346.5h0.95M92.0,356.0h0.95M94.2,348.6h0.95M89.0,351.9h0.95M136.9,320.7h0.95M148.8,305.7h0.95M166.3,291.6h0.95M143.3,310.7h0.95M146.4,309.2h0.95M165.0,293.3h0.95M99.9,352.8h0.95M142.0,315.3h0.95M123.0,330.5h0.95M103.6,345.0h0.95M145.1,309.5h0.95M134.8,318.0h0.95M125.1,330.2h0.95M106.6,350.5h0.95M105.7,346.2h0.95M103.8,350.2h0.95M115.8,337.9h0.95M131.5,321.9h0.95M122.4,332.0h0.95M161.0,296.6h0.95M100.3,349.2h0.95M125.8,326.4h0.95M158.3,299.8h0.95M133.5,320.9h0.95M113.0,343.2h0.95M149.5,306.9h0.95M143.8,311.9h0.95M140.5,315.3h0.95M117.9,334.5h0.95M135.7,320.1h0.95M130.1,320.7h0.95M114.0,339.3h0.95M131.3,319.5h0.95M156.5,300.9h0.95M164.5,293.2h0.95M118.6,336.7h0.95M146.8,309.0h0.95M164.8,293.5h0.95M155.4,302.1h0.95M144.1,312.4h0.95M139.8,317.9h0.95M141.7,314.4h0.95M164.6,293.7h0.95M102.4,348.4h0.95M128.0,329.5h0.95M157.5,298.5h0.95M145.9,312.3h0.95M121.5,334.5h0.95M130.8,325.5h0.95M162.2,295.3h0.95M100.0,353.3h0.95M137.3,320.6h0.95M158.9,297.7h0.95M142.6,313.2h0.95M160.1,298.4h0.95M145.2,312.4h0.95M118.1,334.4h0.95M143.3,312.6h0.95M132.6,322.7h0.95M163.7,294.6h0.95M118.9,338.8h0.95M138.9,317.9h0.95M114.0,336.7h0.95M126.5,330.5h0.95M144.1,313.0h0.95M107.5,349.7h0.95M142.0,312.2h0.95M155.9,302.5h0.95M138.2,317.4h0.95M122.8,330.0h0.95M121.3,331.8h0.95M168.1,289.9h0.95M156.3,300.4h0.95M138.5,315.3h0.95M110.0,342.7h0.95M147.4,308.1h0.95M147.5,309.2h0.95M140.0,317.3h0.95M145.0,311.1h0.95M125.1,331.5h0.95M135.0,320.1h0.95M125.5,328.0h0.95M158.8,297.0h0.95M160.4,296.6h0.95M111.5,340.0h0.95M114.2,333.5h0.95M131.7,321.4h0.95M148.0,307.3h0.95M121.8,330.7h0.95M143.3,310.3h0.95M113.1,334.6h0.95M155.7,301.2h0.95M127.2,329.3h0.95M163.5,293.7h0.95M106.2,347.2h0.95M122.3,331.4h0.95M154.8,300.6h0.95M164.9,293.0h0.95M108.0,346.1h0.95M138.5,320.1h0.95M162.3,294.2h0.95M144.5,311.5h0.95M144.6,309.8h0.95M141.7,316.8h0.95M124.2,329.9h0.95M165.6,291.9h0.95M106.4,345.7h0.95M144.3,313.7h0.95M101.5,348.1h0.95M127.3,330.4h0.95M168.3,289.6h0.95M150.4,307.4h0.95M163.9,293.6h0.95M161.4,297.0h0.95M165.5,292.2h0.95M122.4,332.9h0.95M109.1,338.4h0.95M125.6,333.9h0.95M122.6,329.5h0.95M162.9,295.0h0.95M119.1,335.1h0.95M110.5,344.1h0.95M109.0,341.7h0.95M106.1,349.8h0.95M114.3,342.9h0.95M116.4,341.4h0.95M164.2,293.8h0.95M140.1,317.1h0.95M159.6,297.3h0.95M166.5,291.4h0.95M126.3,325.9h0.95M165.0,293.4h0.95M102.3,348.9h0.95M167.3,290.9h0.95M134.0,320.5h0.95M126.3,325.3h0.95M114.5,331.4h0.95M147.5,308.2h0.95M136.5,321.4h0.95M115.7,337.6h0.95M137.6,317.7h0.95M108.6,343.5h0.95M105.3,349.6h0.95M131.3,323.3h0.95M113.7,341.7h0.95M147.8,308.5h0.95M143.4,313.7h0.95M144.7,311.5h0.95M145.4,307.9h0.95M101.7,348.7h0.95M135.6,322.3h0.95M157.7,298.5h0.95M155.0,300.7h0.95M135.4,318.3h0.95M151.9,304.9h0.95M158.0,299.5h0.95M138.8,315.7h0.95M150.3,304.4h0.95M139.1,315.9h0.95M129.8,325.8h0.95M135.0,321.5h0.95M143.9,309.6h0.95M166.0,291.9h0.95M102.5,350.5h0.95M115.1,343.9h0.95M162.2,295.6h0.95M123.4,334.5h0.95M136.6,317.2h0.95M146.6,307.8h0.95M143.0,312.5h0.95M151.7,304.6h0.95M117.0,342.7h0.95M164.0,294.0h0.95M134.2,323.9h0.95M160.0,297.6h0.95M126.2,328.1h0.95M114.8,340.0h0.95M119.3,333.7h0.95M159.4,297.4h0.95M136.6,317.6h0.95M159.7,297.7h0.95M113.9,339.0h0.95M138.8,315.3h0.95M124.5,326.3h0.95M115.7,340.0h0.95M165.8,291.9h0.95M158.6,298.5h0.95M100.4,352.0h0.95M165.1,292.5h0.95M153.5,302.6h0.95M118.9,336.9h0.95M138.5,314.9h0.95M121.0,334.3h0.95M103.9,347.5h0.95M146.0,309.4h0.95M108.4,345.8h0.95M163.3,294.0h0.95M149.0,308.6h0.95M103.3,347.4h0.95M104.6,349.5h0.95M107.5,344.3h0.95M102.6,349.7h0.95M120.3,330.2h0.95M161.0,296.1h0.95M129.3,327.3h0.95M141.7,312.0h0.95M162.2,295.4h0.95M122.1,331.2h0.95M161.4,296.8h0.95M143.6,310.0h0.95M117.9,332.3h0.95M125.6,332.9h0.95M131.6,320.0h0.95M124.6,329.1h0.95M142.9,317.2h0.95M127.6,327.4h0.95M134.8,321.1h0.95M115.6,339.0h0.95M134.4,318.3h0.95M120.8,334.3h0.95M140.4,316.6h0.95M143.6,311.9h0.95M109.0,346.5h0.95M144.0,312.2h0.95M166.0,291.5h0.95M116.5,336.5h0.95M134.1,321.3h0.95M108.1,336.5h0.95M140.7,314.3h0.95M162.7,294.5h0.95M148.3,311.9h0.95M105.6,349.5h0.95M116.5,330.9h0.95M145.1,312.1h0.95M111.1,346.1h0.95M122.1,330.3h0.95M126.9,326.5h0.95M141.9,316.8h0.95M111.2,339.3h0.95M125.1,326.2h0.95M103.8,348.6h0.95M151.8,306.7h0.95M150.3,305.6h0.95M135.9,320.5h0.95M115.8,331.9h0.95M118.5,331.2h0.95M118.5,336.3h0.95M114.5,337.4h0.95M137.6,314.4h0.95M120.1,334.0h0.95M136.4,315.1h0.95M116.6,341.9h0.95M146.3,310.2h0.95M123.7,335.3h0.95M135.6,317.1h0.95M126.0,326.7h0.95M140.0,312.5h0.95M149.2,307.5h0.95M150.6,306.1h0.95M144.3,316.3h0.95M153.5,302.6h0.95M131.6,324.5h0.95M153.0,304.4h0.95M119.7,335.3h0.95M133.5,323.2h0.95M165.6,292.1h0.95M138.6,317.3h0.95M153.6,303.0h0.95M150.2,305.2h0.95M144.3,311.3h0.95M144.4,311.7h0.95M143.7,312.4h0.95M143.3,312.1h0.95M162.6,294.9h0.95M154.5,303.9h0.95M141.2,314.0h0.95M121.8,331.5h0.95M168.0,290.0h0.95M148.3,310.2h0.95M154.6,300.0h0.95M105.0,347.5h0.95M143.2,314.3h0.95M153.1,303.3h0.95M116.6,336.0h0.95M142.4,313.1h0.95M108.4,342.8h0.95M124.1,333.4h0.95M101.7,349.3h0.95M101.3,347.4h0.95M167.1,290.7h0.95M157.0,301.2h0.95M139.2,316.4h0.95M141.5,315.1h0.95M159.1,297.9h0.95M107.4,342.2h0.95M137.2,316.8h0.95M132.7,322.9h0.95M142.9,309.8h0.95M133.8,322.8h0.95M159.4,296.4h0.95M134.5,321.1h0.95M138.1,315.6h0.95M107.6,344.3h0.95M123.7,328.8h0.95M131.6,320.5h0.95M165.4,292.7h0.95M150.7,305.1h0.95M111.9,343.4h0.95M145.5,311.3h0.95M135.7,317.7h0.95M103.4,345.8h0.95M110.6,345.1h0.95M99.8,352.2h0.95M137.9,315.9h0.95M144.0,312.2h0.95M166.2,291.8h0.95M143.3,311.8h0.95M99.4,353.0h0.95M102.0,350.9h0.95M101.4,349.9h0.95M100.7,349.7h0.95M101.5,347.9h0.95M142.6,313.2h0.95M151.1,305.2h0.95M152.5,302.9h0.95M154.9,303.9h0.95M143.3,311.4h0.95M115.7,340.5h0.95M144.7,308.3h0.95M122.7,326.4h0.95M112.5,343.5h0.95M129.3,320.8h0.95M143.4,309.8h0.95M102.1,351.8h0.95M141.2,313.2h0.95M113.0,342.6h0.95M146.1,308.4h0.95M158.1,299.1h0.95M137.4,316.8h0.95M99.9,352.0h0.95M137.4,320.9h0.95M140.6,314.6h0.95M147.6,308.3h0.95M115.3,335.7h0.95M160.8,295.9h0.95M157.9,300.0h0.95M106.9,345.7h0.95M129.2,324.4h0.95M152.2,306.1h0.95M150.9,306.2h0.95M123.7,331.7h0.95M122.5,332.3h0.95M144.9,308.9h0.95M153.2,304.1h0.95M115.4,339.3h0.95M99.5,351.7h0.95M137.8,318.2h0.95M147.2,307.8h0.95M123.4,334.5h0.95M141.1,317.3h0.95M165.4,291.9h0.95M163.3,293.9h0.95M147.7,310.2h0.95M156.8,301.5h0.95M158.7,300.1h0.95M101.9,346.8h0.95M148.5,307.2h0.95M159.7,299.3h0.95M124.4,333.6h0.95M117.6,333.0h0.95M140.5,314.7h0.95M159.1,299.2h0.95M140.6,316.3h0.95M109.4,345.2h0.95M112.1,340.6h0.95M103.5,348.5h0.95M103.6,349.2h0.95M125.2,328.1h0.95M130.3,324.1h0.95M116.6,333.0h0.95M102.4,348.4h0.95M127.4,327.2h0.95M103.6,348.6h0.95M113.4,338.0h0.95M136.6,322.0h0.95M164.6,292.6h0.95M119.7,343.5h0.95M132.6,326.4h0.95M153.2,301.2h0.95M139.1,312.2h0.95M105.5,349.0h0.95M140.2,315.8h0.95M155.7,302.1h0.95M135.8,322.1h0.95M168.3,289.8h0.95M123.4,336.1h0.95M110.2,337.5h0.95M123.4,328.5h0.95M161.3,296.1h0.95M121.1,333.4h0.95M168.1,290.1h0.95M104.2,347.2h0.95M154.3,302.6h0.95M105.7,342.6h0.95M134.0,319.6h0.95M167.7,290.9h0.95M106.7,348.8h0.95M109.0,343.9h0.95M144.8,312.9h0.95M160.2,297.3h0.95M161.9,295.9h0.95M132.2,321.2h0.95M140.3,314.5h0.95M106.5,344.9h0.95M111.2,337.9h0.95M105.5,346.9h0.95M151.5,307.6h0.95M104.8,349.1h0.95M105.3,345.9h0.95M120.5,334.7h0.95M134.3,319.4h0.95M103.9,348.3h0.95M139.1,314.4h0.95M129.2,327.0h0.95M126.2,332.8h0.95M146.5,312.2h0.95M134.3,322.0h0.95M129.1,324.0h0.95M136.8,317.1h0.95M158.8,299.6h0.95M146.8,311.4h0.95M139.2,313.1h0.95M118.0,331.9h0.95M99.5,352.7h0.95M108.3,350.4h0.95M142.8,314.9h0.95M141.6,312.3h0.95M107.0,348.2h0.95M164.7,293.4h0.95M139.7,313.2h0.95M145.9,309.5h0.95M138.3,315.4h0.95M142.6,310.1h0.95M168.2,290.0h0.95M117.0,338.3h0.95M162.8,294.8h0.95M102.3,351.3h0.95M148.1,306.1h0.95M139.1,316.6h0.95M116.2,338.2h0.95M154.6,301.4h0.95M124.0,331.4h0.95M118.0,336.3h0.95M154.9,301.5h0.95M156.1,300.8h0.95M126.9,325.6h0.95M104.7,347.3h0.95M147.9,309.1h0.95M168.1,290.0h0.95M120.8,327.9h0.95M124.9,331.2h0.95M132.9,325.6h0.95M153.8,304.2h0.95M126.7,327.2h0.95M115.0,336.3h0.95M129.8,325.8h0.95M163.7,293.8h0.95M104.8,346.4h0.95M134.0,320.4h0.95M143.6,313.3h0.95M104.7,347.5h0.95M151.6,303.1h0.95M141.1,315.4h0.95M117.4,332.3h0.95M107.3,345.8h0.95M113.4,337.7h0.95M147.8,309.0h0.95M164.0,294.9h0.95M102.3,349.0h0.95M133.8,322.1h0.95M122.9,332.0h0.95M104.1,348.0h0.95M164.0,294.4h0.95M125.7,327.1h0.95M144.7,311.5h0.95M139.1,316.7h0.95M117.0,338.7h0.95M123.6,331.2h0.95M167.7,290.6h0.95M103.9,347.6h0.95M161.9,294.8h0.95M124.0,326.0h0.95M160.6,296.7h0.95M126.8,325.4h0.95M143.9,311.4h0.95M142.7,311.0h0.95M167.0,290.4h0.95M139.1,316.9h0.95M163.5,294.1h0.95M142.3,312.9h0.95M116.2,338.8h0.95M119.0,332.9h0.95M140.7,319.4h0.95M137.8,317.1h0.95M142.3,311.7h0.95M168.3,289.5h0.95M100.0,352.5h0.95M140.3,313.9h0.95M143.5,310.8h0.95M143.5,312.0h0.95M142.4,316.3h0.95M148.3,305.4h0.95M151.8,304.6h0.95M165.9,292.2h0.95M115.2,341.7h0.95M153.8,302.4h0.95M142.3,312.4h0.95M101.8,346.7h0.95M149.6,306.6h0.95M103.1,349.8h0.95M106.0,345.3h0.95M161.7,295.3h0.95M115.2,338.6h0.95M129.6,321.7h0.95M109.4,343.8h0.95M163.6,294.2h0.95M104.4,349.5h0.95M118.1,333.8h0.95M101.4,350.1h0.95M117.8,335.2h0.95M107.2,348.2h0.95M132.3,324.1h0.95M107.4,343.2h0.95M123.4,333.4h0.95M112.0,339.0h0.95M100.8,352.0h0.95M138.2,315.5h0.95M168.0,290.3h0.95M136.8,318.5h0.95M107.3,341.9h0.95M143.8,311.1h0.95M159.4,298.5h0.95M136.0,318.3h0.95M149.0,308.5h0.95M139.8,315.5h0.95M107.1,347.2h0.95M138.5,313.2h0.95M141.0,314.8h0.95M126.7,327.3h0.95M113.6,340.1h0.95M132.8,322.0h0.95M99.1,352.7h0.95M143.1,313.9h0.95M118.7,334.0h0.95M110.2,345.4h0.95M150.3,305.9h0.95M101.9,350.7h0.95M167.5,291.0h0.95M110.1,348.1h0.95M154.3,301.4h0.95M147.3,309.9h0.95M161.7,295.7h0.95M164.1,293.7h0.95M163.9,293.0h0.95M147.7,310.3h0.95M142.9,311.3h0.95M168.6,289.8h0.95M167.6,290.4h0.95M138.7,315.2h0.95M104.2,349.1h0.95M151.1,306.1h0.95M137.9,316.6h0.95M142.2,314.9h0.95M101.9,349.9h0.95M99.8,352.2h0.95M165.5,292.1h0.95M140.4,318.3h0.95M115.0,335.5h0.95M120.9,341.3h0.95M149.8,306.5h0.95M134.8,324.2h0.95M141.5,317.9h0.95M140.4,315.9h0.95M115.5,335.7h0.95M121.3,333.2h0.95M137.7,315.6h0.95M105.5,345.6h0.95M150.6,303.2h0.95M138.0,316.3h0.95M162.8,294.8h0.95M141.3,316.4h0.95M160.7,296.2h0.95M147.4,308.2h0.95M168.2,289.7h0.95M159.5,297.1h0.95M153.1,303.6h0.95M156.9,301.4h0.95M119.1,336.3h0.95M150.4,308.4h0.95M107.2,349.5h0.95M103.8,348.3h0.95M139.5,314.1h0.95M157.0,299.5h0.95M143.5,312.8h0.95M162.2,295.7h0.95M101.7,345.8h0.95M99.7,350.0h0.95M102.9,345.2h0.95M142.2,312.8h0.95M137.7,319.3h0.95M143.1,312.3h0.95M142.6,313.0h0.95M110.3,343.1h0.95M150.2,306.2h0.95M164.2,294.4h0.95M148.6,307.9h0.95M153.7,302.6h0.95M168.3,289.8h0.95M105.2,346.6h0.95M119.6,339.6h0.95M156.0,302.1h0.95M165.1,292.4h0.95M144.4,312.0h0.95M137.0,316.7h0.95M140.9,314.3h0.95M134.9,322.6h0.95M155.6,300.5h0.95M119.9,333.1h0.95M142.0,312.2h0.95M158.6,299.0h0.95M160.8,296.6h0.95M142.1,311.4h0.95M102.9,349.1h0.95M117.7,335.4h0.95M151.0,305.0h0.95M126.9,327.1h0.95M125.6,331.5h0.95M106.8,341.4h0.95M153.6,305.2h0.95M117.2,340.7h0.95M111.1,339.3h0.95M168.0,290.1h0.95M164.5,293.3h0.95M167.7,290.4h0.95M121.7,335.5h0.95M160.7,296.0h0.95M138.3,318.2h0.95M101.8,352.5h0.95M165.0,292.3h0.95M131.6,323.0h0.95M138.0,316.9h0.95M142.5,314.4h0.95M133.1,326.1h0.95M162.5,294.6h0.95M105.4,347.3h0.95M135.5,319.5h0.95M140.7,310.7h0.95M110.9,342.0h0.95M153.5,305.8h0.95M137.6,317.0h0.95M141.0,316.4h0.95M159.9,297.8h0.95M163.5,294.7h0.95M117.7,335.1h0.95M138.8,317.9h0.95M140.6,310.2h0.95M143.5,312.6h0.95M144.7,308.7h0.95M132.3,324.7h0.95M143.4,315.2h0.95M154.5,301.2h0.95M101.5,351.1h0.95M141.0,316.5h0.95M106.7,346.2h0.95M121.4,333.4h0.95M117.0,337.9h0.95M124.3,327.0h0.95M145.8,313.1h0.95M155.5,301.3h0.95M105.7,348.2h0.95M126.6,333.0h0.95M153.1,303.9h0.95M140.8,315.3h0.95M165.6,292.3h0.95M130.0,324.8h0.95M104.4,348.1h0.95M121.6,333.8h0.95M136.3,316.2h0.95M111.2,344.4h0.95M149.7,307.0h0.95M134.6,320.9h0.95M148.2,306.9h0.95M116.9,334.1h0.95M105.9,344.6h0.95M156.6,302.5h0.95M110.0,341.1h0.95M133.9,321.6h0.95M101.5,350.5h0.95M116.4,335.0h0.95M152.8,304.6h0.95M137.0,318.0h0.95M114.6,337.4h0.95M108.7,343.0h0.95M126.3,325.0h0.95M113.7,337.8h0.95M110.1,337.8h0.95M125.3,329.6h0.95M124.6,326.0h0.95M141.6,314.2h0.95M121.8,327.3h0.95M138.3,317.9h0.95M132.5,320.5h0.95M117.6,334.5h0.95M161.5,295.1h0.95M125.7,326.5h0.95M146.8,310.3h0.95M138.8,315.1h0.95M155.3,301.1h0.95M115.6,336.5h0.95M111.9,343.8h0.95M138.6,316.8h0.95M138.1,318.9h0.95M161.2,296.1h0.95M154.6,301.9h0.95M119.8,338.1h0.95M150.1,305.0h0.95M162.4,295.3h0.95M101.1,350.1h0.95M149.3,309.5h0.95M103.2,346.7h0.95M136.4,316.8h0.95M135.6,321.0h0.95M114.7,337.7h0.95M142.0,314.2h0.95M121.3,325.0h0.95M164.0,293.3h0.95M105.9,347.1h0.95M140.4,312.4h0.95M149.5,308.5h0.95M141.9,312.5h0.95M103.3,347.5h0.95M153.4,303.5h0.95M115.2,336.2h0.95M118.3,337.6h0.95M113.4,340.3h0.95M130.9,318.7h0.95M113.0,339.1h0.95M150.5,307.7h0.95M143.5,314.4h0.95M141.4,314.9h0.95M155.5,300.8h0.95M144.3,312.2h0.95M143.8,311.1h0.95M164.6,293.1h0.95M107.3,343.8h0.95M109.7,343.0h0.95M127.9,322.8h0.95M164.8,292.2h0.95M165.8,292.0h0.95M103.8,349.7h0.95M117.6,340.2h0.95M102.3,348.8h0.95M130.4,324.8h0.95M132.3,323.0h0.95M114.6,337.5h0.95M104.2,351.5h0.95M134.4,320.7h0.95M119.2,336.1h0.95M113.4,337.1h0.95M141.0,314.3h0.95M136.7,319.8h0.95M137.0,317.7h0.95M120.8,334.8h0.95M120.7,329.2h0.95M100.2,351.8h0.95M115.5,336.7h0.95M168.0,290.2h0.95M106.8,344.0h0.95M152.7,304.9h0.95M106.3,348.0h0.95M117.3,337.0h0.95M109.6,343.2h0.95M166.7,291.4h0.95M155.7,301.2h0.95M124.4,328.9h0.95M134.1,322.3h0.95M130.2,323.7h0.95M161.2,295.9h0.95M132.4,321.3h0.95M166.2,291.3h0.95M153.6,303.2h0.95M139.9,314.7h0.95M121.9,326.6h0.95M163.9,293.5h0.95M127.3,322.9h0.95M152.7,304.0h0.95M144.3,312.1h0.95M167.2,290.6h0.95M142.8,313.6h0.95M146.8,310.2h0.95M115.1,333.6h0.95M108.2,341.1h0.95M122.3,333.7h0.95M166.3,291.7h0.95M110.5,341.6h0.95M113.6,336.8h0.95M165.8,292.3h0.95M124.0,330.8h0.95M111.7,343.2h0.95M168.2,289.9h0.95M114.4,337.5h0.95M124.3,329.4h0.95M148.5,306.3h0.95M140.7,319.9h0.95M108.6,342.2h0.95M148.6,306.7h0.95M159.4,297.3h0.95M162.4,295.1h0.95M130.5,327.0h0.95M141.9,310.5h0.95M154.2,303.1h0.95M102.9,347.9h0.95M163.3,294.6h0.95M153.7,303.6h0.95M143.8,311.8h0.95M118.9,335.2h0.95M155.5,302.6h0.95M138.3,317.8h0.95M165.9,292.5h0.95M125.0,328.7h0.95M161.6,296.2h0.95M141.8,313.1h0.95M153.8,303.1h0.95M124.9,327.5h0.95M103.8,349.6h0.95M164.1,293.8h0.95M129.7,326.2h0.95M167.2,290.8h0.95M167.1,291.5h0.95M103.3,350.9h0.95M133.4,320.6h0.95M139.1,317.2h0.95M148.8,305.6h0.95M127.0,329.0h0.95M128.4,330.3h0.95M141.0,315.8h0.95M152.1,304.5h0.95M120.1,335.6h0.95M166.9,291.2h0.95M110.2,344.9h0.95M156.9,300.2h0.95M116.8,339.7h0.95M117.3,337.4h0.95M137.6,316.3h0.95M125.3,330.1h0.95M147.4,307.1h0.95M147.9,310.8h0.95M122.9,329.2h0.95M133.9,320.8h0.95M137.6,315.2h0.95M163.0,295.2h0.95M150.3,306.5h0.95M113.9,338.2h0.95M158.6,299.0h0.95M157.2,299.9h0.95M132.0,323.5h0.95M140.3,314.0h0.95M128.0,324.8h0.95M141.6,312.8h0.95M155.1,302.6h0.95M147.6,309.8h0.95M144.7,310.6h0.95M158.1,297.8h0.95M138.8,318.2h0.95M164.7,293.3h0.95M127.8,328.7h0.95M143.1,312.0h0.95M163.8,293.7h0.95M158.8,299.5h0.95M121.7,334.1h0.95M140.9,314.0h0.95M165.2,293.2h0.95M101.6,350.5h0.95M141.9,314.2h0.95M128.2,323.9h0.95M140.1,317.9h0.95M162.5,295.2h0.95M153.0,304.0h0.95M132.6,320.1h0.95M125.3,329.8h0.95M103.7,347.9h0.95M101.1,351.7h0.95M152.4,304.8h0.95M163.1,295.4h0.95M111.8,341.5h0.95M139.6,314.3h0.95M126.4,325.2h0.95M137.7,316.5h0.95M118.7,335.0h0.95M100.0,352.5h0.95M142.2,312.6h0.95M102.0,348.3h0.95M129.2,327.7h0.95M113.1,337.4h0.95M130.8,320.0h0.95M106.0,349.2h0.95M167.7,290.8h0.95M166.8,290.9h0.95M139.2,316.6h0.95M160.8,296.6h0.95M119.8,333.4h0.95M101.2,351.9h0.95M99.3,351.0h0.95M145.0,312.3h0.95M145.3,311.7h0.95M164.8,293.5h0.95M144.2,309.3h0.95M124.6,327.2h0.95M128.5,326.3h0.95M162.1,294.5h0.95M128.5,326.4h0.95M117.3,335.6h0.95M120.9,333.8h0.95M119.9,333.6h0.95M140.0,315.2h0.95M102.4,348.2h0.95M144.1,311.7h0.95M156.9,301.7h0.95M122.5,329.7h0.95M121.5,327.6h0.95M138.1,319.7h0.95M145.3,310.2h0.95M162.6,294.7h0.95M106.2,342.9h0.95M164.0,293.7h0.95M155.6,300.8h0.95M126.6,326.9h0.95M146.1,308.4h0.95M128.9,327.2h0.95M153.7,304.8h0.95M163.9,293.7h0.95M142.5,312.7h0.95M138.8,316.7h0.95M100.4,351.0h0.95M157.0,300.1h0.95M165.6,291.9h0.95M154.0,301.9h0.95M163.8,293.5h0.95M102.5,348.5h0.95M166.7,290.6h0.95M146.2,312.1h0.95M142.4,314.4h0.95M116.0,335.6h0.95M133.5,323.0h0.95M135.9,322.8h0.95M146.1,312.1h0.95M152.4,303.3h0.95M140.9,314.5h0.95M124.8,331.0h0.95M133.1,325.1h0.95M147.0,308.4h0.95M116.6,337.6h0.95M155.4,300.8h0.95M135.5,316.2h0.95M136.6,323.3h0.95M140.9,314.9h0.95M155.3,300.9h0.95M103.7,348.2h0.95M102.2,350.4h0.95M128.5,323.8h0.95M140.0,314.0h0.95M144.7,310.6h0.95M124.8,332.2h0.95M140.5,316.3h0.95M156.2,300.0h0.95M164.4,292.8h0.95M103.5,347.6h0.95M131.1,327.0h0.95M105.7,344.2h0.95M143.2,314.0h0.95M138.0,321.4h0.95M143.6,314.4h0.95M117.9,335.7h0.95M126.3,332.0h0.95M141.0,314.5h0.95M109.4,348.6h0.95M125.7,328.1h0.95M129.6,321.3h0.95M127.1,327.8h0.95M120.1,332.3h0.95M136.2,316.1h0.95M139.4,316.8h0.95M139.7,314.9h0.95M155.0,301.2h0.95M122.6,333.1h0.95M168.2,290.3h0.95M138.2,313.9h0.95M137.8,318.3h0.95M146.1,309.5h0.95M124.5,330.5h0.95M143.7,311.6h0.95M159.2,297.3h0.95M136.4,317.0h0.95M148.6,305.7h0.95M105.3,345.0h0.95M167.0,291.7h0.95M103.3,348.8h0.95M136.0,321.9h0.95M124.0,330.5h0.95M139.8,316.9h0.95M113.9,341.5h0.95M142.5,314.7h0.95M157.6,300.3h0.95M144.7,311.9h0.95M145.1,311.6h0.95M149.1,306.5h0.95M118.3,336.6h0.95M122.0,329.8h0.95M99.6,349.8h0.95M114.7,341.0h0.95M103.4,350.9h0.95M143.5,310.3h0.95M108.0,347.0h0.95M130.8,325.3h0.95M138.0,315.4h0.95M161.0,298.0h0.95M143.0,314.7h0.95M129.8,326.9h0.95M140.0,313.7h0.95M165.5,292.8h0.95M142.7,313.3h0.95M146.8,310.5h0.95M163.4,294.3h0.95M142.0,317.8h0.95M163.4,294.0h0.95M153.1,305.7h0.95M149.0,307.3h0.95M109.1,348.0h0.95M158.1,299.5h0.95M128.8,322.1h0.95M140.2,315.0h0.95M154.6,302.8h0.95M113.8,338.1h0.95M123.3,333.4h0.95M104.0,348.4h0.95M136.0,319.1h0.95M158.9,297.0h0.95M129.6,332.9h0.95M144.2,312.6h0.95M115.6,340.6h0.95M150.7,307.1h0.95M108.1,347.7h0.95M139.3,319.5h0.95M129.3,322.1h0.95M124.9,326.6h0.95M130.5,321.4h0.95M139.7,315.7h0.95M128.2,327.1h0.95M157.2,299.4h0.95M117.3,331.5h0.95M149.7,306.8h0.95M139.3,314.8h0.95M99.7,350.6h0.95M152.9,303.6h0.95M129.2,319.6h0.95M133.8,326.0h0.95M122.1,332.1h0.95M144.5,310.8h0.95M108.8,344.2h0.95M144.9,310.5h0.95M125.1,327.9h0.95M116.1,338.2h0.95M124.4,326.1h0.95M141.7,313.4h0.95M117.8,338.8h0.95M122.4,330.1h0.95M124.2,330.2h0.95M161.9,296.5h0.95M125.8,328.3h0.95M164.8,293.5h0.95M101.7,350.8h0.95M157.5,298.5h0.95M156.9,301.6h0.95M167.1,290.7h0.95M156.7,301.1h0.95M159.2,298.6h0.95M150.8,306.9h0.95M102.2,348.5h0.95M150.9,307.1h0.95M143.4,314.6h0.95M165.6,292.5h0.95M138.0,314.8h0.95M140.4,313.3h0.95M153.3,305.8h0.95M166.9,291.3h0.95M137.4,317.1h0.95M146.7,308.2h0.95M121.7,336.9h0.95M138.0,316.4h0.95M117.6,338.8h0.95M137.6,314.5h0.95M138.8,317.8h0.95M114.9,338.2h0.95M105.1,350.4h0.95M165.7,292.6h0.95M129.8,325.5h0.95M156.4,301.9h0.95M148.0,308.5h0.95M125.6,332.5h0.95M122.3,330.8h0.95M144.3,311.0h0.95M161.6,295.4h0.95M124.2,330.2h0.95M145.5,310.9h0.95M167.5,291.1h0.95M159.5,298.1h0.95M139.8,319.1h0.95M149.3,306.0h0.95M152.1,304.9h0.95M102.6,349.5h0.95M159.6,295.5h0.95M140.5,315.1h0.95M117.8,337.4h0.95M162.0,294.2h0.95M157.9,299.2h0.95M127.2,326.7h0.95M159.8,297.5h0.95M109.1,340.9h0.95M140.7,313.8h0.95M137.3,317.1h0.95M113.1,338.9h0.95M148.1,307.9h0.95M133.2,321.5h0.95M142.9,311.6h0.95M151.4,304.1h0.95M164.9,292.5h0.95M151.9,303.9h0.95M128.1,325.8h0.95M166.1,291.5h0.95M161.3,296.1h0.95M141.8,311.9h0.95M124.0,326.4h0.95M138.6,318.6h0.95M130.6,321.4h0.95M110.9,347.7h0.95M135.5,316.2h0.95M137.0,320.4h0.95M167.2,290.9h0.95M139.9,318.1h0.95M143.2,310.2h0.95M165.9,291.4h0.95M102.3,350.7h0.95M150.7,307.1h0.95M146.6,307.8h0.95M116.6,335.5h0.95M120.1,334.1h0.95M158.1,299.0h0.95M112.2,343.9h0.95M141.6,314.0h0.95M110.7,343.1h0.95M160.5,299.1h0.95M134.2,321.5h0.95M153.9,303.1h0.95M100.2,350.8h0.95M164.9,292.7h0.95M160.5,296.4h0.95M120.3,340.7h0.95M136.0,317.3h0.95M146.1,311.3h0.95M116.1,339.2h0.95M129.0,325.4h0.95M139.8,316.6h0.95M165.0,292.3h0.95M143.3,312.1h0.95M146.4,309.6h0.95M132.8,324.5h0.95M140.7,316.1h0.95M127.6,326.5h0.95M126.9,326.7h0.95M151.9,304.8h0.95M125.4,327.9h0.95M113.3,339.8h0.95M103.5,350.4h0.95M166.0,291.9h0.95M141.3,315.5h0.95M128.1,326.4h0.95M103.3,347.0h0.95M137.7,317.7h0.95M106.1,346.6h0.95M141.5,315.4h0.95M151.9,305.9h0.95M165.2,293.8h0.95M130.0,320.1h0.95M158.5,298.7h0.95M143.3,310.9h0.95M167.8,290.6h0.95M116.2,332.7h0.95M120.5,333.2h0.95M126.6,327.5h0.95M104.5,346.8h0.95M144.1,311.7h0.95M119.0,335.7h0.95M166.9,290.8h0.95M153.1,303.0h0.95M141.3,312.2h0.95M141.5,313.6h0.95M164.0,294.2h0.95M122.1,331.1h0.95M115.0,337.7h0.95M112.0,342.8h0.95M120.2,335.8h0.95M156.6,301.2h0.95M146.3,312.5h0.95M115.4,341.5h0.95M128.2,328.3h0.95M120.0,328.4h0.95M166.4,291.5h0.95M157.7,300.4h0.95M99.2,352.3h0.95M112.6,342.4h0.95M164.9,292.6h0.95M114.8,336.1h0.95M138.7,315.4h0.95M110.7,342.6h0.95M100.1,352.5h0.95M126.9,326.3h0.95M114.8,335.0h0.95M108.6,343.3h0.95M130.3,327.4h0.95M143.5,312.2h0.95M132.2,324.7h0.95M142.0,314.7h0.95M99.9,352.8h0.95M133.5,319.2h0.95M127.1,329.9h0.95M145.0,311.8h0.95M162.1,295.3h0.95M122.0,331.8h0.95M156.5,300.2h0.95M167.5,290.8h0.95M142.5,314.2h0.95M159.1,297.9h0.95M126.6,328.4h0.95M163.9,294.7h0.95M155.3,302.3h0.95M113.8,343.0h0.95M148.1,308.6h0.95M148.0,307.2h0.95M127.7,328.6h0.95M141.0,317.4h0.95M118.6,329.7h0.95M144.1,312.1h0.95M157.6,299.4h0.95M165.6,292.3h0.95M146.1,309.5h0.95M142.2,312.9h0.95M127.3,326.2h0.95M117.4,335.3h0.95M129.7,324.6h0.95M129.9,323.2h0.95M104.0,345.4h0.95M115.5,338.2h0.95M124.1,326.1h0.95M146.9,308.5h0.95M147.7,310.8h0.95M119.4,333.8h0.95M160.9,296.1h0.95M140.3,315.5h0.95M120.6,335.3h0.95M105.0,345.2h0.95M149.0,305.6h0.95M146.4,312.6h0.95M111.5,342.6h0.95M101.4,349.8h0.95M159.6,297.8h0.95M122.6,326.9h0.95M162.1,294.7h0.95M100.0,351.1h0.95M133.3,323.6h0.95M130.8,321.2h0.95M137.7,317.5h0.95M155.2,301.4h0.95M139.1,314.3h0.95M104.7,343.4h0.95M153.8,304.5h0.95M149.2,307.7h0.95M139.9,313.0h0.95M113.3,343.4h0.95M121.9,329.5h0.95M102.7,347.7h0.95M108.4,345.5h0.95M115.7,338.5h0.95M142.9,311.2h0.95M141.0,316.1h0.95M161.8,294.4h0.95M166.9,291.1h0.95M106.8,346.5h0.95M147.6,309.4h0.95M107.4,344.2h0.95M118.0,336.8h0.95M123.5,331.2h0.95M148.7,311.0h0.95M119.6,335.1h0.95M137.9,315.3h0.95M155.4,299.8h0.95M139.3,317.4h0.95M161.4,296.0h0.95M157.9,299.5h0.95M132.2,320.6h0.95M159.0,299.1h0.95M163.0,293.7h0.95M131.2,324.5h0.95M106.7,344.1h0.95M157.7,299.0h0.95M146.8,310.6h0.95M138.5,313.7h0.95M146.6,308.2h0.95M162.3,296.8h0.95M141.6,312.0h0.95M159.9,297.3h0.95M126.7,327.2h0.95M162.8,294.5h0.95M137.0,320.4h0.95M128.8,327.1h0.95M139.7,312.9h0.95M155.7,302.2h0.95M156.0,301.4h0.95M142.8,314.6h0.95M159.9,297.6h0.95M162.8,295.1h0.95M112.6,337.3h0.95M163.0,294.5h0.95M142.3,314.4h0.95M137.4,318.6h0.95M142.3,312.9h0.95M107.5,341.3h0.95M103.3,346.4h0.95M160.4,298.0h0.95M102.8,350.1h0.95M161.9,296.6h0.95M127.2,326.6h0.95M153.8,303.1h0.95M129.8,326.0h0.95M166.7,291.2h0.95M138.1,316.1h0.95M148.7,309.1h0.95M122.4,333.1h0.95M126.8,327.4h0.95M123.9,331.7h0.95M140.5,313.7h0.95M103.8,347.3h0.95M150.0,306.5h0.95M144.4,314.0h0.95M113.1,334.9h0.95M167.1,290.8h0.95M167.9,290.5h0.95M113.3,337.5h0.95M114.4,340.7h0.95M144.1,312.6h0.95M129.7,325.4h0.95M125.5,328.6h0.95M136.5,316.8h0.95M122.5,328.5h0.95M164.9,293.0h0.95M153.2,303.1h0.95M101.6,349.5h0.95M132.5,323.6h0.95M107.4,349.2h0.95M122.7,332.5h0.95M146.3,307.8h0.95M120.3,330.1h0.95M160.2,298.5h0.95M138.1,317.5h0.95M110.0,343.4h0.95M134.5,321.1h0.95M138.6,318.2h0.95M135.8,317.3h0.95M123.0,328.7h0.95M134.3,322.8h0.95M105.5,348.3h0.95M117.2,337.7h0.95M112.3,339.1h0.95M148.9,306.9h0.95M117.5,335.9h0.95M115.4,342.4h0.95M126.8,329.2h0.95M137.3,318.1h0.95M162.9,294.5h0.95M162.0,296.9h0.95M163.4,293.7h0.95M109.0,344.4h0.95M154.9,302.8h0.95M152.6,305.2h0.95M143.4,312.8h0.95M142.0,312.4h0.95M117.6,336.6h0.95M121.1,334.7h0.95M149.4,308.2h0.95M150.0,306.8h0.95M128.0,324.1h0.95M148.9,308.3h0.95M161.6,296.1h0.95M109.0,342.0h0.95M137.9,316.2h0.95M140.8,313.8h0.95M133.7,323.6h0.95M145.9,311.8h0.95M102.9,351.1h0.95M118.7,335.1h0.95M151.0,305.6h0.95M168.2,290.0h0.95M114.3,341.9h0.95M102.2,348.7h0.95M135.5,318.8h0.95M138.2,317.2h0.95M145.6,310.3h0.95M126.2,328.0h0.95M162.2,295.1h0.95M146.1,311.3h0.95M111.0,340.0h0.95M105.6,349.2h0.95M149.0,307.6h0.95M127.6,330.7h0.95M145.2,313.2h0.95M112.1,341.7h0.95M137.2,320.7h0.95M149.7,306.4h0.95M113.3,338.3h0.95M101.4,351.9h0.95M167.3,290.9h0.95M149.9,307.8h0.95M107.6,341.8h0.95M145.3,313.4h0.95M99.2,352.9h0.95M104.1,348.7h0.95M133.0,322.7h0.95M157.3,299.2h0.95M130.3,323.7h0.95M138.4,317.7h0.95M107.0,346.1h0.95M139.4,316.6h0.95M141.8,315.2h0.95M129.3,324.7h0.95M163.9,293.6h0.95M163.1,294.6h0.95M145.2,312.4h0.95M164.7,292.7h0.95M154.6,302.8h0.95M109.6,347.3h0.95M142.2,315.4h0.95M142.7,313.5h0.95M161.0,296.9h0.95M104.2,345.3h0.95M146.2,311.1h0.95M132.3,323.1h0.95M117.7,338.7h0.95M166.4,291.2h0.95M144.6,310.9h0.95M106.9,345.1h0.95M110.9,346.8h0.95M146.7,310.9h0.95M144.9,313.7h0.95M145.3,311.9h0.95M118.0,336.6h0.95M126.6,327.1h0.95M139.7,317.5h0.95M139.1,318.0h0.95M130.2,325.6h0.95M149.1,306.2h0.95M109.3,344.2h0.95M156.0,301.1h0.95M157.1,300.8h0.95M160.5,296.9h0.95M110.5,341.9h0.95M155.3,300.1h0.95M156.8,301.0h0.95M100.0,351.8h0.95M116.5,338.7h0.95M161.1,295.6h0.95M140.6,315.9h0.95M102.9,350.0h0.95M153.6,304.7h0.95M124.4,326.0h0.95M110.2,344.8h0.95M117.6,333.0h0.95M105.9,351.4h0.95M134.8,319.3h0.95M132.8,325.7h0.95M160.1,298.8h0.95M150.8,307.4h0.95M145.2,315.2h0.95M119.4,336.9h0.95M101.2,350.9h0.95M102.7,345.8h0.95M153.1,305.6h0.95M107.3,339.9h0.95M162.5,296.1h0.95M117.1,336.7h0.95M137.6,315.7h0.95M168.4,289.6h0.95M127.1,320.8h0.95M164.8,292.9h0.95M138.8,317.7h0.95M127.7,327.3h0.95M104.7,340.6h0.95M165.8,292.8h0.95M144.9,312.4h0.95M143.4,313.1h0.95M135.5,318.2h0.95M129.3,325.9h0.95M117.1,334.5h0.95M122.8,331.0h0.95M140.3,315.1h0.95M168.3,289.8h0.95M136.4,315.8h0.95M110.7,342.3h0.95M100.7,350.8h0.95M129.8,326.9h0.95M166.7,291.1h0.95M162.7,296.3h0.95M105.7,345.8h0.95M131.0,327.9h0.95M166.7,291.5h0.95M148.5,308.9h0.95M121.2,335.9h0.95M145.6,310.7h0.95M121.8,333.0h0.95M156.2,300.8h0.95M167.2,291.2h0.95M111.0,342.5h0.95M121.1,338.8h0.95M156.6,300.9h0.95M138.6,314.4h0.95M143.8,313.1h0.95M140.2,316.1h0.95M142.0,315.2h0.95M122.0,329.6h0.95M143.2,314.0h0.95M114.8,345.0h0.95M105.0,343.5h0.95M165.3,292.3h0.95M164.4,293.5h0.95M134.8,315.5h0.95M121.9,330.1h0.95M108.0,345.0h0.95M137.2,317.9h0.95M110.3,339.8h0.95M147.2,309.1h0.95M137.5,318.2h0.95M134.7,321.0h0.95M161.4,298.4h0.95M118.3,335.6h0.95M145.7,312.1h0.95M139.5,316.4h0.95M166.8,290.9h0.95M120.4,334.4h0.95M110.7,342.4h0.95M127.6,326.6h0.95M101.6,350.4h0.95M112.2,336.8h0.95M114.5,339.3h0.95M147.2,309.0h0.95M128.6,325.8h0.95M145.5,311.0h0.95M162.6,295.7h0.95M142.0,316.0h0.95M112.1,342.6h0.95M100.8,349.6h0.95M141.9,312.9h0.95M138.3,315.5h0.95M145.4,310.5h0.95M106.9,345.1h0.95M156.3,301.3h0.95M109.4,337.7h0.95M164.7,293.1h0.95M104.0,349.9h0.95M155.9,301.3h0.95M117.3,336.1h0.95M137.4,319.7h0.95M100.5,350.9h0.95M129.7,322.4h0.95M160.6,297.5h0.95M135.8,320.2h0.95M160.1,297.8h0.95M108.2,342.1h0.95M168.7,289.8h0.95M155.4,302.0h0.95M149.3,309.8h0.95M159.2,298.6h0.95M118.7,336.7h0.95M140.7,311.8h0.95M119.5,329.4h0.95M142.4,311.3h0.95M138.9,317.9h0.95M158.5,299.0h0.95M131.4,320.6h0.95M150.7,307.5h0.95M113.5,336.8h0.95M134.3,319.9h0.95M148.5,308.1h0.95M107.0,341.7h0.95M140.6,315.9h0.95M122.1,331.1h0.95M130.7,324.2h0.95M114.7,338.7h0.95M123.5,330.5h0.95M126.4,334.7h0.95M136.2,318.5h0.95M136.8,316.3h0.95M122.6,332.6h0.95M114.6,338.8h0.95M130.4,325.3h0.95M114.9,339.2h0.95M153.3,304.7h0.95M106.5,346.6h0.95M128.3,325.9h0.95M117.3,336.0h0.95M99.5,352.3h0.95M128.0,327.3h0.95M164.1,293.7h0.95M101.9,348.9h0.95M127.3,325.2h0.95M136.6,322.9h0.95M137.9,315.6h0.95M147.1,308.9h0.95M139.1,316.7h0.95M140.2,315.1h0.95M152.0,304.3h0.95M123.3,330.5h0.95M143.0,314.2h0.95M112.8,345.0h0.95M111.7,341.7h0.95M142.1,312.6h0.95M110.7,342.0h0.95M100.9,351.8h0.95M139.7,317.4h0.95M117.6,331.9h0.95M144.6,312.7h0.95M138.6,317.2h0.95M103.3,351.5h0.95M159.2,299.3h0.95M104.0,351.3h0.95M143.0,312.0h0.95M104.8,343.4h0.95M155.6,300.5h0.95M100.9,346.8h0.95M139.3,317.6h0.95M141.0,314.5h0.95M141.9,314.3h0.95M144.3,313.6h0.95M129.4,323.1h0.95M111.5,339.6h0.95M168.2,289.6h0.95M137.1,319.1h0.95M131.7,321.8h0.95M136.7,315.9h0.95M138.6,318.4h0.95M159.0,299.3h0.95M144.6,310.5h0.95M140.6,316.0h0.95M100.5,350.9h0.95M124.5,332.3h0.95M111.8,345.5h0.95M108.3,346.8h0.95M123.0,330.7h0.95M163.7,293.8h0.95M141.7,316.2h0.95M113.4,339.3h0.95M136.4,315.7h0.95M151.4,304.4h0.95M168.2,290.0h0.95M112.0,338.0h0.95M145.3,310.8h0.95M149.5,305.4h0.95M128.2,329.4h0.95M155.8,301.0h0.95M142.0,314.1h0.95M138.8,316.0h0.95M157.6,300.1h0.95M148.5,307.7h0.95M142.5,311.4h0.95M153.5,302.4h0.95M167.1,291.1h0.95M136.0,315.5h0.95M156.0,300.7h0.95M151.7,302.8h0.95M142.7,312.8h0.95M110.1,340.8h0.95M102.9,346.4h0.95M150.8,306.4h0.95M166.4,291.5h0.95M106.4,342.3h0.95M125.4,329.3h0.95M126.3,328.9h0.95M123.3,327.4h0.95M124.6,330.0h0.95M134.4,322.7h0.95M111.0,342.1h0.95M106.8,343.8h0.95M144.7,312.2h0.95M114.2,336.1h0.95M100.2,351.2h0.95M148.8,308.2h0.95M120.4,337.7h0.95M144.6,310.9h0.95M145.5,308.8h0.95M115.0,342.2h0.95M106.6,348.2h0.95M102.5,348.3h0.95M159.4,297.4h0.95M160.1,296.6h0.95M129.1,325.5h0.95M101.1,351.5h0.95M144.2,312.3h0.95M152.7,302.7h0.95M155.2,303.6h0.95M157.5,300.2h0.95M139.6,313.6h0.95M142.4,313.1h0.95M122.4,329.1h0.95M138.6,315.5h0.95M108.6,337.7h0.95M99.7,351.2h0.95M165.4,292.5h0.95M156.9,300.5h0.95M126.2,323.8h0.95M122.2,332.1h0.95M158.8,298.7h0.95M131.3,323.7h0.95M128.8,327.7h0.95M144.4,311.6h0.95M147.8,308.9h0.95M160.8,296.8h0.95M144.5,310.2h0.95M120.4,336.1h0.95M150.1,306.4h0.95M154.9,302.7h0.95M151.7,304.2h0.95M126.6,329.2h0.95M113.4,335.8h0.95M103.4,349.7h0.95M116.7,337.0h0.95M127.2,330.9h0.95M152.7,305.5h0.95M108.7,345.7h0.95M156.5,300.3h0.95M119.1,335.3h0.95M145.9,309.9h0.95M107.3,346.0h0.95M139.5,318.2h0.95M119.3,336.8h0.95M144.3,312.8h0.95M147.9,308.4h0.95M117.3,333.5h0.95M116.0,336.9h0.95M100.4,351.7h0.95M161.0,296.7h0.95M129.3,321.3h0.95M141.2,312.9h0.95M160.1,296.3h0.95M166.1,292.2h0.95M115.1,335.2h0.95M129.8,327.1h0.95M153.6,305.1h0.95M114.2,340.5h0.95M110.0,340.3h0.95M144.7,313.7h0.95M116.3,341.0h0.95M132.2,322.9h0.95M141.4,317.5h0.95M137.8,320.0h0.95M138.9,316.3h0.95M130.5,326.9h0.95M159.2,298.2h0.95M138.8,316.2h0.95M139.0,316.3h0.95M100.0,352.0h0.95M130.9,324.6h0.95M141.4,317.3h0.95M152.5,306.1h0.95M152.9,302.6h0.95M155.1,302.3h0.95M153.2,304.1h0.95M117.1,339.5h0.95M138.5,317.1h0.95M153.1,304.4h0.95M137.9,316.7h0.95M114.3,339.1h0.95M137.6,316.0h0.95M100.4,348.2h0.95M111.7,339.3h0.95M113.0,341.9h0.95M130.0,328.7h0.95M145.4,309.7h0.95M138.7,314.8h0.95M142.9,314.0h0.95M114.7,341.1h0.95M112.6,342.3h0.95M140.2,314.5h0.95M157.9,300.6h0.95M128.7,327.8h0.95M103.5,347.6h0.95M163.8,293.7h0.95M140.7,315.3h0.95M168.2,290.2h0.95M123.7,327.7h0.95M113.3,339.7h0.95M100.7,352.0h0.95M165.9,292.3h0.95M117.9,336.1h0.95M161.6,295.9h0.95M145.1,310.8h0.95M131.1,324.4h0.95M150.5,306.7h0.95M108.6,343.7h0.95M105.3,347.1h0.95M113.2,337.4h0.95M140.6,313.6h0.95M168.0,290.2h0.95M129.8,322.6h0.95M141.4,316.3h0.95M148.3,309.6h0.95M156.9,302.1h0.95M156.1,300.5h0.95M158.9,297.4h0.95M152.1,305.7h0.95M151.0,306.5h0.95M151.2,304.9h0.95M114.5,337.5h0.95M163.4,294.9h0.95M130.4,322.6h0.95M100.6,350.8h0.95M164.3,293.5h0.95M111.4,338.4h0.95M145.0,311.1h0.95M116.7,339.2h0.95M152.5,305.7h0.95M139.7,316.6h0.95M136.3,319.4h0.95M165.8,292.6h0.95M166.4,291.5h0.95M167.7,290.4h0.95M167.2,290.8h0.95M149.7,307.1h0.95M144.6,313.1h0.95M113.9,337.2h0.95M160.7,296.6h0.95M144.6,311.6h0.95M165.9,291.9h0.95M146.9,308.0h0.95M133.1,320.5h0.95M105.2,348.2h0.95M159.6,299.2h0.95M145.0,312.2h0.95M139.8,316.3h0.95M102.3,349.4h0.95M130.0,324.2h0.95M150.4,307.4h0.95M122.9,330.5h0.95M139.7,316.7h0.95M106.5,343.4h0.95M133.0,323.0h0.95M145.6,312.9h0.95M142.4,313.3h0.95M158.3,298.4h0.95M102.0,349.3h0.95M139.6,312.1h0.95M141.4,315.4h0.95M146.0,311.8h0.95M107.2,344.4h0.95M137.3,321.7h0.95M156.3,300.5h0.95M113.3,338.9h0.95M145.0,311.0h0.95M102.0,350.2h0.95M152.6,306.1h0.95M168.5,289.7h0.95M150.7,306.0h0.95M148.2,307.9h0.95M112.6,344.4h0.95M148.8,307.2h0.95M145.1,311.5h0.95M130.5,326.4h0.95M164.3,292.7h0.95M119.3,332.4h0.95M157.7,299.4h0.95M152.5,304.4h0.95M135.0,320.4h0.95M108.9,346.5h0.95M161.0,296.1h0.95M127.6,328.7h0.95M156.0,300.6h0.95M152.3,304.8h0.95M109.8,345.7h0.95M99.4,352.7h0.95M139.0,314.7h0.95M145.6,310.3h0.95M163.0,295.1h0.95M160.3,298.9h0.95M103.0,351.4h0.95M91.9,350.6h0.95M86.0,368.4h0.95M104.6,348.1h0.95M73.0,370.5h0.95M92.6,356.5h0.95M92.0,355.1h0.95M109.7,341.1h0.95M103.6,340.4h0.95M116.8,344.0h0.95M89.3,364.7h0.95M103.6,355.9h0.95M95.2,344.1h0.95M90.1,360.8h0.95M107.9,351.1h0.95M99.3,354.0h0.95M87.6,359.0h0.95M98.9,343.4h0.95M94.4,361.9h0.95M118.9,338.5h0.95M98.8,345.3h0.95M106.7,350.5h0.95M110.1,345.2h0.95M107.9,337.0h0.95M89.1,369.6h0.95M104.1,337.5h0.95M98.5,356.7h0.95M79.9,352.1h0.95M104.7,346.5h0.95M109.3,346.0h0.95M89.2,370.8h0.95M107.9,360.0h0.95M102.8,364.4h0.95M97.7,360.6h0.95M116.8,344.4h0.95M98.6,350.5h0.95M129.2,345.5h0.95M107.7,358.1h0.95M130.3,337.8h0.95M86.4,376.1h0.95M86.5,364.4h0.95M121.1,344.1h0.95M112.2,341.1h0.95M122.7,351.8h0.95M103.5,352.8h0.95M93.7,339.8h0.95M92.5,357.9h0.95M106.4,347.4h0.95M110.3,339.1h0.95M79.9,350.7h0.95M85.1,353.0h0.95M104.0,348.1h0.95M102.3,335.6h0.95M112.0,343.8h0.95M118.2,338.8h0.95M96.7,357.0h0.95M105.9,354.5h0.95M101.1,345.3h0.95M95.6,344.0h0.95M103.8,343.2h0.95M111.7,355.3h0.95M113.7,348.8h0.95M95.7,358.0h0.95M113.8,353.7h0.95M89.7,365.8h0.95M102.1,347.3h0.95M73.7,358.1h0.95M75.3,356.4h0.95M110.0,343.8h0.95M73.5,370.7h0.95M94.4,364.7h0.95M96.6,348.7h0.95M87.3,365.8h0.95M101.0,355.6h0.95M90.9,357.1h0.95M97.8,364.1h0.95M94.9,349.7h0.95M100.2,349.9h0.95M121.0,335.2h0.95M74.1,368.1h0.95M113.2,321.1h0.95M98.2,339.8h0.95M88.1,365.5h0.95M98.4,341.1h0.95M120.5,332.9h0.95M87.0,376.3h0.95M98.2,348.9h0.95M97.1,345.5h0.95M86.6,373.4h0.95M100.9,363.2h0.95M94.0,364.2h0.95M98.8,340.4h0.95M100.5,344.8h0.95M92.8,358.2h0.95M81.9,365.0h0.95M88.5,340.7h0.95M95.9,353.8h0.95M102.9,343.8h0.95M85.7,372.0h0.95M102.1,341.9h0.95M122.7,342.6h0.95M104.0,359.8h0.95M121.2,332.6h0.95M98.5,341.8h0.95M109.5,343.2h0.95M118.8,345.3h0.95M98.3,355.6h0.95M117.1,334.4h0.95M109.8,351.6h0.95M97.3,334.4h0.95M93.3,359.4h0.95M109.9,353.8h0.95M98.7,359.6h0.95M91.3,349.9h0.95M96.7,364.3h0.95M91.7,353.7h0.95M84.9,355.0h0.95M103.6,343.5h0.95M110.5,346.8h0.95M93.7,354.0h0.95M92.6,357.9h0.95M112.4,335.9h0.95M81.9,365.3h0.95M90.0,355.4h0.95M123.3,341.6h0.95M111.5,326.8h0.95M103.3,365.4h0.95M91.2,359.4h0.95M119.1,343.1h0.95M96.8,345.8h0.95M100.9,341.7h0.95M113.1,338.9h0.95M75.4,373.6h0.95M88.3,357.2h0.95M87.4,360.7h0.95M89.7,347.3h0.95M107.3,343.5h0.95M107.5,340.7h0.95M90.8,357.7h0.95M116.0,335.1h0.95M105.9,345.4h0.95M90.2,356.3h0.95M86.7,365.6h0.95M105.1,349.9h0.95M93.3,355.3h0.95M93.3,360.3h0.95M93.4,365.2h0.95M81.7,343.2h0.95M116.3,355.0h0.95M102.2,355.1h0.95M84.1,358.0h0.95M106.5,355.8h0.95M115.9,339.6h0.95M124.2,327.2h0.95M88.4,378.8h0.95M106.8,353.8h0.95M92.1,356.8h0.95M73.7,369.7h0.95M86.4,357.9h0.95M107.9,344.5h0.95M103.4,345.0h0.95M96.0,365.1h0.95M116.5,343.8h0.95M102.0,349.0h0.95M102.6,334.9h0.95M79.6,356.3h0.95M106.0,341.2h0.95M101.0,343.5h0.95M99.8,343.8h0.95M80.8,383.2h0.95M117.7,350.6h0.95M109.6,340.6h0.95M80.5,371.5h0.95M104.9,346.9h0.95M94.0,363.5h0.95M98.3,360.0h0.95M105.8,341.6h0.95M107.7,344.3h0.95M92.1,357.0h0.95M111.8,344.3h0.95M98.2,347.5h0.95M76.6,359.7h0.95M105.9,348.1h0.95M100.2,357.0h0.95M104.6,352.6h0.95M107.2,347.0h0.95M98.6,347.5h0.95M74.6,355.4h0.95M98.8,363.0h0.95M68.1,367.5h0.95M72.0,367.4h0.95M103.0,337.7h0.95M79.0,359.6h0.95M100.9,346.7h0.95M99.6,353.3h0.95M89.0,345.5h0.95M113.2,352.7h0.95M87.4,336.0h0.95M87.2,346.8h0.95M101.1,352.7h0.95M89.4,349.3h0.95M113.6,341.2h0.95M77.2,348.7h0.95M105.0,346.4h0.95M117.7,344.9h0.95M86.9,363.6h0.95M91.7,351.2h0.95M98.8,350.0h0.95M107.0,341.4h0.95M104.8,338.0h0.95M102.0,340.5h0.95M94.5,350.4h0.95M77.7,367.6h0.95M93.5,347.8h0.95M90.4,349.9h0.95M99.2,345.5h0.95M88.5,354.7h0.95M105.2,354.5h0.95M106.1,350.2h0.95M93.8,361.6h0.95M105.2,336.6h0.95M88.4,351.7h0.95M102.2,355.8h0.95M81.9,377.9h0.95M103.7,348.8h0.95M97.6,364.3h0.95M119.0,345.8h0.95M121.6,322.2h0.95M76.6,376.3h0.95M108.5,345.7h0.95M102.8,346.0h0.95M109.9,347.9h0.95M96.8,348.5h0.95M97.9,340.1h0.95M95.8,341.7h0.95M101.1,354.8h0.95M93.8,347.7h0.95M82.0,363.2h0.95M84.3,369.4h0.95M85.2,362.9h0.95M84.2,363.4h0.95M115.6,330.7h0.95M73.7,352.8h0.95M94.3,357.9h0.95M99.2,351.2h0.95M125.1,327.5h0.95M83.1,361.7h0.95M102.3,349.7h0.95M101.5,346.2h0.95M102.7,353.7h0.95M110.6,343.4h0.95M85.5,340.1h0.95M90.5,357.0h0.95M96.3,362.0h0.95M97.8,357.2h0.95M91.4,357.1h0.95M100.2,344.9h0.95M107.5,349.3h0.95M106.3,340.6h0.95M79.5,360.4h0.95M103.0,358.9h0.95M85.1,366.2h0.95M90.2,357.4h0.95M109.5,340.2h0.95M98.9,353.7h0.95M65.8,358.0h0.95M90.0,356.4h0.95M96.5,354.3h0.95M102.5,338.6h0.95M97.0,360.3h0.95M91.3,355.2h0.95M108.9,337.5h0.95M102.3,354.1h0.95M105.5,362.0h0.95M106.7,346.1h0.95M103.6,347.3h0.95M81.9,369.9h0.95M89.1,358.1h0.95M97.7,354.9h0.95M99.6,335.8h0.95M87.0,353.8h0.95M112.5,347.5h0.95M68.9,375.9h0.95M86.5,364.7h0.95M82.7,360.4h0.95M114.7,315.3h0.95M105.5,343.1h0.95M116.1,346.7h0.95M119.3,333.3h0.95M109.5,349.1h0.95M107.6,353.6h0.95M109.7,341.1h0.95M71.7,369.4h0.95M81.9,365.6h0.95M106.8,348.7h0.95M108.3,339.0h0.95M92.5,361.3h0.95M105.8,337.4h0.95M75.4,376.3h0.95M104.5,344.7h0.95M95.3,353.2h0.95M85.8,359.8h0.95M131.2,332.8h0.95M112.0,342.8h0.95M97.8,342.4h0.95M98.3,353.5h0.95M107.0,341.2h0.95M89.2,355.8h0.95M92.6,367.3h0.95M97.1,348.5h0.95M85.7,367.6h0.95M106.3,351.2h0.95M85.3,351.8h0.95M106.6,341.2h0.95M92.0,365.1h0.95M111.2,347.6h0.95M93.3,353.6h0.95M127.0,338.0h0.95M89.6,362.6h0.95M92.4,354.0h0.95M87.7,366.0h0.95M99.4,358.9h0.95M114.4,329.8h0.95M82.1,366.2h0.95M105.5,353.7h0.95M122.2,336.1h0.95M112.0,347.8h0.95M92.0,353.8h0.95M118.8,349.6h0.95M84.8,373.5h0.95M65.1,379.6h0.95M118.8,322.5h0.95M101.8,352.6h0.95M102.8,360.2h0.95M104.7,351.0h0.95M103.2,339.6h0.95M91.7,362.7h0.95M113.5,341.5h0.95M88.4,355.2h0.95M79.8,354.0h0.95M102.1,351.4h0.95M103.4,340.7h0.95M91.2,355.8h0.95M85.3,363.6h0.95M112.3,347.5h0.95M102.8,346.9h0.95M126.2,342.7h0.95M94.8,366.5h0.95M89.9,347.7h0.95M125.2,323.5h0.95M84.2,378.6h0.95M94.3,376.0h0.95M112.5,345.1h0.95M100.7,336.2h0.95M101.0,346.0h0.95M75.4,375.0h0.95M113.2,355.2h0.95M127.1,335.6h0.95M104.4,339.8h0.95M88.5,349.4h0.95M87.0,358.1h0.95M98.5,352.7h0.95M77.8,372.8h0.95M101.9,345.6h0.95M100.4,362.7h0.95M70.7,367.9h0.95M104.3,351.5h0.95M95.3,362.4h0.95M99.1,356.0h0.95M83.7,378.6h0.95M103.3,351.6h0.95M96.6,350.7h0.95M101.8,365.2h0.95M96.6,354.5h0.95M106.3,331.3h0.95M89.3,363.9h0.95M99.8,343.2h0.95M79.2,383.2h0.95M95.3,352.3h0.95M101.3,353.2h0.95M79.8,347.4h0.95M104.9,348.1h0.95M95.0,361.2h0.95M77.0,365.9h0.95M101.7,341.9h0.95M114.3,332.7h0.95M96.3,350.4h0.95M116.1,334.0h0.95M82.2,359.6h0.95M94.1,354.3h0.95M87.5,364.8h0.95M94.1,348.3h0.95M112.7,329.5h0.95M108.2,352.3h0.95M89.5,360.5h0.95M81.8,355.7h0.95M104.8,348.9h0.95M109.7,341.6h0.95M103.1,360.6h0.95M82.7,350.6h0.95M118.6,339.2h0.95M113.0,357.9h0.95M105.3,348.7h0.95M105.4,344.2h0.95M100.6,347.2h0.95M87.9,363.5h0.95M103.5,344.0h0.95M83.4,339.4h0.95M91.1,368.6h0.95M134.7,331.5h0.95M93.2,338.2h0.95M88.8,369.9h0.95M100.5,338.0h0.95M90.7,368.9h0.95M100.5,346.7h0.95M67.7,374.4h0.95M73.8,350.8h0.95M126.1,338.4h0.95M125.8,335.1h0.95M126.4,337.5h0.95M147.4,301.9h0.95M117.5,334.0h0.95M152.8,305.2h0.95M146.0,307.4h0.95M164.0,293.1h0.95M161.7,294.9h0.95M120.8,321.6h0.95M134.6,318.2h0.95M126.9,331.3h0.95M162.4,294.9h0.95M151.7,302.3h0.95M157.0,300.0h0.95M114.0,341.3h0.95M157.0,303.4h0.95M135.0,319.8h0.95M161.0,296.8h0.95M156.7,297.4h0.95M145.3,308.6h0.95M119.7,334.9h0.95M108.1,345.1h0.95M117.1,326.5h0.95M164.9,296.7h0.95M149.6,308.6h0.95M130.0,342.8h0.95M154.7,307.4h0.95M117.4,319.8h0.95M154.3,303.6h0.95M136.9,325.0h0.95M130.4,314.6h0.95M130.8,320.5h0.95M116.0,337.5h0.95M148.6,308.0h0.95M106.3,339.0h0.95M139.6,307.7h0.95M162.3,296.9h0.95M153.8,301.7h0.95M115.9,331.8h0.95M164.4,293.4h0.95M129.6,317.2h0.95M157.6,304.4h0.95M137.5,334.2h0.95M145.5,310.2h0.95M148.8,308.0h0.95M133.9,327.0h0.95M132.8,321.0h0.95M163.7,294.4h0.95M126.3,329.1h0.95M143.0,314.5h0.95M129.7,318.0h0.95M135.3,315.8h0.95M148.4,306.4h0.95M130.8,314.8h0.95M122.6,343.5h0.95M164.2,295.0h0.95M157.1,298.2h0.95M156.4,302.7h0.95M107.3,330.4h0.95M154.2,303.8h0.95M148.1,309.2h0.95M159.4,297.9h0.95M110.0,326.9h0.95M141.9,314.9h0.95M149.9,311.1h0.95M158.7,300.6h0.95M129.8,340.5h0.95M151.7,306.3h0.95M154.3,302.1h0.95M109.0,345.9h0.95M133.9,318.8h0.95M160.4,301.7h0.95M132.8,320.1h0.95M143.7,311.5h0.95M137.2,315.5h0.95M120.5,333.0h0.95M130.6,328.3h0.95M143.0,314.7h0.95M145.4,309.4h0.95M117.0,323.3h0.95M118.8,340.1h0.95M108.0,339.8h0.95M131.7,319.3h0.95M148.2,313.1h0.95M154.0,303.3h0.95M158.5,296.8h0.95M125.9,323.6h0.95M154.8,299.1h0.95M132.4,326.2h0.95M142.8,316.4h0.95M138.7,330.4h0.95M116.1,327.2h0.95M141.1,318.1h0.95M108.8,344.9h0.95M112.3,342.1h0.95M126.9,319.2h0.95M161.3,300.2h0.95M146.4,314.1h0.95M116.8,335.1h0.95M142.1,319.1h0.95M156.8,299.4h0.95M147.8,302.0h0.95M139.2,317.1h0.95M154.6,300.0h0.95M114.1,340.6h0.95M131.0,325.1h0.95M156.0,305.9h0.95M137.9,314.2h0.95M119.5,330.2h0.95M112.9,336.7h0.95M145.7,313.1h0.95M162.8,294.9h0.95M138.9,307.5h0.95M128.8,332.8h0.95M128.3,325.6h0.95M107.7,344.2h0.95M141.7,327.5h0.95M160.0,296.6h0.95M123.5,336.7h0.95M129.4,337.9h0.95M144.6,311.2h0.95M117.4,340.2h0.95M127.8,347.0h0.95M118.1,341.9h0.95M141.7,314.0h0.95M114.9,333.9h0.95M111.6,344.9h0.95M164.1,296.2h0.95M153.1,302.2h0.95M161.4,294.7h0.95M147.3,312.1h0.95M121.0,346.7h0.95M149.4,308.6h0.95M114.4,348.6h0.95M150.9,306.3h0.95M129.1,318.9h0.95M162.2,295.0h0.95M130.6,322.0h0.95M160.1,294.5h0.95M116.8,339.1h0.95M151.3,302.8h0.95M121.2,337.1h0.95M134.0,316.9h0.95M122.3,328.6h0.95M164.5,297.1h0.95M136.5,322.6h0.95M121.7,325.7h0.95M104.9,341.7h0.95M114.2,332.4h0.95M123.0,339.5h0.95M163.9,295.1h0.95M132.5,327.2h0.95M105.4,336.8h0.95M144.5,311.5h0.95M144.4,305.6h0.95M128.8,324.7h0.95M155.8,302.3h0.95M117.7,323.2h0.95M115.9,337.9h0.95M125.4,311.3h0.95M127.8,329.6h0.95M113.8,333.5h0.95M117.0,333.2h0.95M141.0,308.6h0.95M134.5,314.9h0.95M161.3,298.0h0.95M126.3,332.5h0.95M157.7,298.4h0.95M124.2,339.5h0.95M122.9,320.1h0.95M148.6,307.8h0.95M128.5,326.4h0.95M142.3,314.6h0.95M144.8,303.4h0.95M124.7,321.8h0.95M157.0,297.8h0.95M129.8,336.5h0.95M122.5,351.6h0.95M128.2,330.9h0.95M136.4,322.1h0.95M153.6,302.3h0.95M144.9,318.3h0.95M113.2,334.5h0.95M135.5,320.1h0.95M131.8,328.6h0.95M165.1,296.0h0.95M151.1,305.3h0.95M153.1,304.1h0.95M155.1,300.4h0.95M129.0,330.6h0.95M164.1,294.1h0.95M124.6,357.5h0.95M144.5,318.0h0.95M121.5,329.0h0.95M139.6,321.7h0.95M154.4,301.3h0.95M109.0,338.2h0.95M142.2,313.3h0.95M151.8,301.4h0.95M154.9,296.5h0.95M148.1,307.2h0.95M116.8,340.2h0.95M159.3,301.0h0.95M120.9,330.0h0.95M120.8,346.3h0.95M134.4,314.7h0.95M106.8,341.4h0.95M121.9,328.1h0.95M150.2,302.9h0.95M140.1,314.4h0.95M108.4,342.6h0.95M160.9,299.4h0.95M124.6,333.8h0.95M157.9,297.4h0.95M128.5,328.2h0.95M139.4,315.3h0.95M133.3,319.1h0.95M107.0,331.0h0.95M152.8,299.7h0.95M119.1,336.6h0.95M156.9,304.5h0.95M137.8,315.9h0.95M118.7,337.6h0.95M139.1,314.1h0.95M149.4,305.0h0.95M149.1,306.4h0.95M103.3,340.2h0.95M172.8,284.8h0.95M165.7,293.0h0.95M177.0,281.8h0.95M204.2,256.9h0.95M196.1,263.8h0.95M179.0,279.8h0.95M165.0,293.5h0.95M166.4,291.6h0.95M173.4,285.3h0.95M173.6,284.2h0.95M165.4,291.7h0.95M168.5,290.1h0.95M170.2,287.3h0.95M171.4,286.5h0.95M197.9,263.3h0.95M170.8,287.0h0.95M166.8,292.1h0.95M168.7,288.3h0.95M189.5,270.1h0.95M176.8,281.7h0.95M186.6,272.6h0.95M168.6,289.4h0.95M187.7,272.0h0.95M183.7,276.1h0.95M170.1,288.1h0.95M178.1,280.6h0.95M165.2,292.7h0.95M170.2,287.9h0.95M180.7,279.1h0.95M166.2,291.0h0.95M191.8,268.5h0.95M183.6,275.5h0.95M182.5,277.4h0.95M168.0,290.8h0.95M169.0,289.1h0.95M168.5,289.4h0.95M171.2,286.9h0.95M168.4,290.5h0.95M168.6,288.8h0.95M177.1,281.1h0.95M197.1,264.0h0.95M173.0,286.3h0.95M166.7,290.5h0.95M171.3,287.1h0.95M177.5,281.5h0.95M170.2,287.8h0.95M166.8,291.8h0.95M205.7,256.3h0.95M174.0,285.4h0.95M174.8,283.7h0.95M206.3,255.5h0.95M172.7,286.3h0.95M178.2,281.8h0.95M171.2,286.0h0.95M194.4,266.3h0.95M90.8,367.3h0.95M83.5,365.8h0.95M85.4,349.7h0.95M81.3,370.4h0.95M97.0,353.4h0.95M98.1,355.6h0.95M77.8,360.0h0.95M87.3,362.8h0.95M79.6,364.6h0.95M98.2,363.8h0.95M81.0,368.2h0.95M96.0,354.7h0.95M92.1,353.0h0.95M100.3,361.4h0.95M85.8,372.0h0.95M89.1,375.2h0.95M89.6,361.1h0.95M89.2,363.9h0.95M97.2,353.6h0.95M91.1,353.8h0.95M97.7,361.5h0.95M88.6,356.3h0.95M79.5,367.8h0.95M99.6,369.3h0.95M101.9,359.7h0.95M85.1,370.3h0.95M85.8,353.4h0.95M87.6,359.4h0.95M99.1,357.2h0.95M98.1,355.0h0.95M90.0,357.6h0.95M83.4,374.0h0.95M97.1,359.6h0.95M92.3,360.9h0.95M88.6,358.7h0.95M83.5,365.6h0.95M82.5,364.9h0.95M101.7,363.7h0.95M93.0,372.1h0.95M83.3,358.5h0.95M97.4,361.4h0.95M96.4,368.3h0.95M91.1,361.3h0.95M84.0,371.2h0.95M84.9,354.2h0.95M93.6,361.7h0.95M96.5,354.4h0.95M86.0,361.3h0.95M99.5,359.6h0.95M82.6,364.8h0.95M94.6,360.8h0.95M97.4,359.0h0.95M101.4,357.7h0.95M98.1,360.6h0.95M92.1,372.7h0.95M88.7,361.2h0.95M88.8,371.9h0.95M93.8,356.2h0.95M90.7,365.3h0.95M83.2,358.3h0.95M95.0,361.0h0.95M86.3,366.1h0.95M91.9,363.8h0.95M78.4,368.0h0.95M100.4,358.2h0.95M80.9,354.0h0.95M83.4,364.0h0.95M83.7,357.3h0.95M94.8,358.3h0.95M91.5,356.1h0.95M84.8,350.8h0.95M97.1,364.5h0.95M85.5,353.2h0.95M82.8,361.1h0.95M81.3,362.8h0.95M97.9,357.5h0.95M91.6,361.6h0.95M103.7,362.0h0.95M93.2,354.5h0.95M98.3,355.0h0.95M92.9,350.0h0.95M87.3,351.9h0.95M88.6,350.9h0.95M93.4,365.4h0.95M86.5,357.5h0.95M96.2,359.9h0.95M80.7,363.0h0.95M99.2,362.5h0.95M85.2,372.9h0.95M86.0,360.7h0.95M82.0,364.2h0.95M92.7,349.8h0.95M91.8,358.4h0.95M91.2,348.2h0.95M73.6,360.3h0.95M90.4,364.9h0.95M104.9,361.1h0.95M93.1,351.8h0.95M98.2,360.6h0.95M88.0,367.2h0.95M90.8,362.0h0.95M102.7,359.1h0.95M78.4,359.9h0.95M89.5,355.3h0.95M82.9,358.4h0.95M82.1,356.7h0.95M94.9,358.2h0.95M88.5,361.0h0.95M89.6,360.3h0.95M77.5,363.5h0.95M79.4,367.4h0.95M93.8,359.1h0.95M89.9,352.3h0.95M88.0,367.1h0.95M87.0,357.2h0.95M98.3,357.7h0.95M85.2,358.7h0.95M91.2,351.1h0.95M94.1,359.2h0.95M90.4,354.2h0.95M86.5,374.1h0.95M89.7,360.4h0.95M86.2,353.2h0.95M99.0,357.6h0.95M81.7,362.5h0.95M87.4,360.3h0.95M92.5,355.2h0.95M96.5,362.0h0.95M97.1,359.2h0.95M90.9,361.9h0.95M88.1,359.2h0.95M91.5,350.5h0.95M86.8,360.6h0.95M87.3,368.2h0.95M84.9,354.0h0.95M86.5,355.1h0.95M96.4,353.9h0.95M90.0,354.7h0.95M81.2,362.4h0.95M90.7,370.3h0.95M85.6,358.9h0.95M82.7,361.2h0.95M94.2,359.0h0.95M84.1,365.7h0.95M92.5,360.3h0.95M78.5,356.0h0.95M82.6,359.1h0.95M92.4,360.6h0.95M77.3,364.2h0.95M90.2,362.9h0.95M79.9,369.3h0.95M99.1,369.6h0.95M95.6,357.6h0.95M89.3,352.5h0.95M85.0,361.9h0.95M102.8,359.6h0.95M103.8,361.8h0.95M88.3,356.2h0.95M90.0,357.0h0.95M90.9,354.3h0.95M92.2,366.5h0.95M84.8,370.3h0.95M85.8,350.0h0.95M81.6,367.2h0.95M87.3,367.9h0.95M83.7,360.4h0.95M83.6,360.4h0.95M88.5,355.5h0.95M101.7,359.6h0.95M88.0,351.2h0.95M92.7,352.1h0.95M98.5,354.9h0.95M88.9,352.6h0.95M77.4,363.7h0.95M90.9,356.5h0.95M97.3,361.9h0.95M87.3,347.8h0.95M90.2,354.5h0.95M87.1,360.1h0.95M94.7,356.3h0.95M83.4,368.3h0.95M91.9,353.1h0.95M99.1,359.6h0.95M94.3,364.4h0.95M86.9,360.6h0.95M90.4,354.1h0.95M82.4,367.5h0.95M98.1,358.3h0.95M92.2,355.2h0.95M104.8,360.5h0.95M91.9,356.0h0.95M85.1,375.1h0.95M87.2,373.5h0.95M89.0,355.9h0.95M99.7,356.1h0.95M80.6,366.0h0.95M94.1,353.6h0.95M92.3,357.7h0.95M76.5,361.5h0.95M99.4,357.4h0.95M96.6,354.6h0.95M91.6,350.2h0.95M95.0,358.9h0.95M97.0,361.7h0.95M94.6,364.3h0.95M86.3,360.5h0.95M85.4,359.2h0.95M90.1,354.8h0.95M99.8,361.4h0.95M92.6,349.6h0.95M88.0,356.4h0.95M91.8,361.1h0.95M95.7,352.4h0.95M100.8,358.3h0.95M98.9,366.1h0.95M96.1,359.8h0.95M77.3,361.4h0.95M93.0,351.7h0.95M84.2,365.3h0.95M93.9,364.6h0.95M79.2,367.2h0.95M88.2,376.1h0.95M87.6,362.6h0.95M84.0,358.0h0.95M99.1,359.7h0.95M91.0,359.6h0.95M77.5,363.7h0.95M94.6,363.7h0.95M83.9,373.6h0.95M95.4,357.6h0.95M89.9,360.2h0.95M94.1,356.4h0.95M80.7,371.4h0.95M89.8,351.8h0.95M92.3,352.9h0.95M89.3,366.0h0.95M88.0,367.0h0.95M91.3,353.2h0.95M92.4,360.6h0.95M94.1,353.6h0.95M97.8,367.6h0.95M93.6,368.0h0.95M96.2,362.3h0.95M98.3,355.1h0.95M92.1,354.7h0.95M86.6,365.7h0.95M90.2,378.1h0.95M79.5,372.2h0.95M82.9,358.8h0.95M94.5,356.0h0.95M105.2,360.8h0.95M84.8,364.3h0.95M99.4,357.2h0.95M82.5,358.4h0.95M104.0,364.8h0.95M100.7,358.3h0.95M89.4,375.1h0.95M89.4,371.4h0.95M98.9,355.0h0.95M87.9,351.6h0.95M87.8,347.9h0.95M87.9,356.4h0.95M98.4,355.1h0.95M84.4,359.7h0.95M96.4,359.7h0.95M89.3,352.7h0.95M83.2,371.4h0.95M84.1,362.7h0.95M79.7,355.1h0.95M97.4,359.0h0.95M84.3,370.6h0.95M81.1,360.7h0.95M99.1,362.7h0.95M99.2,360.0h0.95M95.6,352.4h0.95M82.6,355.9h0.95M75.9,367.4h0.95M92.1,355.6h0.95M94.2,364.6h0.95M95.3,358.4h0.95M89.4,358.2h0.95M85.5,358.4h0.95M92.8,352.2h0.95M83.9,360.4h0.95M82.5,361.5h0.95M90.0,352.0h0.95M81.6,353.2h0.95M83.0,367.1h0.95M97.0,353.4h0.95M74.6,365.8h0.95M84.4,367.6h0.95M86.0,361.0h0.95M94.0,350.9h0.95M70.5,364.0h0.95M85.7,361.1h0.95M93.8,362.0h0.95M88.6,353.3h0.95M88.9,360.7h0.95M79.7,354.7h0.95M95.2,366.2h0.95M89.9,360.0h0.95M97.7,355.1h0.95M98.8,357.5h0.95M101.8,364.1h0.95M86.1,366.6h0.95M84.5,366.9h0.95M92.8,363.1h0.95M80.8,363.4h0.95M70.6,363.7h0.95M85.0,369.8h0.95M90.6,349.1h0.95M80.1,361.0h0.95M97.9,361.0h0.95M87.2,357.1h0.95M80.2,366.1h0.95M79.6,359.2h0.95M82.8,355.9h0.95M98.2,358.3h0.95M102.5,363.3h0.95M99.4,362.3h0.95M82.5,374.7h0.95M97.2,368.2h0.95M100.8,358.6h0.95M79.5,361.5h0.95M90.4,359.7h0.95M89.9,357.3h0.95M100.8,358.3h0.95M83.5,374.3h0.95M91.2,359.1h0.95M91.3,361.4h0.95M96.7,368.2h0.95M89.1,358.4h0.95M95.9,359.8h0.95M77.8,368.6h0.95M95.0,358.8h0.95M91.0,364.1h0.95M82.7,375.2h0.95M79.0,370.7h0.95M89.4,346.4h0.95M90.5,349.0h0.95M103.5,362.0h0.95M80.6,360.5h0.95M97.4,356.3h0.95M89.0,360.7h0.95M91.2,357.0h0.95M97.2,359.1h0.95M91.2,351.1h0.95M92.3,360.5h0.95M78.1,367.9h0.95M90.4,352.1h0.95M85.3,356.0h0.95M83.9,367.8h0.95M85.8,353.1h0.95M93.0,357.9h0.95M97.7,355.4h0.95M92.7,357.9h0.95M90.5,351.5h0.95M88.1,364.4h0.95M87.3,352.0h0.95M86.2,360.8h0.95M94.5,353.0h0.95M88.3,359.5h0.95M92.5,357.3h0.95M91.8,356.2h0.95M105.6,363.1h0.95M91.4,353.6h0.95M93.0,368.3h0.95M95.0,355.9h0.95M84.4,357.1h0.95M96.6,372.0h0.95M90.1,354.3h0.95M91.0,354.0h0.95M76.2,369.6h0.95M95.5,357.8h0.95M92.6,360.8h0.95M95.1,355.2h0.95M90.3,352.0h0.95M93.8,362.1h0.95M85.7,369.4h0.95M103.1,362.6h0.95M83.5,361.5h0.95M97.9,358.0h0.95M92.6,360.4h0.95M90.0,365.7h0.95M82.3,370.3h0.95M85.1,356.7h0.95M103.1,359.6h0.95M85.5,361.8h0.95M77.0,360.9h0.95M76.8,366.8h0.95M93.9,350.9h0.95M94.7,355.5h0.95M94.8,355.7h0.95M93.4,354.3h0.95M97.6,363.2h0.95M78.6,359.8h0.95M93.3,351.7h0.95M78.8,367.9h0.95M84.3,365.3h0.95M102.4,359.4h0.95M88.2,364.1h0.95M90.7,348.4h0.95M95.9,354.4h0.95M95.5,351.9h0.95M94.7,353.1h0.95M98.4,355.3h0.95M79.4,361.7h0.95M86.0,366.4h0.95M83.8,355.2h0.95M85.1,356.9h0.95M94.0,351.5h0.95M89.1,361.0h0.95M91.1,361.2h0.95M83.4,360.7h0.95M86.4,365.8h0.95M93.5,351.7h0.95M96.1,360.7h0.95M94.1,363.9h0.95M89.3,369.2h0.95M94.2,356.2h0.95M86.1,361.2h0.95M97.7,361.5h0.95M95.5,360.4h0.95M75.2,359.1h0.95M95.8,357.6h0.95M88.7,355.7h0.95M81.9,353.3h0.95M99.0,357.3h0.95M88.7,353.3h0.95M79.2,369.8h0.95M91.6,361.6h0.95M90.5,351.5h0.95M90.2,365.4h0.95M89.0,355.5h0.95M95.0,360.7h0.95M75.7,362.5h0.95M95.7,360.6h0.95M79.2,362.1h0.95M81.4,362.7h0.95M80.8,366.0h0.95M90.4,354.4h0.95M83.5,366.3h0.95M81.8,373.1h0.95M70.6,363.0h0.95M81.4,368.3h0.95M86.6,363.2h0.95M90.9,356.7h0.95M75.9,365.1h0.95M105.0,364.7h0.95M95.3,366.2h0.95M82.4,369.3h0.95M81.0,365.6h0.95M90.0,371.3h0.95M93.9,350.9h0.95M87.4,364.6h0.95M77.1,366.9h0.95M95.6,363.1h0.95M94.3,358.9h0.95M85.0,362.1h0.95M99.6,365.8h0.95M98.8,363.0h0.95M85.5,364.5h0.95M90.9,356.3h0.95M89.1,371.6h0.95M92.2,358.0h0.95M92.2,355.4h0.95M84.5,367.8h0.95M87.6,370.7h0.95M96.2,354.7h0.95M101.2,358.0h0.95M95.8,365.3h0.95M89.2,352.4h0.95M90.4,359.5h0.95M88.6,361.4h0.95M84.9,362.4h0.95M80.7,363.7h0.95M94.0,359.1h0.95M91.6,363.8h0.95M94.9,373.4h0.95M84.4,357.1h0.95M88.7,353.0h0.95M90.2,370.1h0.95M92.7,360.3h0.95M87.1,365.0h0.95M80.0,361.1h0.95M99.1,362.6h0.95M90.7,348.3h0.95M79.3,366.8h0.95M83.4,368.9h0.95M89.3,355.2h0.95M93.6,359.8h0.95M94.2,356.6h0.95M87.5,362.5h0.95M91.3,358.4h0.95M90.5,357.0h0.95M99.5,359.9h0.95M83.7,366.1h0.95M99.5,362.6h0.95M91.6,353.6h0.95M90.4,362.8h0.95M79.5,370.1h0.95M91.5,361.7h0.95M94.0,364.5h0.95M83.0,352.1h0.95M77.9,371.0h0.95M91.9,353.5h0.95M100.3,358.5h0.95M84.4,359.8h0.95M86.9,368.3h0.95M95.2,355.2h0.95M87.5,357.1h0.95M88.1,367.2h0.95M97.4,364.1h0.95M90.5,367.6h0.95M91.9,363.5h0.95M94.8,364.0h0.95M94.9,361.3h0.95M90.2,359.9h0.95M79.8,355.5h0.95M79.2,359.1h0.95M85.5,349.7h0.95M91.9,364.0h0.95M91.7,353.2h0.95M97.7,363.8h0.95M93.7,356.2h0.95M88.0,362.0h0.95M89.1,363.4h0.95M101.4,357.2h0.95M95.5,352.8h0.95M101.4,360.6h0.95M103.4,362.1h0.95M89.9,354.6h0.95M95.3,352.9h0.95M87.6,365.0h0.95M88.7,364.1h0.95M81.5,373.7h0.95M93.2,354.5h0.95M95.6,357.7h0.95M99.0,359.9h0.95M84.7,359.5h0.95M85.0,359.2h0.95M96.9,359.2h0.95M83.3,363.3h0.95M97.5,361.0h0.95M88.7,358.3h0.95M81.1,357.5h0.95M99.1,362.7h0.95M92.1,363.7h0.95M90.7,359.0h0.95M87.6,365.2h0.95M78.5,359.9h0.95M92.3,350.0h0.95M80.3,358.0h0.95M99.6,369.0h0.95M92.4,357.9h0.95M90.7,356.5h0.95M92.4,354.9h0.95M91.2,348.5h0.95M102.9,359.2h0.95M77.1,366.7h0.95M85.5,356.5h0.95M85.4,372.3h0.95M99.7,365.6h0.95M88.0,364.5h0.95M93.1,354.7h0.95M84.1,370.6h0.95M83.2,358.5h0.95M99.0,365.8h0.95M98.7,355.2h0.95M80.5,358.2h0.95M89.4,365.9h0.95M96.8,365.2h0.95M84.7,359.9h0.95M97.1,356.6h0.95M86.3,352.5h0.95M82.8,361.3h0.95M94.6,357.5h0.95M97.4,358.3h0.95M78.9,359.2h0.95M89.9,365.7h0.95M94.2,361.6h0.95M85.7,354.0h0.95M86.2,366.4h0.95M100.8,358.3h0.95M88.7,356.0h0.95M95.0,358.5h0.95M97.9,367.3h0.95M75.7,368.1h0.95M91.1,359.1h0.95M82.3,367.3h0.95M74.8,368.2h0.95M84.7,362.3h0.95M95.1,363.3h0.95M98.8,357.2h0.95M99.0,357.3h0.95M93.5,367.5h0.95M85.6,356.4h0.95M86.7,365.5h0.95M94.2,358.9h0.95M97.0,356.3h0.95" stroke="#000" stroke-width="0.95" fill="none" stroke-opacity="0.72"/>
<path d="M98.7,352.7 L101.9,346.7 L111.0,337.1 L126.3,324.1 L140.4,312.5 L154.7,300.9 L161.6,295.1 L166.0,291.5 L168.5,289.6 L168.6,289.7 L166.5,292.0 L162.6,295.9 L156.2,302.3 L143.4,315.3 L130.7,328.1 L116.4,342.1 L105.9,350.4 L99.3,353.3z" fill="#050505" stroke="#050505" stroke-width="0.6" stroke-linejoin="round"/>
<ellipse cx="96.6" cy="350.4" rx="8.6" ry="4.9" transform="rotate(-42 96.6 350.4)" fill="#050505"/>
<line x1="60.60" y1="336.00" x2="60.60" y2="386.70" stroke="#555" stroke-width="0.8"/>
<path d="M60.3,328.4h0.7M60.3,331.4h0.7M60.3,329.7h0.7M60.3,332.0h0.7M60.3,332.3h0.7M60.3,326.7h0.7M60.3,326.1h0.7M60.3,334.4h0.7" stroke="#888" stroke-width="0.7" fill="none"/>
<line x1="80.00" y1="387.50" x2="116.70" y2="387.50" stroke="#222" stroke-width="0.9"/>
<path d="M118.8,387.5h0.8M118.6,387.5h0.8M124.0,387.5h0.8M120.3,387.5h0.8M122.9,387.5h0.8M75.8,387.5h0.8" stroke="#444" stroke-width="0.8" fill="none"/>
<rect x="54.70" y="251.80" width="157.50" height="140.50" fill="none" stroke="#9c9c9c" stroke-width="1.15"/>
<line x1="51.50" y1="268.60" x2="54.70" y2="268.60" stroke="#9c9c9c" stroke-width="1.1"/>
<line x1="51.50" y1="286.30" x2="54.70" y2="286.30" stroke="#9c9c9c" stroke-width="1.1"/>
<line x1="51.50" y1="304.10" x2="54.70" y2="304.10" stroke="#9c9c9c" stroke-width="1.1"/>
<line x1="51.50" y1="321.80" x2="54.70" y2="321.80" stroke="#9c9c9c" stroke-width="1.1"/>
<line x1="51.50" y1="339.60" x2="54.70" y2="339.60" stroke="#9c9c9c" stroke-width="1.1"/>
<line x1="51.50" y1="357.50" x2="54.70" y2="357.50" stroke="#9c9c9c" stroke-width="1.1"/>
<line x1="51.50" y1="375.40" x2="54.70" y2="375.40" stroke="#9c9c9c" stroke-width="1.1"/>
<line x1="51.50" y1="387.50" x2="54.70" y2="387.50" stroke="#9c9c9c" stroke-width="1.1"/>
<text x="45.60" y="271.20" font-size="9.8" text-anchor="end" textLength="25.61" lengthAdjust="spacingAndGlyphs">10000</text>
<text x="45.60" y="289.10" font-size="9.8" text-anchor="end" textLength="20.49" lengthAdjust="spacingAndGlyphs">1000</text>
<text x="45.60" y="306.70" font-size="9.8" text-anchor="end" textLength="15.37" lengthAdjust="spacingAndGlyphs">100</text>
<text x="45.60" y="325.10" font-size="9.8" text-anchor="end" textLength="10.24" lengthAdjust="spacingAndGlyphs">10</text>
<text x="45.60" y="345.80" font-size="9.8" text-anchor="end" textLength="5.12" lengthAdjust="spacingAndGlyphs">1</text>
<text x="45.60" y="362.40" font-size="9.8" text-anchor="end" textLength="12.80" lengthAdjust="spacingAndGlyphs">0.1</text>
<text x="45.60" y="381.10" font-size="9.8" text-anchor="end" textLength="17.93" lengthAdjust="spacingAndGlyphs">0.01</text>
<text x="45.60" y="394.80" font-size="9.8" text-anchor="end" textLength="5.12" lengthAdjust="spacingAndGlyphs">0</text>
<line x1="60.70" y1="392.30" x2="60.70" y2="394.90" stroke="#9c9c9c" stroke-width="1.1"/>
<line x1="74.60" y1="392.30" x2="74.60" y2="394.90" stroke="#9c9c9c" stroke-width="1.1"/>
<line x1="94.10" y1="392.30" x2="94.10" y2="394.90" stroke="#9c9c9c" stroke-width="1.1"/>
<line x1="113.70" y1="392.30" x2="113.70" y2="394.90" stroke="#9c9c9c" stroke-width="1.1"/>
<line x1="133.40" y1="392.30" x2="133.40" y2="394.90" stroke="#9c9c9c" stroke-width="1.1"/>
<line x1="153.50" y1="392.30" x2="153.50" y2="394.90" stroke="#9c9c9c" stroke-width="1.1"/>
<line x1="173.60" y1="392.30" x2="173.60" y2="394.90" stroke="#9c9c9c" stroke-width="1.1"/>
<line x1="193.40" y1="392.30" x2="193.40" y2="394.90" stroke="#9c9c9c" stroke-width="1.1"/>
<text x="57.80" y="409.50" font-size="9.8" text-anchor="middle" textLength="5.12" lengthAdjust="spacingAndGlyphs">0</text>
<text x="75.80" y="409.50" font-size="9.8" text-anchor="middle" textLength="17.93" lengthAdjust="spacingAndGlyphs">0.01</text>
<text x="97.40" y="409.50" font-size="9.8" text-anchor="middle" textLength="12.80" lengthAdjust="spacingAndGlyphs">0.1</text>
<text x="113.80" y="409.50" font-size="9.8" text-anchor="middle" textLength="5.12" lengthAdjust="spacingAndGlyphs">1</text>
<text x="134.90" y="409.50" font-size="9.8" text-anchor="middle" textLength="10.24" lengthAdjust="spacingAndGlyphs">10</text>
<text x="153.60" y="409.50" font-size="9.8" text-anchor="middle" textLength="15.37" lengthAdjust="spacingAndGlyphs">100</text>
<text x="177.00" y="409.50" font-size="9.8" text-anchor="middle" textLength="20.49" lengthAdjust="spacingAndGlyphs">1000</text>
<text x="205.60" y="409.50" font-size="9.8" text-anchor="middle" textLength="25.61" lengthAdjust="spacingAndGlyphs">10000</text>
<line x1="54.70" y1="349.00" x2="201.50" y2="349.00" stroke="#aeaeae" stroke-width="1.3"/>
<line x1="103.70" y1="263.00" x2="103.70" y2="392.30" stroke="#aeaeae" stroke-width="1.3"/>
<line x1="214.60" y1="349.50" x2="202.80" y2="349.50" stroke="#111" stroke-width="1.5"/>
<path d="M200.80,349.50 l3.4,-1.9 l-0.7,1.9 l0.7,1.9z" fill="#111" stroke="#111" stroke-width="0.5" stroke-linejoin="round"/>
<line x1="103.80" y1="250.20" x2="103.80" y2="261.50" stroke="#222" stroke-width="1.4"/>
<path d="M103.80,263.50 l-1.9,-3.4 l1.9,0.7 l1.9,-0.7z" fill="#222" stroke="#222" stroke-width="0.5" stroke-linejoin="round"/>
<text x="219.70" y="348.80" font-size="9.6" textLength="13.40" lengthAdjust="spacingAndGlyphs">0.3</text>
<text x="214.20" y="360.50" font-size="9.6" textLength="27.60" lengthAdjust="spacingAndGlyphs">RPKM</text>
<text x="81.10" y="247.60" font-size="9.6" textLength="44.00" lengthAdjust="spacingAndGlyphs">0.3 RPKM</text>
<text x="96.30" y="432.60" font-size="12.2" textLength="83.40" lengthAdjust="spacingAndGlyphs">Human platelet</text>
<text x="116.10" y="447.20" font-size="12.2" textLength="44.20" lengthAdjust="spacingAndGlyphs">(RPKM)</text>
<text x="9.20" y="396.80" font-size="13.3" textLength="137.40" lengthAdjust="spacingAndGlyphs" transform="rotate(-90 9.20 396.80)">Human platelet-activated</text>
<text x="25.20" y="351.80" font-size="12.4" textLength="45.00" lengthAdjust="spacingAndGlyphs" transform="rotate(-90 25.20 351.80)">(RPKM)</text>
<text x="0.20" y="250.40" font-size="18" textLength="11.20" lengthAdjust="spacingAndGlyphs" font-weight="bold">C</text>
<path d="M363.1,363.5h0.95M369.0,352.0h0.95M365.5,352.4h0.95M374.9,346.6h0.95M356.6,366.8h0.95M377.5,345.4h0.95M362.0,371.4h0.95M346.9,365.2h0.95M360.2,366.4h0.95M372.6,349.2h0.95M357.5,370.7h0.95M366.4,353.6h0.95M371.1,356.5h0.95M368.5,354.7h0.95M358.4,368.9h0.95M361.7,358.4h0.95M372.7,358.5h0.95M374.4,345.9h0.95M372.9,357.5h0.95M381.6,347.7h0.95M376.2,339.1h0.95M365.8,357.4h0.95M364.6,379.6h0.95M380.9,346.9h0.95M369.9,362.4h0.95M358.1,361.8h0.95M362.5,360.1h0.95M374.6,352.3h0.95M363.6,360.5h0.95M372.5,358.3h0.95M375.2,352.7h0.95M379.8,350.0h0.95M365.4,366.6h0.95M379.1,355.8h0.95M362.4,355.6h0.95M353.6,373.0h0.95M376.2,344.5h0.95M357.3,369.2h0.95M370.4,354.5h0.95M358.2,366.9h0.95M352.0,369.2h0.95M377.3,348.1h0.95M376.7,341.4h0.95M367.3,359.6h0.95M364.3,358.2h0.95M346.8,374.0h0.95M354.0,372.5h0.95M370.5,355.1h0.95M378.4,353.4h0.95M363.7,370.2h0.95M362.1,356.7h0.95M374.1,351.7h0.95M353.5,364.0h0.95M363.2,361.7h0.95M370.4,351.9h0.95M375.0,354.6h0.95M363.6,359.2h0.95M340.5,375.4h0.95M372.3,355.4h0.95M364.5,361.6h0.95M359.8,356.5h0.95M370.1,356.1h0.95M347.3,367.7h0.95M379.2,342.9h0.95M375.6,339.2h0.95M366.0,357.0h0.95M374.3,344.0h0.95M368.9,361.9h0.95M378.1,356.9h0.95M360.7,359.4h0.95M371.9,355.4h0.95M359.6,356.6h0.95M377.3,354.4h0.95M364.8,366.1h0.95M347.6,359.3h0.95M372.3,353.3h0.95M375.0,359.8h0.95M355.6,361.7h0.95M358.5,366.4h0.95M372.1,350.8h0.95M375.1,356.1h0.95M364.9,354.0h0.95M357.9,364.0h0.95M360.1,369.6h0.95M361.2,361.5h0.95M353.9,364.2h0.95M373.6,350.1h0.95M371.8,365.9h0.95M362.1,357.1h0.95M379.0,344.2h0.95M360.6,364.4h0.95M363.3,359.7h0.95M353.9,358.8h0.95M357.7,371.9h0.95M349.6,360.1h0.95M362.2,355.0h0.95M372.0,359.6h0.95M373.0,355.0h0.95M369.8,356.3h0.95M375.2,357.9h0.95M360.1,370.8h0.95M352.2,377.5h0.95M373.6,355.5h0.95M367.0,360.6h0.95M366.8,352.8h0.95M366.8,359.6h0.95M354.1,373.4h0.95M363.4,364.1h0.95M351.4,363.0h0.95M378.1,351.4h0.95M373.4,348.9h0.95M354.1,378.8h0.95M376.6,357.4h0.95M370.4,348.8h0.95M359.4,369.9h0.95M376.3,358.4h0.95M348.5,384.3h0.95M373.8,356.8h0.95M379.9,356.1h0.95M372.4,354.9h0.95M358.4,361.0h0.95M364.6,353.9h0.95M358.3,364.1h0.95M364.6,357.4h0.95M370.5,347.1h0.95M371.5,362.3h0.95M373.3,353.1h0.95M343.8,375.1h0.95M371.9,349.7h0.95M372.2,357.5h0.95M346.8,366.4h0.95M382.6,348.5h0.95M378.4,352.9h0.95M378.4,342.6h0.95M355.3,381.6h0.95M361.3,355.6h0.95M382.9,344.9h0.95M352.4,383.8h0.95M370.9,360.7h0.95M363.8,357.1h0.95M362.2,357.2h0.95M360.7,362.0h0.95M375.8,361.4h0.95M362.7,357.5h0.95M357.8,342.8h0.95M372.8,354.4h0.95M363.3,366.1h0.95M371.0,362.2h0.95M353.0,361.5h0.95M369.3,357.6h0.95M357.6,356.5h0.95M370.0,353.2h0.95M352.3,365.7h0.95M373.5,347.3h0.95M359.2,367.6h0.95M370.6,361.2h0.95M377.5,365.4h0.95M357.7,356.5h0.95M377.2,361.2h0.95M377.4,356.9h0.95M377.9,346.0h0.95M363.0,349.3h0.95M365.9,356.5h0.95M361.7,364.0h0.95M352.5,377.4h0.95M359.8,354.2h0.95M363.9,363.4h0.95M369.9,351.4h0.95M374.4,350.2h0.95M373.0,356.0h0.95M363.9,354.5h0.95M360.7,358.0h0.95M367.6,353.2h0.95M379.2,344.9h0.95M367.5,356.8h0.95M368.0,357.3h0.95M360.6,357.0h0.95M369.5,357.5h0.95M367.2,354.6h0.95M368.3,354.0h0.95M352.9,371.7h0.95M368.5,358.5h0.95M367.3,357.2h0.95M355.5,378.8h0.95M361.0,359.5h0.95M350.9,375.4h0.95M382.9,351.9h0.95M375.9,345.5h0.95M366.4,364.7h0.95M361.1,367.6h0.95M364.0,354.4h0.95M359.9,366.8h0.95M364.9,356.0h0.95M363.2,352.7h0.95M373.2,348.3h0.95M363.7,354.5h0.95M378.3,357.2h0.95M370.7,356.8h0.95M362.7,356.6h0.95M378.4,352.7h0.95M378.8,350.3h0.95M373.2,352.8h0.95M373.1,351.4h0.95M363.6,355.0h0.95M350.7,368.3h0.95M350.4,376.7h0.95M376.1,357.4h0.95M349.8,369.7h0.95M356.7,364.0h0.95M376.6,352.8h0.95M346.1,361.8h0.95M361.8,363.9h0.95M362.1,365.6h0.95M377.9,345.9h0.95M357.6,361.9h0.95M365.6,349.6h0.95M358.7,356.7h0.95M359.6,357.4h0.95M368.7,350.5h0.95M361.0,356.5h0.95M367.9,346.3h0.95M361.6,364.4h0.95M367.6,347.6h0.95M373.4,358.3h0.95M371.9,352.8h0.95M372.3,347.4h0.95M368.4,357.9h0.95M366.8,357.8h0.95M378.6,346.6h0.95M376.7,351.4h0.95M355.6,361.2h0.95M374.0,363.6h0.95M360.8,360.1h0.95M373.3,346.6h0.95M366.1,356.8h0.95M363.7,362.8h0.95M366.0,360.1h0.95M366.9,355.9h0.95M358.6,369.1h0.95M363.1,354.5h0.95M362.7,350.2h0.95M372.3,363.0h0.95M351.8,364.5h0.95M345.5,364.7h0.95M367.8,363.1h0.95M360.2,376.3h0.95M364.3,360.9h0.95M376.3,358.6h0.95M364.3,361.4h0.95M355.5,363.9h0.95M370.3,346.2h0.95M353.7,370.7h0.95M361.3,372.3h0.95M352.8,365.3h0.95M361.0,361.8h0.95M369.2,354.4h0.95M359.6,359.3h0.95M364.9,352.9h0.95M363.3,353.9h0.95M367.4,356.7h0.95M377.3,351.6h0.95M378.2,347.9h0.95M368.7,357.9h0.95M372.1,357.6h0.95M342.2,371.6h0.95M357.7,364.5h0.95M369.0,350.5h0.95M372.9,351.2h0.95M360.6,361.6h0.95M361.3,360.9h0.95M362.1,362.5h0.95M365.8,363.9h0.95M362.7,361.7h0.95M365.1,358.1h0.95M379.5,346.4h0.95M373.6,351.1h0.95M346.1,360.9h0.95M371.2,355.3h0.95M356.2,358.6h0.95M370.8,348.6h0.95M370.1,353.0h0.95M362.0,355.9h0.95M360.3,374.5h0.95M361.5,356.8h0.95M372.6,351.4h0.95M378.1,345.6h0.95M368.4,357.1h0.95M368.7,364.9h0.95M368.8,355.9h0.95M382.9,355.4h0.95M349.7,364.7h0.95M363.1,363.0h0.95M354.9,358.7h0.95M379.5,343.5h0.95M346.9,363.6h0.95M370.0,347.5h0.95M364.5,361.7h0.95M377.2,349.7h0.95M365.7,371.2h0.95M372.4,358.1h0.95M350.3,356.6h0.95M379.6,350.2h0.95M345.8,368.4h0.95M362.7,354.9h0.95M359.3,361.9h0.95M360.9,372.9h0.95M366.2,354.9h0.95M352.8,366.7h0.95M370.5,356.7h0.95M374.0,349.4h0.95M366.2,370.2h0.95M370.7,352.7h0.95M364.3,349.8h0.95M356.3,369.1h0.95M358.7,357.7h0.95M364.9,355.9h0.95M374.3,350.4h0.95M375.5,355.7h0.95M378.2,358.2h0.95M370.0,361.9h0.95M365.0,354.8h0.95M359.0,366.0h0.95M371.8,352.1h0.95M362.1,368.0h0.95M361.8,368.8h0.95M372.4,361.3h0.95M359.2,356.2h0.95M368.1,349.8h0.95M356.7,368.8h0.95M351.4,362.1h0.95M368.3,347.8h0.95M352.0,369.6h0.95M365.8,361.2h0.95M376.0,351.2h0.95M362.0,357.8h0.95M366.8,361.7h0.95M363.0,358.5h0.95M369.2,348.2h0.95M373.8,351.6h0.95M358.3,357.9h0.95M363.2,351.8h0.95M361.2,355.5h0.95M369.5,357.7h0.95M366.4,354.5h0.95M368.9,359.7h0.95M366.4,350.7h0.95M368.8,355.6h0.95M374.0,358.8h0.95M369.3,345.1h0.95M382.8,351.2h0.95M374.4,355.6h0.95M368.7,348.0h0.95M352.1,370.5h0.95M376.9,350.7h0.95M340.6,380.4h0.95M356.7,368.4h0.95M375.5,355.9h0.95M369.6,349.7h0.95M380.3,345.1h0.95M384.4,346.0h0.95M372.9,353.6h0.95M356.3,364.8h0.95M370.4,359.9h0.95M377.7,354.1h0.95M366.1,364.3h0.95M376.2,349.0h0.95M361.6,363.1h0.95M361.3,348.0h0.95M357.6,357.5h0.95M355.5,368.0h0.95M368.7,347.7h0.95M364.3,359.6h0.95M371.3,359.5h0.95M352.0,363.5h0.95M362.8,354.5h0.95M359.1,370.6h0.95M340.6,366.1h0.95M365.5,352.1h0.95M374.9,362.3h0.95M378.2,357.9h0.95M367.0,353.3h0.95M369.7,349.7h0.95M350.0,370.4h0.95M386.7,351.3h0.95M361.7,362.2h0.95M367.1,345.3h0.95M370.6,349.5h0.95M360.4,373.3h0.95M368.1,361.2h0.95M345.4,376.8h0.95M369.5,368.6h0.95M356.9,363.3h0.95M358.7,369.1h0.95M360.8,362.7h0.95M369.3,354.0h0.95M371.7,350.2h0.95M338.5,372.5h0.95M382.9,345.8h0.95M369.2,358.7h0.95M374.1,351.6h0.95M352.9,360.6h0.95M353.5,362.2h0.95M385.0,348.1h0.95M358.8,361.4h0.95M363.9,352.8h0.95M376.0,348.3h0.95M365.5,358.9h0.95M354.8,365.3h0.95M376.3,364.0h0.95M359.2,364.6h0.95M367.5,358.2h0.95M370.3,371.1h0.95M353.1,364.9h0.95M366.9,347.2h0.95M374.4,357.2h0.95M379.4,345.8h0.95M352.2,354.6h0.95M378.2,348.6h0.95M339.1,372.7h0.95M353.8,374.5h0.95M365.2,360.6h0.95M367.8,357.4h0.95M359.9,346.5h0.95M368.7,360.1h0.95M366.5,352.8h0.95M365.3,360.9h0.95M363.7,356.2h0.95M364.1,353.2h0.95M360.9,353.1h0.95M371.0,353.9h0.95M363.8,353.2h0.95M355.1,362.2h0.95M357.9,349.2h0.95M362.7,362.9h0.95M355.9,371.8h0.95M371.1,351.4h0.95M378.2,350.3h0.95M366.1,346.3h0.95M364.5,358.1h0.95M349.1,360.0h0.95M343.2,379.0h0.95M344.0,374.8h0.95M369.4,347.0h0.95M364.8,369.5h0.95M362.9,356.2h0.95M375.4,353.8h0.95M371.4,360.9h0.95M374.4,360.3h0.95M351.9,369.3h0.95M357.9,369.7h0.95M360.1,360.4h0.95M379.0,349.1h0.95M361.3,362.4h0.95M372.4,348.1h0.95M367.2,359.1h0.95M347.5,370.9h0.95M373.0,358.0h0.95M369.4,347.1h0.95M363.7,362.2h0.95M371.4,353.6h0.95M373.8,350.5h0.95M376.6,346.8h0.95M369.0,347.2h0.95M366.6,353.8h0.95M379.5,344.2h0.95M371.6,356.2h0.95M352.8,370.4h0.95M365.3,360.3h0.95M366.2,358.1h0.95M355.5,360.8h0.95M363.5,360.5h0.95M376.3,350.0h0.95M361.2,354.2h0.95M352.7,374.2h0.95M359.4,364.4h0.95M358.4,365.0h0.95M362.2,358.2h0.95M366.5,364.1h0.95M366.3,352.2h0.95M376.8,353.1h0.95M368.1,346.7h0.95M377.2,346.5h0.95M363.6,351.9h0.95M359.9,351.7h0.95M357.5,361.6h0.95M371.0,350.3h0.95M364.8,350.8h0.95M366.4,351.0h0.95M375.3,360.1h0.95M374.5,350.7h0.95M373.5,349.4h0.95M362.8,370.7h0.95M373.4,357.0h0.95M365.3,353.9h0.95M357.4,360.6h0.95M360.6,361.9h0.95M356.4,361.9h0.95M380.2,345.5h0.95M362.9,358.0h0.95M366.7,352.3h0.95M375.7,351.9h0.95M366.2,353.1h0.95M374.6,350.6h0.95M377.4,344.6h0.95M346.2,373.0h0.95M369.7,367.5h0.95M347.8,368.2h0.95M379.0,352.6h0.95M350.2,376.0h0.95M363.0,352.1h0.95M360.4,353.0h0.95M362.1,367.3h0.95M361.5,361.3h0.95M364.8,366.3h0.95M376.0,346.9h0.95M354.6,354.2h0.95M352.6,360.7h0.95M365.8,369.6h0.95M344.1,361.6h0.95M365.6,358.9h0.95M365.4,355.5h0.95M376.6,358.2h0.95M362.6,361.0h0.95M362.0,379.1h0.95M365.0,355.2h0.95M373.5,358.9h0.95M375.0,356.2h0.95M349.0,367.7h0.95M368.8,347.0h0.95M352.1,375.3h0.95M358.5,358.9h0.95M375.2,353.3h0.95M354.9,364.4h0.95M368.0,354.9h0.95M363.5,364.8h0.95M377.8,351.8h0.95M362.1,355.1h0.95M353.4,360.9h0.95M359.6,368.3h0.95M359.6,353.9h0.95M373.1,350.5h0.95M377.0,353.9h0.95M366.7,358.5h0.95M376.5,343.6h0.95M371.8,360.5h0.95M357.4,366.6h0.95M361.2,343.7h0.95M373.9,349.1h0.95M372.3,352.1h0.95M355.4,351.9h0.95M366.3,361.9h0.95M366.9,360.9h0.95M366.7,367.5h0.95M369.9,346.8h0.95M351.9,361.5h0.95M370.3,347.8h0.95M361.7,370.8h0.95M357.6,361.8h0.95M361.4,356.5h0.95M376.2,354.8h0.95M361.1,374.3h0.95M364.9,355.0h0.95M378.3,348.1h0.95M358.8,370.1h0.95M379.6,342.2h0.95M374.4,350.4h0.95M367.1,356.8h0.95M365.8,364.7h0.95M368.4,358.6h0.95M371.4,352.6h0.95M346.4,359.9h0.95M384.9,357.8h0.95M363.2,374.0h0.95M346.5,370.4h0.95M369.0,357.0h0.95M362.1,378.8h0.95M351.2,366.2h0.95M376.1,344.9h0.95M365.9,353.1h0.95M355.1,364.5h0.95M360.3,358.9h0.95M346.3,372.4h0.95M371.9,352.9h0.95M367.2,351.1h0.95M381.3,350.0h0.95M373.4,353.3h0.95M354.0,360.6h0.95M375.3,355.8h0.95M360.4,354.1h0.95M356.5,364.0h0.95M374.6,353.6h0.95M369.7,355.7h0.95M366.5,364.3h0.95M350.9,366.7h0.95M360.1,355.1h0.95M370.7,350.6h0.95M367.9,359.0h0.95M370.6,356.0h0.95M358.7,358.6h0.95M364.7,351.2h0.95M384.1,354.0h0.95M367.8,350.7h0.95M373.7,350.0h0.95M359.6,371.9h0.95M378.7,347.7h0.95M367.5,359.0h0.95M366.7,359.6h0.95M347.0,370.1h0.95M365.9,359.4h0.95M373.2,359.4h0.95M377.5,344.1h0.95M371.2,353.9h0.95M377.9,351.4h0.95M374.8,347.0h0.95M373.0,346.7h0.95M373.8,357.5h0.95M372.0,362.5h0.95M373.6,351.3h0.95M372.3,357.3h0.95M374.9,358.4h0.95M360.3,355.8h0.95M377.6,354.7h0.95M371.2,358.7h0.95M368.9,352.0h0.95M369.2,349.8h0.95M367.9,348.8h0.95M368.1,357.0h0.95M369.7,349.4h0.95M370.6,359.5h0.95M379.5,344.0h0.95M353.7,358.8h0.95M365.3,360.2h0.95M370.6,358.0h0.95M365.2,362.8h0.95M354.6,361.8h0.95M368.4,343.9h0.95M379.4,345.0h0.95M358.8,368.1h0.95M369.0,354.2h0.95M368.6,362.5h0.95M378.4,353.0h0.95M370.6,353.5h0.95M367.0,358.5h0.95M376.1,352.4h0.95M370.4,359.7h0.95M372.6,355.7h0.95M377.4,347.0h0.95M371.4,342.3h0.95M365.2,354.5h0.95M376.7,364.7h0.95M365.3,362.0h0.95M366.5,360.0h0.95M369.8,354.7h0.95M362.9,358.4h0.95M369.1,354.6h0.95M361.9,365.0h0.95M356.2,371.3h0.95M373.6,347.1h0.95M375.8,349.8h0.95M380.6,359.8h0.95M372.0,352.1h0.95M368.9,354.7h0.95M345.1,369.8h0.95M364.2,345.0h0.95M369.8,355.8h0.95M357.7,362.7h0.95M366.3,355.7h0.95M362.4,364.1h0.95M374.5,357.7h0.95M361.9,361.5h0.95M366.3,360.6h0.95M382.0,349.3h0.95M379.4,346.4h0.95M364.6,366.6h0.95M361.8,343.9h0.95M365.3,362.2h0.95M361.4,369.3h0.95M374.9,346.5h0.95M349.9,376.5h0.95M364.6,356.6h0.95M376.2,358.3h0.95M353.6,372.3h0.95M371.5,350.9h0.95M375.7,349.7h0.95M350.5,358.5h0.95M370.5,361.7h0.95M381.5,345.6h0.95M365.0,362.0h0.95M362.3,356.0h0.95M353.7,371.6h0.95M351.1,368.9h0.95M361.0,369.1h0.95M371.2,361.0h0.95M368.5,353.0h0.95M370.5,364.0h0.95M376.1,348.2h0.95M373.2,347.9h0.95M382.6,352.5h0.95M369.3,359.3h0.95M368.2,356.9h0.95M355.6,359.4h0.95M365.9,345.5h0.95M365.5,350.6h0.95M349.7,372.5h0.95M378.5,352.1h0.95M367.7,353.1h0.95M361.0,353.0h0.95M370.1,351.5h0.95M361.0,350.1h0.95M377.9,350.5h0.95M363.3,360.5h0.95M369.8,353.0h0.95M364.2,353.1h0.95M365.6,351.1h0.95M377.7,343.2h0.95M379.0,345.7h0.95M360.1,367.7h0.95M363.1,362.3h0.95M381.6,360.0h0.95M360.6,358.8h0.95M357.6,364.3h0.95M367.5,355.3h0.95M345.9,374.4h0.95M362.3,355.5h0.95M368.2,356.3h0.95M371.0,360.7h0.95M377.1,343.4h0.95M374.9,350.8h0.95M360.1,368.9h0.95M370.1,361.8h0.95M352.2,382.9h0.95M359.0,363.8h0.95M361.1,364.4h0.95M363.2,353.8h0.95M366.4,355.7h0.95M367.2,359.3h0.95M367.9,353.9h0.95M370.9,356.7h0.95M367.7,360.0h0.95M363.4,362.0h0.95M347.9,369.2h0.95M349.1,377.4h0.95M368.2,350.6h0.95M351.6,369.9h0.95M386.7,348.5h0.95M364.5,367.2h0.95M376.9,353.5h0.95M357.4,348.0h0.95M370.4,359.7h0.95M360.7,367.5h0.95M366.4,346.6h0.95M374.0,367.4h0.95M378.5,351.9h0.95M382.0,345.2h0.95M366.3,357.8h0.95M367.8,355.7h0.95M369.9,353.4h0.95M364.3,352.9h0.95M369.6,353.5h0.95M366.1,363.2h0.95M375.9,346.3h0.95M359.6,361.8h0.95M357.0,355.1h0.95M371.1,362.2h0.95M340.2,379.4h0.95M368.5,359.3h0.95M359.0,365.8h0.95M383.9,351.0h0.95M372.2,350.2h0.95M372.0,356.2h0.95M368.8,364.8h0.95M352.9,363.6h0.95M366.0,347.3h0.95M364.3,353.1h0.95M383.7,348.7h0.95M363.6,362.0h0.95M372.1,362.3h0.95M363.2,362.7h0.95M375.6,346.1h0.95M359.5,357.8h0.95M363.5,351.3h0.95M379.4,348.8h0.95M359.1,361.3h0.95M365.7,362.9h0.95M363.3,361.1h0.95M362.5,364.3h0.95M371.2,349.3h0.95M364.7,344.9h0.95M349.7,365.1h0.95M375.9,345.9h0.95M358.0,358.1h0.95M357.5,379.4h0.95M353.6,360.4h0.95M369.0,354.1h0.95M368.5,351.1h0.95M363.6,352.8h0.95M360.8,359.1h0.95M360.6,361.9h0.95M369.5,360.4h0.95M367.6,360.4h0.95M354.1,381.9h0.95M355.4,364.7h0.95M371.9,350.0h0.95M370.2,349.9h0.95M372.1,353.1h0.95M354.3,369.9h0.95M360.5,358.2h0.95M365.6,366.0h0.95M371.1,354.4h0.95M366.8,357.1h0.95M373.3,354.9h0.95M363.9,362.0h0.95M375.7,340.2h0.95M361.7,363.2h0.95M365.9,354.3h0.95M364.5,351.5h0.95M373.2,355.5h0.95M370.7,361.8h0.95M370.4,358.7h0.95M375.4,358.6h0.95M356.1,357.6h0.95M379.6,343.9h0.95M365.5,359.6h0.95M381.0,343.0h0.95M379.2,356.6h0.95M371.7,349.3h0.95M383.5,350.3h0.95M357.4,365.2h0.95M370.2,358.8h0.95M366.7,363.4h0.95M356.6,365.9h0.95M350.3,372.5h0.95M373.1,351.8h0.95M369.6,355.1h0.95M358.7,370.1h0.95M383.8,348.1h0.95M373.8,354.7h0.95M341.8,379.6h0.95M354.4,368.2h0.95M370.8,356.2h0.95M367.4,358.6h0.95M364.3,360.4h0.95M367.4,362.8h0.95M366.6,358.0h0.95M379.1,345.0h0.95M365.6,355.6h0.95M370.6,356.6h0.95M373.4,354.1h0.95M371.3,349.3h0.95M370.6,352.6h0.95M365.1,359.0h0.95M363.8,354.2h0.95M341.0,374.7h0.95M367.0,366.1h0.95M358.2,357.4h0.95M342.6,370.9h0.95M356.6,358.4h0.95M354.6,366.2h0.95M367.4,354.9h0.95M382.7,344.4h0.95M361.2,351.4h0.95M363.3,360.3h0.95M381.2,349.5h0.95M358.0,361.6h0.95M369.7,351.3h0.95M364.7,356.0h0.95M370.4,374.5h0.95M378.0,355.1h0.95M361.9,374.6h0.95M382.7,345.8h0.95M358.5,359.6h0.95M353.2,363.9h0.95M345.8,371.8h0.95M371.2,359.4h0.95M372.7,352.0h0.95M379.3,346.7h0.95M371.8,364.0h0.95M361.1,356.4h0.95M368.9,359.9h0.95M368.1,360.9h0.95M358.0,358.9h0.95M350.8,369.1h0.95M371.0,355.6h0.95M379.3,343.7h0.95M368.2,357.0h0.95M371.7,349.2h0.95M356.7,368.8h0.95M371.2,365.4h0.95M354.8,363.3h0.95M355.3,367.7h0.95M358.0,366.2h0.95M359.8,350.8h0.95M374.1,349.6h0.95M356.4,361.9h0.95M365.4,354.6h0.95M375.4,354.3h0.95M363.0,359.8h0.95M355.9,370.5h0.95M381.2,343.2h0.95M370.7,351.2h0.95M371.2,357.1h0.95M371.8,353.5h0.95M378.5,349.3h0.95M371.3,350.2h0.95M363.9,356.2h0.95M370.7,359.8h0.95M352.7,366.3h0.95M361.4,346.7h0.95M358.3,379.5h0.95M372.7,350.5h0.95M370.2,353.4h0.95M362.0,367.7h0.95M378.2,345.6h0.95M364.2,374.2h0.95M359.7,361.8h0.95M364.6,354.2h0.95M368.6,355.8h0.95M357.5,356.7h0.95M367.6,346.3h0.95M367.6,370.3h0.95M367.4,363.1h0.95M368.2,349.3h0.95M376.1,354.3h0.95M370.1,346.3h0.95M377.5,350.3h0.95M350.3,371.0h0.95M366.5,360.6h0.95M355.3,354.6h0.95M377.5,359.5h0.95M378.9,351.0h0.95M372.2,353.4h0.95M370.6,357.0h0.95M358.0,377.7h0.95M352.1,374.9h0.95M365.3,362.3h0.95M355.4,361.8h0.95M359.7,357.8h0.95M368.4,355.6h0.95M361.2,364.5h0.95M374.2,348.1h0.95M353.8,377.6h0.95M371.4,352.3h0.95M353.6,373.3h0.95M370.7,351.7h0.95M379.7,342.6h0.95M360.4,369.4h0.95M371.3,357.0h0.95M369.1,352.4h0.95M366.1,358.6h0.95M378.7,348.2h0.95M360.9,371.8h0.95M349.2,365.7h0.95M369.0,355.6h0.95M347.7,360.8h0.95M366.6,359.4h0.95M360.5,361.4h0.95M379.2,344.3h0.95M353.5,376.1h0.95M358.2,370.6h0.95M372.3,352.2h0.95M372.4,357.2h0.95M364.2,357.5h0.95M362.9,369.4h0.95M374.9,352.9h0.95M372.3,352.3h0.95M379.0,342.7h0.95M370.1,355.3h0.95M365.9,358.9h0.95M367.0,347.8h0.95M367.8,363.6h0.95M355.2,368.1h0.95M345.1,356.9h0.95M374.2,353.1h0.95M387.3,349.9h0.95M374.0,346.4h0.95M374.7,358.2h0.95M368.1,357.1h0.95M379.2,347.5h0.95M356.3,359.0h0.95M372.8,352.8h0.95M360.0,372.8h0.95M373.7,354.1h0.95M378.2,343.9h0.95M352.7,360.7h0.95M366.7,362.4h0.95M371.9,365.9h0.95M362.6,352.8h0.95M341.5,375.8h0.95M355.8,376.3h0.95M365.7,357.2h0.95M378.3,346.3h0.95M353.9,371.5h0.95M374.0,348.3h0.95M354.2,364.1h0.95M368.7,349.2h0.95M383.1,345.0h0.95M365.5,354.5h0.95M367.9,355.5h0.95M379.0,345.3h0.95M361.8,365.6h0.95M353.7,368.9h0.95M367.2,363.6h0.95M355.1,356.1h0.95M339.9,369.8h0.95M370.7,347.5h0.95M365.2,362.7h0.95M355.3,351.3h0.95M368.4,359.5h0.95M363.8,363.4h0.95M372.0,356.2h0.95M363.0,353.9h0.95M370.8,355.8h0.95M374.3,362.2h0.95M370.8,367.7h0.95M357.8,362.2h0.95M356.1,378.0h0.95M352.7,371.2h0.95M374.3,352.5h0.95M360.9,358.6h0.95M372.4,359.7h0.95M357.8,370.1h0.95M363.7,364.6h0.95M370.4,351.4h0.95M385.6,347.4h0.95M365.9,350.6h0.95M368.3,356.9h0.95M378.4,345.6h0.95M367.8,362.0h0.95M369.3,354.5h0.95M363.8,355.5h0.95M351.5,375.5h0.95M353.2,370.9h0.95M367.9,371.2h0.95M368.5,356.7h0.95M364.9,362.3h0.95M375.1,361.3h0.95M373.9,358.5h0.95M373.8,354.1h0.95M360.4,356.3h0.95M360.0,362.7h0.95M365.8,360.2h0.95M363.8,365.1h0.95M370.5,347.4h0.95M375.3,358.8h0.95M380.6,343.9h0.95M364.0,370.9h0.95M364.2,370.1h0.95M371.9,349.5h0.95M379.9,344.3h0.95M362.5,358.0h0.95M361.7,362.0h0.95M360.7,353.4h0.95M375.5,346.8h0.95M356.0,359.9h0.95M374.1,348.6h0.95M357.3,365.9h0.95M376.9,358.1h0.95M359.2,360.4h0.95M371.5,349.5h0.95M350.3,342.1h0.95M380.3,345.7h0.95M372.3,358.2h0.95M355.6,362.6h0.95M378.3,351.5h0.95M348.8,367.7h0.95M370.1,348.9h0.95M363.4,353.2h0.95M376.5,349.3h0.95M363.5,363.9h0.95M351.9,373.8h0.95M356.4,366.9h0.95M351.6,364.4h0.95M356.9,363.1h0.95M348.1,368.8h0.95M357.3,361.2h0.95M360.5,361.1h0.95M356.9,375.4h0.95M365.2,357.2h0.95M362.9,359.3h0.95M357.2,362.6h0.95M365.2,357.4h0.95M363.5,360.0h0.95M351.8,368.8h0.95M362.6,357.4h0.95M355.2,359.8h0.95M361.7,362.9h0.95M369.3,356.5h0.95M383.3,349.0h0.95M378.1,349.6h0.95M345.9,377.3h0.95M363.4,359.4h0.95M355.5,366.0h0.95M356.2,373.5h0.95M368.9,359.6h0.95M371.9,353.9h0.95M369.4,360.2h0.95M373.6,347.5h0.95M368.0,359.5h0.95M350.1,380.8h0.95M381.8,345.2h0.95M364.0,373.8h0.95M366.6,360.2h0.95M363.4,347.7h0.95M378.8,341.0h0.95M354.2,364.0h0.95M374.4,361.3h0.95M375.5,350.6h0.95M367.2,354.4h0.95M374.6,362.8h0.95M375.8,354.5h0.95M369.5,360.8h0.95M346.3,377.4h0.95M339.2,367.1h0.95M377.6,347.7h0.95M369.7,347.7h0.95M364.5,355.3h0.95M369.8,361.6h0.95M380.2,347.9h0.95M378.0,346.5h0.95M365.9,363.3h0.95M341.5,379.0h0.95M367.6,352.7h0.95M361.7,365.3h0.95M355.8,360.8h0.95M360.6,366.2h0.95M365.0,357.5h0.95M360.6,357.7h0.95M371.6,357.5h0.95M357.4,363.1h0.95M372.0,352.3h0.95M349.4,372.1h0.95M364.2,355.8h0.95M359.7,353.4h0.95M356.0,364.7h0.95M363.8,352.3h0.95M361.0,358.8h0.95M373.6,370.1h0.95M364.9,360.4h0.95M359.6,355.5h0.95M375.2,352.4h0.95M358.5,363.4h0.95M370.1,349.3h0.95M380.2,342.9h0.95M354.0,364.0h0.95M358.8,357.0h0.95M364.1,354.9h0.95M360.6,350.1h0.95M369.1,351.7h0.95M375.3,353.1h0.95M362.0,350.6h0.95M374.2,354.1h0.95M381.7,344.2h0.95M372.0,353.3h0.95M348.7,365.3h0.95M362.6,360.8h0.95M374.6,351.6h0.95M374.8,355.5h0.95M348.1,371.7h0.95M356.1,362.5h0.95M345.7,367.8h0.95M362.6,359.7h0.95M368.3,357.1h0.95M373.1,353.2h0.95M365.4,363.6h0.95M379.7,353.6h0.95M362.3,345.7h0.95M364.2,358.8h0.95M372.9,348.5h0.95M339.3,373.9h0.95M376.3,358.6h0.95M362.7,363.3h0.95M361.1,354.7h0.95M350.3,369.6h0.95M359.5,361.4h0.95M377.8,350.5h0.95M377.2,346.6h0.95M361.2,370.6h0.95M360.7,361.0h0.95M364.7,360.7h0.95M372.1,351.1h0.95M363.6,355.1h0.95M357.4,369.6h0.95M366.4,369.2h0.95M366.8,378.1h0.95M372.9,354.9h0.95M377.1,350.2h0.95M373.6,364.2h0.95M364.7,367.3h0.95M378.8,349.0h0.95M362.4,366.3h0.95M369.9,353.8h0.95M356.4,360.0h0.95M369.4,350.5h0.95M370.9,353.9h0.95M362.0,357.5h0.95M372.1,360.9h0.95M353.7,368.2h0.95M376.5,359.7h0.95M373.5,361.3h0.95M360.0,359.7h0.95M365.0,356.5h0.95M363.4,372.8h0.95M379.0,363.3h0.95M362.9,352.9h0.95M365.6,365.8h0.95M365.1,363.7h0.95M369.4,351.2h0.95M375.5,346.8h0.95M379.7,356.0h0.95M360.0,363.1h0.95M355.7,365.2h0.95M343.8,379.4h0.95M362.7,356.6h0.95M367.4,371.7h0.95M349.8,378.7h0.95M353.9,370.3h0.95M361.1,363.3h0.95M359.4,357.1h0.95M371.8,351.8h0.95M381.9,349.0h0.95M365.0,356.5h0.95M366.3,351.3h0.95M365.4,357.4h0.95M365.5,354.9h0.95M382.4,346.6h0.95M379.1,352.7h0.95M377.3,345.3h0.95M371.8,350.7h0.95M369.0,354.3h0.95M357.0,359.3h0.95M376.4,351.7h0.95M376.3,342.2h0.95M365.6,352.6h0.95M359.0,354.9h0.95M371.7,354.6h0.95M369.8,356.8h0.95M359.9,355.1h0.95M339.3,369.3h0.95M363.8,347.6h0.95M360.5,357.8h0.95M375.0,360.4h0.95M366.2,356.9h0.95M366.6,360.1h0.95M380.6,343.2h0.95M364.4,351.6h0.95M358.0,363.3h0.95M372.5,349.9h0.95M370.0,349.0h0.95M363.2,357.7h0.95M370.8,359.6h0.95M371.7,354.5h0.95M366.2,348.2h0.95M375.0,362.8h0.95M362.7,364.5h0.95M351.9,377.6h0.95M374.9,350.1h0.95M357.9,359.4h0.95M355.6,368.9h0.95M373.0,345.3h0.95M367.7,353.8h0.95M356.8,362.8h0.95M360.8,348.4h0.95M350.8,362.5h0.95M362.9,368.7h0.95M355.1,368.6h0.95M359.7,356.9h0.95M364.6,370.3h0.95M377.1,351.4h0.95M370.3,357.3h0.95M339.1,378.2h0.95M370.9,356.6h0.95M367.0,361.3h0.95M366.2,357.1h0.95M362.9,353.8h0.95M352.7,372.2h0.95M362.8,368.4h0.95M357.5,371.3h0.95M353.3,365.9h0.95M363.0,359.5h0.95M358.7,367.7h0.95M374.0,349.1h0.95M366.6,352.0h0.95M367.6,349.4h0.95M357.7,353.6h0.95M362.6,360.8h0.95M366.0,364.9h0.95M370.9,356.8h0.95M369.0,348.6h0.95M365.1,357.1h0.95M380.1,352.8h0.95M380.0,343.3h0.95M360.5,369.9h0.95M345.7,370.1h0.95M365.2,361.3h0.95M372.8,366.0h0.95M361.8,356.4h0.95M367.2,358.7h0.95M351.6,372.6h0.95M357.1,365.6h0.95M366.6,353.2h0.95M375.3,349.8h0.95M351.8,366.0h0.95M355.0,362.2h0.95M361.4,360.8h0.95M366.5,357.6h0.95M379.1,346.1h0.95M360.6,355.3h0.95M363.9,362.6h0.95M362.8,354.0h0.95M357.3,350.0h0.95M376.5,352.2h0.95M352.0,361.8h0.95M368.1,362.8h0.95M370.4,356.4h0.95M368.7,351.5h0.95M370.2,345.8h0.95M372.7,355.9h0.95M380.0,348.3h0.95M360.7,363.0h0.95M360.4,352.8h0.95M353.8,360.9h0.95M366.9,351.1h0.95M350.1,371.7h0.95M374.0,354.3h0.95M360.6,363.0h0.95M363.9,360.9h0.95M376.9,356.8h0.95M356.0,371.5h0.95M379.2,350.8h0.95M352.5,366.4h0.95M361.5,358.9h0.95M362.3,352.3h0.95M382.0,346.1h0.95M358.0,360.0h0.95M375.7,355.5h0.95M372.1,358.8h0.95M366.9,359.2h0.95M354.5,362.3h0.95M369.5,354.2h0.95M353.3,376.1h0.95M378.7,356.3h0.95M372.5,354.1h0.95M380.8,348.0h0.95M364.0,359.5h0.95M358.5,356.6h0.95M350.2,378.6h0.95M367.1,354.4h0.95M353.1,359.1h0.95M378.7,351.7h0.95M366.5,352.9h0.95M372.2,360.2h0.95M358.9,362.7h0.95M361.9,359.8h0.95M359.3,372.5h0.95M378.3,344.4h0.95M377.6,348.2h0.95M370.9,352.4h0.95M364.6,347.5h0.95M372.1,351.3h0.95M364.0,357.5h0.95M370.5,357.2h0.95M361.2,365.6h0.95M365.5,359.5h0.95M369.2,349.6h0.95M374.4,347.3h0.95M361.5,371.6h0.95M373.8,365.9h0.95M366.1,355.0h0.95M347.2,374.5h0.95M365.6,368.4h0.95M365.4,356.9h0.95M374.5,346.1h0.95M370.9,350.9h0.95M358.9,361.0h0.95M362.4,352.2h0.95M357.7,354.7h0.95M363.8,369.8h0.95M375.7,352.3h0.95M353.3,368.4h0.95M374.4,356.6h0.95M368.7,350.7h0.95M366.1,358.1h0.95M366.3,358.8h0.95M374.2,356.9h0.95M352.8,368.1h0.95M370.9,346.6h0.95M367.6,346.4h0.95M371.1,358.9h0.95M376.8,349.0h0.95M372.0,355.0h0.95M369.4,364.3h0.95M358.2,362.6h0.95M356.6,357.9h0.95M349.2,383.9h0.95M368.9,346.2h0.95M365.9,364.7h0.95M375.3,358.2h0.95M351.8,359.3h0.95M359.4,359.3h0.95M370.4,349.2h0.95M365.5,344.2h0.95M379.7,341.9h0.95M372.1,353.8h0.95M360.9,355.4h0.95M364.7,374.0h0.95M368.6,363.2h0.95M374.3,351.6h0.95M361.3,362.9h0.95M354.2,363.7h0.95M371.1,345.6h0.95M360.4,363.7h0.95M363.4,354.9h0.95M361.2,362.5h0.95M370.1,370.0h0.95M369.5,352.3h0.95M375.0,349.6h0.95M376.1,351.2h0.95M380.5,348.2h0.95M361.7,368.5h0.95M375.2,361.5h0.95M371.7,348.5h0.95M363.4,373.1h0.95M351.3,379.5h0.95M348.2,377.9h0.95M372.8,354.3h0.95M365.6,352.3h0.95M365.4,362.5h0.95M356.8,364.7h0.95M366.7,352.2h0.95M356.7,359.0h0.95M359.1,360.9h0.95M369.6,356.6h0.95M375.6,351.4h0.95M368.9,348.9h0.95M379.4,351.3h0.95M349.2,359.0h0.95M373.8,356.8h0.95M372.1,356.4h0.95M371.7,349.4h0.95M371.1,352.3h0.95M362.0,362.2h0.95M375.9,354.3h0.95M369.0,356.2h0.95M373.3,348.8h0.95M355.0,367.6h0.95M354.4,364.6h0.95M373.1,353.0h0.95M365.8,356.3h0.95M352.4,382.9h0.95M354.5,381.9h0.95M372.8,346.1h0.95M361.8,359.9h0.95M353.8,353.1h0.95M376.7,346.7h0.95M369.7,354.5h0.95M380.1,345.9h0.95M366.6,361.6h0.95M362.5,368.5h0.95M370.4,359.0h0.95M372.6,344.1h0.95M365.9,356.1h0.95M364.7,356.6h0.95M382.4,343.9h0.95M355.8,364.0h0.95M383.6,347.6h0.95M361.4,365.9h0.95M366.2,366.1h0.95M365.6,352.6h0.95M373.1,355.0h0.95M382.1,351.0h0.95M365.3,355.4h0.95M359.4,363.8h0.95M358.8,358.0h0.95M370.7,346.8h0.95M375.7,352.3h0.95M367.3,351.3h0.95M366.0,354.8h0.95M361.9,355.8h0.95M364.4,344.2h0.95M363.6,359.2h0.95M361.6,362.6h0.95M350.5,377.8h0.95M363.8,360.9h0.95M343.6,365.5h0.95M372.9,353.8h0.95M380.6,344.0h0.95M379.3,347.0h0.95M367.7,364.8h0.95M374.1,350.5h0.95M361.2,353.9h0.95M358.4,365.1h0.95M375.3,352.1h0.95M372.3,350.7h0.95M366.0,372.3h0.95M377.2,347.9h0.95M373.5,356.4h0.95M377.8,352.3h0.95M364.6,352.7h0.95M370.5,354.6h0.95M372.9,353.8h0.95M371.0,354.8h0.95M374.0,349.1h0.95M366.5,356.0h0.95M380.8,347.6h0.95M344.5,369.7h0.95M367.6,357.7h0.95M366.2,345.2h0.95M370.6,350.7h0.95M369.0,360.1h0.95M372.6,356.2h0.95M371.9,355.8h0.95M365.5,367.3h0.95M361.3,351.3h0.95M374.1,352.2h0.95M377.6,348.2h0.95M377.0,347.4h0.95M366.7,356.8h0.95M347.1,368.5h0.95M360.0,364.9h0.95M356.3,371.8h0.95M374.3,352.9h0.95M374.0,362.4h0.95M357.0,371.0h0.95M370.9,354.2h0.95M361.2,367.7h0.95M375.4,351.0h0.95M358.6,350.4h0.95M368.8,348.2h0.95M366.1,355.7h0.95M372.8,360.3h0.95M363.0,365.1h0.95M365.3,355.6h0.95M372.9,349.8h0.95M372.6,347.1h0.95M360.7,373.2h0.95M361.1,354.0h0.95M347.1,369.9h0.95M371.1,350.0h0.95M355.0,370.8h0.95M368.6,360.9h0.95M375.9,349.1h0.95M356.0,358.9h0.95M352.2,364.6h0.95M376.9,356.1h0.95M376.0,348.2h0.95M373.3,362.4h0.95M360.3,354.5h0.95M368.9,351.4h0.95M376.2,350.6h0.95M365.9,348.7h0.95M368.8,353.1h0.95M368.7,357.7h0.95M373.2,358.6h0.95M363.2,357.8h0.95M360.2,363.4h0.95M358.5,370.3h0.95M366.3,355.2h0.95M357.4,359.5h0.95M368.9,353.0h0.95M364.2,346.5h0.95M376.7,352.0h0.95M364.6,365.5h0.95M369.5,354.6h0.95M371.4,358.4h0.95M359.9,356.0h0.95M375.0,361.7h0.95M370.9,350.8h0.95M365.9,355.1h0.95M373.7,351.9h0.95M375.0,353.5h0.95M361.3,358.2h0.95M362.8,363.2h0.95M365.0,360.7h0.95M366.9,364.0h0.95M359.2,378.0h0.95M354.6,370.7h0.95M370.8,345.0h0.95M357.6,353.2h0.95M357.6,377.6h0.95M376.3,354.1h0.95M367.6,357.5h0.95M377.7,349.6h0.95M370.6,358.7h0.95M366.6,353.4h0.95M371.2,353.3h0.95M358.9,362.9h0.95M379.8,349.1h0.95M367.6,357.8h0.95M366.4,351.7h0.95M362.1,359.8h0.95M372.7,348.6h0.95M380.4,349.7h0.95M368.8,354.5h0.95M358.5,369.6h0.95M369.3,365.6h0.95M355.0,348.6h0.95M365.4,347.2h0.95M373.8,351.8h0.95M366.3,347.1h0.95M361.2,361.3h0.95M355.1,373.6h0.95M373.3,349.7h0.95M373.7,359.9h0.95M373.4,364.8h0.95M357.7,353.0h0.95M366.6,361.8h0.95M358.9,365.5h0.95M351.5,361.0h0.95M363.4,359.7h0.95M368.9,345.4h0.95M361.6,360.2h0.95M374.2,350.6h0.95M365.5,358.1h0.95M362.6,356.6h0.95M372.8,345.2h0.95M371.1,356.4h0.95M370.8,359.7h0.95M371.2,359.6h0.95M358.6,371.4h0.95M360.3,365.5h0.95M367.0,363.4h0.95M360.1,354.6h0.95M347.6,365.3h0.95M380.5,358.7h0.95M360.4,361.6h0.95M374.5,348.4h0.95M384.3,345.6h0.95M356.8,358.3h0.95M350.5,341.9h0.95M372.4,355.7h0.95M359.6,367.3h0.95M379.7,352.7h0.95M354.4,351.4h0.95M377.1,347.6h0.95M352.0,360.4h0.95M362.6,366.7h0.95M341.0,371.9h0.95M355.2,363.5h0.95M367.6,360.5h0.95M365.5,361.5h0.95M368.0,358.5h0.95M352.6,367.3h0.95M366.2,349.1h0.95M379.1,341.3h0.95M372.5,346.7h0.95M377.8,350.7h0.95M365.4,358.6h0.95M361.7,365.9h0.95M361.4,357.3h0.95M378.8,350.0h0.95M367.0,366.3h0.95M372.6,362.1h0.95M368.2,353.6h0.95M365.0,352.1h0.95M367.0,366.8h0.95M368.7,350.2h0.95M369.8,355.0h0.95M353.1,369.7h0.95M369.6,348.1h0.95M372.4,350.8h0.95M351.2,366.1h0.95M354.0,359.8h0.95M367.9,360.7h0.95M355.7,359.6h0.95M360.2,343.9h0.95M362.1,350.7h0.95M363.0,361.0h0.95M363.5,357.0h0.95M367.4,351.3h0.95M373.7,352.7h0.95M379.8,345.9h0.95M368.9,355.0h0.95M368.2,365.5h0.95M360.9,360.3h0.95M375.7,352.0h0.95M372.0,354.7h0.95M360.8,365.2h0.95M367.4,353.0h0.95M354.3,349.4h0.95M371.5,352.7h0.95M353.9,373.5h0.95M367.6,362.1h0.95M363.8,354.0h0.95M365.6,355.6h0.95M361.2,362.4h0.95M360.1,368.3h0.95M366.7,348.5h0.95M383.7,356.0h0.95M371.6,350.9h0.95M363.0,352.5h0.95M368.1,349.4h0.95M371.3,360.2h0.95M367.8,365.6h0.95M357.0,349.9h0.95M372.0,352.4h0.95M361.9,366.0h0.95M355.3,360.1h0.95M372.6,362.8h0.95M359.3,355.2h0.95M364.2,363.8h0.95M369.0,359.9h0.95M360.0,365.7h0.95M369.5,344.5h0.95M360.1,371.0h0.95M377.8,345.2h0.95M379.3,348.8h0.95M360.6,370.1h0.95M364.7,356.7h0.95M361.7,350.1h0.95M369.5,355.3h0.95M382.8,347.9h0.95M373.4,359.7h0.95M376.0,352.3h0.95M370.7,365.4h0.95M361.8,355.9h0.95M369.4,355.3h0.95M367.6,359.3h0.95M383.3,349.6h0.95M376.6,350.9h0.95M361.8,359.2h0.95M385.4,349.7h0.95M366.5,353.0h0.95M368.3,344.6h0.95M347.0,378.4h0.95M363.5,362.7h0.95M382.2,349.5h0.95M368.3,357.3h0.95M367.1,368.0h0.95M379.1,353.1h0.95M366.9,361.9h0.95M377.7,344.9h0.95M366.2,358.4h0.95M358.4,362.8h0.95M361.1,374.4h0.95M371.7,351.3h0.95M368.6,352.0h0.95M383.2,348.5h0.95M377.7,345.0h0.95M353.3,354.0h0.95M367.9,366.0h0.95M363.0,364.7h0.95M372.0,359.3h0.95M376.3,348.9h0.95M362.6,362.5h0.95M348.4,355.8h0.95M350.6,369.6h0.95M376.2,349.9h0.95M370.1,353.3h0.95M365.9,356.5h0.95M365.2,356.5h0.95M374.1,348.8h0.95M369.8,353.8h0.95M362.2,361.8h0.95M375.9,349.1h0.95M355.4,370.9h0.95M366.4,361.2h0.95M362.9,372.9h0.95M368.4,355.4h0.95M359.6,358.2h0.95M369.2,346.8h0.95M359.5,371.4h0.95M385.2,347.0h0.95M367.9,355.9h0.95M379.5,349.5h0.95M346.5,368.9h0.95M359.1,373.8h0.95M382.9,344.3h0.95M367.3,356.5h0.95M355.2,358.5h0.95M360.2,364.6h0.95M368.3,363.5h0.95M372.1,358.7h0.95M347.2,365.8h0.95M374.0,349.9h0.95M353.6,372.8h0.95M371.2,350.9h0.95M382.3,354.6h0.95M358.3,381.4h0.95M373.4,351.3h0.95M356.1,356.5h0.95M349.0,377.2h0.95M371.4,346.0h0.95M365.6,363.1h0.95M373.0,347.8h0.95M366.0,352.7h0.95M362.0,374.6h0.95M372.0,349.9h0.95M357.6,364.9h0.95M361.2,357.8h0.95M357.8,359.2h0.95M358.6,372.8h0.95M361.8,368.0h0.95M361.7,365.7h0.95M365.5,366.4h0.95M360.8,357.4h0.95M372.7,349.4h0.95M365.2,352.9h0.95M357.9,359.1h0.95M346.6,364.1h0.95M365.2,366.5h0.95M376.0,351.2h0.95M343.3,370.1h0.95M358.6,363.4h0.95M370.8,353.4h0.95M370.6,358.4h0.95M358.9,347.0h0.95M361.0,351.8h0.95M362.7,351.9h0.95M368.3,350.8h0.95M364.9,344.6h0.95M366.3,350.1h0.95M362.9,364.4h0.95M364.6,349.2h0.95M366.9,349.5h0.95M373.5,349.7h0.95M365.5,361.4h0.95M356.0,360.8h0.95M380.8,344.0h0.95M358.5,359.7h0.95M375.0,349.9h0.95M359.8,357.7h0.95M352.1,378.3h0.95M374.0,346.2h0.95M360.0,355.6h0.95M369.1,354.2h0.95M375.6,350.6h0.95M378.9,354.6h0.95M379.5,354.5h0.95M361.0,363.5h0.95M361.7,356.0h0.95M348.9,368.9h0.95M357.0,361.9h0.95M372.5,347.8h0.95M373.6,353.7h0.95M364.9,356.2h0.95M344.5,368.9h0.95M357.6,358.4h0.95M353.0,367.0h0.95M360.7,363.2h0.95M355.0,360.9h0.95M360.1,365.1h0.95M364.1,356.4h0.95M354.5,364.4h0.95M364.2,360.3h0.95M374.1,357.9h0.95M355.9,361.1h0.95M355.6,360.0h0.95M362.1,361.3h0.95M363.4,364.8h0.95M368.3,357.6h0.95M375.6,349.9h0.95M383.8,347.2h0.95M367.1,360.5h0.95M364.1,359.6h0.95M369.5,358.9h0.95M375.9,355.6h0.95M366.2,363.7h0.95M374.9,345.1h0.95M379.4,360.3h0.95M357.9,359.3h0.95M375.6,352.0h0.95M371.3,357.2h0.95M378.2,353.7h0.95M344.4,377.0h0.95M353.5,362.3h0.95M363.3,362.0h0.95M374.9,350.2h0.95M366.3,345.2h0.95M368.9,349.2h0.95M361.8,360.4h0.95M368.5,353.5h0.95M361.3,361.9h0.95M355.7,370.8h0.95M375.1,354.8h0.95M361.0,360.8h0.95M370.2,354.2h0.95M362.1,371.9h0.95M365.9,363.9h0.95M355.6,374.4h0.95M361.4,363.0h0.95M365.2,357.9h0.95M373.0,356.5h0.95M361.7,363.2h0.95M366.4,358.6h0.95M379.8,362.9h0.95M378.9,350.2h0.95M370.3,366.1h0.95M373.7,352.1h0.95M366.7,358.8h0.95M358.2,363.4h0.95M385.7,351.3h0.95M357.0,367.2h0.95M372.0,371.0h0.95M358.4,364.1h0.95M375.1,360.4h0.95M373.4,347.2h0.95M369.6,354.3h0.95M373.8,340.1h0.95M370.9,357.5h0.95M366.1,363.6h0.95M363.9,364.5h0.95M358.5,371.7h0.95M382.0,344.5h0.95M368.1,369.6h0.95M352.1,366.4h0.95M374.0,357.8h0.95M364.4,366.9h0.95M382.8,344.8h0.95M371.5,350.2h0.95M373.2,353.8h0.95M364.4,358.5h0.95M364.3,359.5h0.95M383.1,348.5h0.95M355.6,376.7h0.95M359.7,356.7h0.95M380.6,344.9h0.95M373.6,356.4h0.95M352.5,365.5h0.95M361.0,365.7h0.95M368.9,364.2h0.95M356.4,368.3h0.95M381.5,346.5h0.95M355.9,359.4h0.95M372.9,345.3h0.95M373.2,356.7h0.95M360.2,355.3h0.95M357.6,353.8h0.95M361.8,359.1h0.95M342.9,370.2h0.95M370.2,350.5h0.95M362.3,366.7h0.95M373.9,344.0h0.95M348.7,375.1h0.95M357.8,364.4h0.95M364.0,354.1h0.95M370.1,352.4h0.95M355.6,362.8h0.95M370.3,347.9h0.95M377.6,356.9h0.95M348.0,375.8h0.95M366.5,361.5h0.95M359.5,352.1h0.95M361.6,358.2h0.95M360.7,348.0h0.95M359.0,364.5h0.95M368.0,348.1h0.95M370.2,357.0h0.95M371.2,356.2h0.95M361.4,370.9h0.95M374.1,352.3h0.95M378.1,360.0h0.95M360.8,370.2h0.95M352.6,368.8h0.95M365.1,359.9h0.95M360.7,345.4h0.95M363.5,362.3h0.95M365.1,363.5h0.95M356.7,372.2h0.95M374.4,353.8h0.95M357.3,371.0h0.95M356.3,369.0h0.95M374.9,350.2h0.95M380.8,348.6h0.95M380.8,346.7h0.95M380.6,346.1h0.95M370.5,357.6h0.95M372.4,351.3h0.95M365.3,353.4h0.95M358.1,360.4h0.95M368.2,352.5h0.95M362.2,358.2h0.95M365.1,355.6h0.95M364.5,371.2h0.95M368.0,362.3h0.95M375.5,353.5h0.95M378.1,349.5h0.95M370.0,363.4h0.95M360.2,370.0h0.95M363.6,362.4h0.95M367.7,366.5h0.95M367.5,352.3h0.95M352.2,365.2h0.95M378.5,346.1h0.95M358.5,348.0h0.95M372.9,356.0h0.95M344.2,365.4h0.95M367.5,353.4h0.95M376.6,364.1h0.95M374.0,358.3h0.95M373.5,357.5h0.95M367.9,351.4h0.95M373.6,365.3h0.95M371.3,351.5h0.95M367.8,354.1h0.95M353.7,362.8h0.95M365.8,351.4h0.95M362.6,351.0h0.95M369.1,354.0h0.95M364.6,359.3h0.95M364.9,351.7h0.95M411.6,318.6h0.95M417.9,312.5h0.95M446.7,287.7h0.95M416.0,315.8h0.95M438.9,295.1h0.95M430.4,301.7h0.95M436.8,296.6h0.95M384.5,343.9h0.95M417.2,311.9h0.95M368.9,356.7h0.95M425.9,305.6h0.95M445.9,288.0h0.95M430.6,302.5h0.95M439.6,293.2h0.95M381.5,344.3h0.95M413.4,315.8h0.95M393.0,339.2h0.95M396.6,330.2h0.95M413.5,315.7h0.95M421.2,311.4h0.95M399.7,326.5h0.95M429.2,301.5h0.95M446.4,288.0h0.95M414.5,320.6h0.95M434.1,298.7h0.95M368.7,356.2h0.95M438.7,294.0h0.95M445.3,288.4h0.95M437.1,297.0h0.95M441.1,293.1h0.95M443.5,291.3h0.95M434.8,299.3h0.95M428.3,303.3h0.95M428.1,304.1h0.95M400.1,325.9h0.95M414.1,320.4h0.95M401.1,327.5h0.95M431.7,300.1h0.95M429.5,304.0h0.95M412.4,314.7h0.95M416.2,311.4h0.95M376.1,350.9h0.95M378.2,348.6h0.95M411.8,316.8h0.95M386.0,342.8h0.95M418.9,314.1h0.95M368.9,356.6h0.95M399.2,328.6h0.95M431.8,299.3h0.95M448.4,286.7h0.95M430.6,303.3h0.95M409.1,321.3h0.95M446.3,289.3h0.95M432.2,299.9h0.95M385.8,346.0h0.95M436.3,296.6h0.95M445.6,289.1h0.95M435.2,298.8h0.95M443.0,291.2h0.95M442.4,292.6h0.95M435.8,296.9h0.95M423.0,311.0h0.95M411.4,321.6h0.95M405.9,324.9h0.95M404.2,325.7h0.95M371.7,353.5h0.95M418.9,310.9h0.95M433.5,299.6h0.95M426.3,307.5h0.95M372.5,353.4h0.95M392.3,331.8h0.95M375.9,353.5h0.95M410.8,318.3h0.95M384.9,345.8h0.95M417.9,313.6h0.95M380.1,346.2h0.95M414.7,317.0h0.95M411.9,318.2h0.95M416.9,318.4h0.95M373.6,353.2h0.95M417.4,315.4h0.95M434.2,299.1h0.95M412.9,315.8h0.95M399.7,326.6h0.95M413.1,318.1h0.95M448.7,286.0h0.95M410.2,316.1h0.95M425.2,307.5h0.95M413.3,320.3h0.95M441.6,293.2h0.95M404.3,324.2h0.95M416.9,313.1h0.95M371.0,354.1h0.95M416.3,315.9h0.95M370.8,355.9h0.95M447.6,287.0h0.95M393.8,336.0h0.95M374.7,350.4h0.95M415.9,315.4h0.95M416.8,310.5h0.95M395.1,337.3h0.95M423.1,307.7h0.95M388.0,341.1h0.95M407.3,320.2h0.95M411.7,317.7h0.95M414.7,318.1h0.95M411.4,320.6h0.95M402.2,330.0h0.95M427.8,303.8h0.95M431.4,300.7h0.95M420.1,311.8h0.95M394.0,332.0h0.95M412.3,316.5h0.95M414.0,316.7h0.95M411.0,317.8h0.95M396.7,332.8h0.95M413.2,319.3h0.95M374.2,353.1h0.95M428.1,303.0h0.95M395.0,336.7h0.95M374.4,350.5h0.95M410.2,316.4h0.95M390.2,342.1h0.95M398.0,337.0h0.95M414.7,314.6h0.95M435.4,298.3h0.95M393.6,328.8h0.95M415.4,314.2h0.95M400.9,327.5h0.95M417.7,316.6h0.95M381.4,345.2h0.95M385.6,339.1h0.95M416.3,316.3h0.95M430.8,302.4h0.95M419.9,310.3h0.95M408.0,321.9h0.95M408.3,320.7h0.95M446.7,288.1h0.95M415.6,313.6h0.95M409.3,322.4h0.95M417.2,315.7h0.95M425.3,305.6h0.95M439.4,295.3h0.95M447.4,287.7h0.95M432.5,300.8h0.95M433.9,297.5h0.95M393.1,338.8h0.95M412.5,316.2h0.95M421.1,308.6h0.95M404.7,326.1h0.95M429.6,303.3h0.95M378.9,348.2h0.95M404.3,331.0h0.95M371.0,356.7h0.95M429.3,302.2h0.95M397.2,327.7h0.95M400.1,332.3h0.95M401.5,328.9h0.95M439.7,292.9h0.95M431.4,301.6h0.95M414.5,317.3h0.95M368.8,356.5h0.95M385.7,335.1h0.95M423.7,308.4h0.95M417.3,312.2h0.95M397.0,333.6h0.95M422.8,308.7h0.95M431.6,301.3h0.95M378.0,344.5h0.95M393.9,330.9h0.95M448.5,286.2h0.95M414.8,314.0h0.95M415.8,317.7h0.95M414.8,318.4h0.95M413.2,316.9h0.95M374.5,354.1h0.95M437.4,297.1h0.95M443.0,291.5h0.95M374.2,350.7h0.95M381.2,345.6h0.95M413.1,317.2h0.95M412.4,318.8h0.95M442.7,291.3h0.95M415.4,316.7h0.95M442.9,292.4h0.95M440.7,292.6h0.95M396.7,333.5h0.95M373.9,353.8h0.95M373.0,353.2h0.95M421.9,308.4h0.95M377.4,354.0h0.95M412.9,321.4h0.95M419.0,313.2h0.95M429.6,301.3h0.95M407.7,325.4h0.95M371.7,355.1h0.95M391.5,340.5h0.95M437.3,297.6h0.95M435.4,296.6h0.95M442.6,291.1h0.95M410.3,321.7h0.95M435.3,299.1h0.95M443.1,290.5h0.95M425.3,306.5h0.95M424.6,306.8h0.95M432.7,300.7h0.95M371.3,354.4h0.95M417.2,313.5h0.95M390.9,339.7h0.95M428.6,304.7h0.95M403.4,330.8h0.95M431.2,301.7h0.95M396.9,333.5h0.95M377.1,347.1h0.95M404.3,321.8h0.95M442.1,290.5h0.95M431.4,304.2h0.95M425.8,308.8h0.95M403.6,322.9h0.95M391.8,332.7h0.95M399.8,328.4h0.95M423.2,308.5h0.95M373.4,349.6h0.95M447.5,287.3h0.95M403.4,327.9h0.95M386.5,344.7h0.95M419.8,311.1h0.95M424.1,307.2h0.95M416.5,313.1h0.95M391.3,340.4h0.95M403.6,322.2h0.95M373.1,351.7h0.95M388.5,341.6h0.95M411.6,319.0h0.95M448.9,286.8h0.95M381.6,346.0h0.95M411.2,323.6h0.95M416.6,314.2h0.95M414.7,316.9h0.95M400.6,328.1h0.95M422.9,311.1h0.95M408.2,320.9h0.95M429.2,303.1h0.95M379.2,343.4h0.95M412.1,315.0h0.95M438.6,295.1h0.95M435.2,299.1h0.95M381.7,343.6h0.95M398.6,331.7h0.95M415.6,316.4h0.95M426.4,306.2h0.95M427.1,307.4h0.95M442.0,291.2h0.95M445.7,288.7h0.95M435.1,296.5h0.95M399.5,326.3h0.95M428.8,303.2h0.95M414.0,320.5h0.95M399.1,329.0h0.95M372.7,354.6h0.95M417.5,315.1h0.95M433.5,300.3h0.95M406.0,324.3h0.95M421.1,312.3h0.95M402.5,333.9h0.95M420.0,311.8h0.95M374.4,348.8h0.95M411.3,316.1h0.95M393.1,338.3h0.95M413.3,315.2h0.95M401.9,330.0h0.95M401.5,326.5h0.95M446.9,288.3h0.95M391.5,340.4h0.95M448.0,286.6h0.95M425.3,305.4h0.95M368.9,357.2h0.95M411.2,317.8h0.95M416.4,317.8h0.95M417.3,315.5h0.95M382.8,341.9h0.95M390.7,339.7h0.95M448.2,286.5h0.95M371.2,352.9h0.95M415.5,313.6h0.95M396.7,338.6h0.95M412.7,318.2h0.95M434.3,300.0h0.95M408.8,320.7h0.95M426.0,306.7h0.95M383.2,345.7h0.95M416.0,315.0h0.95M442.7,292.6h0.95M415.1,311.0h0.95M397.4,331.8h0.95M396.4,341.9h0.95M446.6,287.5h0.95M420.7,311.5h0.95M428.4,302.3h0.95M426.0,303.4h0.95M370.1,354.8h0.95M418.8,312.2h0.95M401.3,331.4h0.95M392.2,334.6h0.95M406.3,319.8h0.95M430.8,301.9h0.95M429.6,302.5h0.95M407.1,324.5h0.95M369.1,356.8h0.95M393.8,332.6h0.95M383.7,344.6h0.95M370.8,355.6h0.95M433.8,300.6h0.95M368.5,356.1h0.95M414.9,317.9h0.95M437.4,295.7h0.95M410.4,316.9h0.95M443.5,290.1h0.95M410.4,317.1h0.95M420.3,311.9h0.95M368.4,357.1h0.95M414.4,317.8h0.95M388.9,340.0h0.95M372.6,354.8h0.95M415.6,316.7h0.95M404.2,326.8h0.95M415.3,314.4h0.95M419.2,312.0h0.95M440.2,293.1h0.95M417.0,313.7h0.95M427.9,304.5h0.95M417.9,312.0h0.95M377.2,347.0h0.95M384.5,342.4h0.95M385.7,343.2h0.95M430.4,301.1h0.95M404.2,325.8h0.95M418.3,312.1h0.95M384.9,339.2h0.95M396.6,331.3h0.95M395.0,332.0h0.95M412.2,316.6h0.95M437.3,297.1h0.95M415.8,312.7h0.95M389.5,341.1h0.95M376.0,351.4h0.95M393.2,333.0h0.95M378.2,350.3h0.95M413.6,315.5h0.95M414.2,315.2h0.95M374.5,351.3h0.95M424.4,307.4h0.95M415.5,315.7h0.95M437.2,295.8h0.95M390.4,332.5h0.95M370.6,353.4h0.95M375.9,349.8h0.95M373.7,353.9h0.95M392.9,332.8h0.95M445.7,289.0h0.95M428.2,305.4h0.95M398.0,331.3h0.95M374.4,355.0h0.95M384.5,340.7h0.95M380.9,345.0h0.95M369.6,355.7h0.95M424.3,307.3h0.95M438.8,294.5h0.95M371.9,349.1h0.95M388.4,338.5h0.95M380.7,340.6h0.95M394.9,337.4h0.95M375.9,355.2h0.95M385.4,343.4h0.95M403.8,323.7h0.95M397.2,330.6h0.95M426.1,304.9h0.95M427.5,306.0h0.95M376.1,347.1h0.95M390.3,342.2h0.95M379.4,347.1h0.95M444.3,290.3h0.95M444.2,290.6h0.95M410.9,317.8h0.95M437.4,294.9h0.95M401.1,330.2h0.95M388.7,342.0h0.95M380.4,346.2h0.95M442.3,292.2h0.95M417.6,314.9h0.95M422.1,312.6h0.95M418.7,312.4h0.95M390.5,332.8h0.95M408.9,321.8h0.95M420.4,312.0h0.95M402.0,326.8h0.95M428.3,304.3h0.95M374.4,350.3h0.95M415.5,315.3h0.95M440.8,293.3h0.95M417.6,314.9h0.95M380.7,346.4h0.95M376.7,348.8h0.95M416.6,312.8h0.95M419.2,315.3h0.95M409.3,318.5h0.95M442.3,292.1h0.95M408.4,321.1h0.95M393.9,337.1h0.95M439.9,294.5h0.95M394.6,335.0h0.95M402.1,329.1h0.95M410.2,317.6h0.95M409.7,319.5h0.95M445.9,289.4h0.95M431.4,302.1h0.95M419.7,316.3h0.95M376.5,344.5h0.95M398.5,332.5h0.95M389.1,339.4h0.95M371.7,355.6h0.95M398.6,329.0h0.95M435.0,296.2h0.95M406.1,320.1h0.95M371.7,353.9h0.95M428.5,302.7h0.95M408.6,320.8h0.95M428.2,309.2h0.95M415.8,315.2h0.95M443.1,291.1h0.95M438.2,295.9h0.95M407.5,324.3h0.95M401.2,325.9h0.95M422.8,314.0h0.95M445.4,289.0h0.95M379.4,345.1h0.95M436.4,295.8h0.95M429.9,303.4h0.95M388.8,340.6h0.95M380.4,347.8h0.95M388.0,345.3h0.95M370.8,353.9h0.95M385.8,337.4h0.95M405.7,325.9h0.95M436.7,295.9h0.95M415.7,314.1h0.95M389.1,338.8h0.95M416.0,311.8h0.95M387.6,337.8h0.95M401.2,329.5h0.95M371.9,356.2h0.95M401.0,327.5h0.95M417.6,316.2h0.95M375.1,350.5h0.95M398.9,329.4h0.95M415.5,314.9h0.95M434.2,298.5h0.95M444.0,290.2h0.95M417.3,312.3h0.95M409.2,323.0h0.95M403.2,328.9h0.95M379.5,350.8h0.95M423.0,307.6h0.95M427.4,306.2h0.95M395.9,332.5h0.95M384.6,338.4h0.95M396.1,331.1h0.95M419.2,310.3h0.95M412.1,322.1h0.95M402.3,329.8h0.95M429.5,303.9h0.95M447.9,287.3h0.95M444.0,289.7h0.95M432.2,302.7h0.95M383.2,351.2h0.95M371.7,353.7h0.95M380.0,345.3h0.95M436.7,294.6h0.95M381.4,348.7h0.95M431.5,301.6h0.95M412.4,317.3h0.95M439.2,294.7h0.95M377.1,347.5h0.95M415.9,314.8h0.95M436.7,297.1h0.95M420.5,312.1h0.95M416.8,314.2h0.95M375.8,350.3h0.95M388.9,341.8h0.95M397.2,332.9h0.95M376.8,350.0h0.95M379.2,347.7h0.95M373.3,351.0h0.95M413.6,313.5h0.95M416.4,313.9h0.95M376.8,349.2h0.95M373.2,352.9h0.95M399.4,328.7h0.95M411.6,317.6h0.95M374.1,350.0h0.95M421.4,311.9h0.95M383.7,348.3h0.95M430.5,301.9h0.95M395.7,329.2h0.95M441.7,292.6h0.95M397.5,333.0h0.95M414.1,316.1h0.95M369.3,356.1h0.95M381.7,342.2h0.95M448.9,286.2h0.95M376.7,351.3h0.95M375.8,343.6h0.95M380.9,348.0h0.95M404.9,327.9h0.95M419.6,310.6h0.95M404.9,320.9h0.95M390.3,339.6h0.95M439.2,295.0h0.95M417.2,315.9h0.95M402.3,324.9h0.95M397.0,329.7h0.95M413.5,317.0h0.95M428.5,304.4h0.95M386.5,341.3h0.95M390.5,343.5h0.95M407.5,318.4h0.95M444.4,289.9h0.95M431.3,299.8h0.95M415.9,315.7h0.95M437.4,296.7h0.95M412.9,319.2h0.95M437.5,296.5h0.95M400.8,326.6h0.95M379.7,351.9h0.95M431.5,300.3h0.95M426.4,309.6h0.95M397.4,330.3h0.95M442.8,291.1h0.95M386.4,338.4h0.95M403.8,326.1h0.95M406.5,321.0h0.95M439.9,295.8h0.95M392.9,334.7h0.95M410.0,320.5h0.95M400.8,331.7h0.95M381.4,344.0h0.95M385.0,344.1h0.95M428.2,303.1h0.95M448.7,286.0h0.95M426.0,307.2h0.95M401.0,323.0h0.95M418.2,314.8h0.95M434.4,300.2h0.95M409.0,316.7h0.95M410.1,323.5h0.95M371.0,354.8h0.95M443.6,290.4h0.95M385.2,340.1h0.95M433.8,300.8h0.95M424.7,308.7h0.95M433.8,298.8h0.95M418.2,315.2h0.95M399.6,329.2h0.95M398.6,330.8h0.95M413.3,318.5h0.95M423.2,307.0h0.95M438.4,294.7h0.95M387.8,337.5h0.95M426.9,305.2h0.95M437.0,296.1h0.95M421.6,311.3h0.95M446.8,287.9h0.95M394.5,334.6h0.95M370.6,356.3h0.95M371.5,352.6h0.95M448.0,286.6h0.95M371.6,355.4h0.95M447.1,287.2h0.95M379.5,347.9h0.95M442.6,292.2h0.95M447.4,287.2h0.95M394.6,335.4h0.95M400.6,325.8h0.95M414.1,318.0h0.95M383.7,343.5h0.95M390.4,340.3h0.95M408.1,321.8h0.95M419.5,311.2h0.95M432.0,300.8h0.95M374.6,353.1h0.95M387.3,342.6h0.95M433.2,301.9h0.95M412.2,318.5h0.95M448.5,286.2h0.95M437.5,293.9h0.95M413.7,316.2h0.95M417.8,313.2h0.95M443.7,290.4h0.95M414.9,318.0h0.95M420.8,311.2h0.95M410.0,322.6h0.95M433.8,300.1h0.95M411.6,315.8h0.95M419.9,315.4h0.95M412.1,317.1h0.95M417.9,311.3h0.95M436.7,297.3h0.95M425.9,306.9h0.95M376.0,349.9h0.95M379.3,349.4h0.95M443.3,291.6h0.95M415.9,314.6h0.95M392.9,339.9h0.95M417.6,312.5h0.95M411.5,317.0h0.95M368.6,356.8h0.95M431.3,301.0h0.95M406.3,323.4h0.95M415.3,317.9h0.95M437.2,296.1h0.95M425.5,303.6h0.95M389.8,337.3h0.95M402.1,325.2h0.95M398.5,331.8h0.95M434.3,300.1h0.95M410.3,316.3h0.95M403.9,323.9h0.95M387.6,334.6h0.95M403.1,325.1h0.95M424.5,309.8h0.95M390.0,329.2h0.95M441.2,292.8h0.95M448.2,286.7h0.95M394.8,334.3h0.95M418.8,309.8h0.95M400.1,333.1h0.95M369.1,356.6h0.95M410.7,323.0h0.95M433.7,301.5h0.95M441.6,292.6h0.95M402.6,326.3h0.95M413.7,314.0h0.95M433.3,299.7h0.95M436.7,297.0h0.95M376.2,347.7h0.95M397.4,328.6h0.95M433.1,299.5h0.95M370.4,355.8h0.95M384.1,344.1h0.95M444.2,290.9h0.95M434.9,296.3h0.95M416.7,317.5h0.95M434.4,297.8h0.95M435.8,299.4h0.95M403.0,327.8h0.95M423.6,307.8h0.95M446.8,287.8h0.95M411.1,319.0h0.95M413.6,315.3h0.95M374.8,352.2h0.95M375.1,353.5h0.95M440.5,293.4h0.95M389.3,334.8h0.95M415.3,313.3h0.95M382.1,346.0h0.95M417.1,316.0h0.95M424.7,309.4h0.95M444.1,290.5h0.95M427.9,307.7h0.95M444.3,290.0h0.95M400.6,324.2h0.95M393.4,330.4h0.95M417.9,314.5h0.95M421.2,309.1h0.95M399.5,325.6h0.95M387.8,340.3h0.95M405.1,328.7h0.95M444.7,290.0h0.95M388.7,336.5h0.95M417.7,314.1h0.95M374.0,353.2h0.95M400.2,329.6h0.95M415.5,313.4h0.95M386.8,339.6h0.95M388.4,343.3h0.95M372.3,352.1h0.95M425.6,305.3h0.95M420.0,313.4h0.95M385.2,340.4h0.95M413.7,318.5h0.95M432.8,301.8h0.95M447.5,288.0h0.95M414.7,322.0h0.95M421.5,308.1h0.95M372.5,354.8h0.95M432.2,300.9h0.95M433.5,299.7h0.95M439.6,294.0h0.95M375.0,352.5h0.95M409.9,317.3h0.95M444.7,289.1h0.95M439.3,295.8h0.95M384.9,346.9h0.95M383.1,344.4h0.95M369.7,356.8h0.95M406.6,324.6h0.95M391.6,333.6h0.95M399.8,330.4h0.95M413.6,316.8h0.95M436.6,298.5h0.95M428.3,304.0h0.95M376.4,351.8h0.95M417.7,312.9h0.95M445.9,288.9h0.95M418.9,314.0h0.95M448.4,287.0h0.95M387.2,343.7h0.95M425.4,308.7h0.95M425.8,306.7h0.95M428.9,306.6h0.95M414.2,318.4h0.95M434.6,297.9h0.95M414.1,315.2h0.95M395.8,334.1h0.95M369.8,355.6h0.95M418.0,313.3h0.95M419.9,310.3h0.95M434.4,299.5h0.95M369.0,358.0h0.95M412.3,321.2h0.95M444.1,290.6h0.95M423.1,311.6h0.95M413.3,319.4h0.95M415.7,316.3h0.95M396.1,337.7h0.95M414.9,316.3h0.95M376.9,348.6h0.95M381.2,345.8h0.95M420.6,309.7h0.95M391.3,336.6h0.95M426.4,307.6h0.95M421.9,310.1h0.95M373.3,351.8h0.95M445.3,288.6h0.95M402.0,330.5h0.95M398.7,334.2h0.95M408.4,322.6h0.95M444.1,291.4h0.95M375.8,352.2h0.95M410.0,314.8h0.95M434.4,298.0h0.95M415.5,318.2h0.95M436.6,299.4h0.95M370.4,355.7h0.95M444.4,289.3h0.95M393.0,337.4h0.95M413.7,315.1h0.95M423.0,309.3h0.95M411.2,321.8h0.95M428.2,305.5h0.95M437.9,295.2h0.95M383.2,346.4h0.95M416.0,319.1h0.95M369.1,356.5h0.95M412.3,317.2h0.95M387.3,337.7h0.95M378.1,346.8h0.95M411.3,315.7h0.95M368.5,357.3h0.95M379.5,342.3h0.95M416.6,313.5h0.95M416.4,311.6h0.95M393.4,337.0h0.95M379.6,350.7h0.95M437.4,297.6h0.95M418.8,313.7h0.95M405.5,326.7h0.95M413.8,319.7h0.95M393.0,338.5h0.95M427.5,306.5h0.95M423.6,308.8h0.95M410.6,318.5h0.95M443.0,290.8h0.95M429.8,305.3h0.95M413.3,313.9h0.95M394.7,331.7h0.95M394.9,332.3h0.95M429.6,303.0h0.95M376.0,346.4h0.95M435.3,298.6h0.95M381.1,346.4h0.95M368.0,357.0h0.95M436.4,296.4h0.95M403.7,328.7h0.95M400.7,335.5h0.95M420.5,313.3h0.95M443.1,290.2h0.95M378.9,348.4h0.95M439.0,294.7h0.95M444.4,290.7h0.95M440.7,292.8h0.95M390.1,343.1h0.95M435.4,299.8h0.95M371.1,354.6h0.95M443.2,291.2h0.95M384.4,344.1h0.95M445.9,288.2h0.95M413.4,315.7h0.95M391.5,337.6h0.95M373.7,351.1h0.95M427.1,307.8h0.95M380.1,343.4h0.95M445.1,290.0h0.95M381.8,347.6h0.95M438.4,297.9h0.95M427.5,304.4h0.95M390.1,336.4h0.95M384.5,338.2h0.95M373.5,352.5h0.95M374.2,351.8h0.95M413.5,316.1h0.95M432.6,300.2h0.95M384.6,341.7h0.95M371.8,356.8h0.95M371.4,355.0h0.95M424.9,306.8h0.95M420.8,309.3h0.95M412.6,321.5h0.95M408.4,317.3h0.95M399.1,332.1h0.95M435.2,297.2h0.95M421.5,308.9h0.95M430.6,301.7h0.95M381.0,349.6h0.95M415.7,315.0h0.95M427.9,304.6h0.95M396.5,336.8h0.95M376.1,351.2h0.95M444.7,289.9h0.95M440.8,292.3h0.95M404.3,326.3h0.95M398.3,333.6h0.95M401.3,326.7h0.95M430.3,302.0h0.95M413.5,320.7h0.95M390.1,339.5h0.95M444.9,289.6h0.95M440.7,292.2h0.95M447.5,287.3h0.95M383.3,338.3h0.95M447.0,288.8h0.95M441.6,291.9h0.95M385.2,341.3h0.95M373.7,349.8h0.95M407.2,320.7h0.95M411.5,318.5h0.95M422.7,306.4h0.95M438.9,292.5h0.95M431.4,301.6h0.95M413.6,314.6h0.95M427.4,303.9h0.95M430.4,304.2h0.95M380.9,349.8h0.95M411.8,315.9h0.95M371.8,354.0h0.95M384.2,343.2h0.95M435.1,299.7h0.95M428.7,303.1h0.95M386.1,343.4h0.95M438.7,295.0h0.95M441.5,292.9h0.95M406.3,324.1h0.95M415.6,316.0h0.95M421.7,311.7h0.95M371.3,354.7h0.95M394.2,332.6h0.95M406.0,320.7h0.95M427.7,305.9h0.95M447.1,287.3h0.95M390.8,338.0h0.95M439.2,296.2h0.95M401.1,328.6h0.95M394.8,337.0h0.95M373.6,354.4h0.95M373.1,355.2h0.95M445.6,290.0h0.95M418.1,313.5h0.95M426.3,306.0h0.95M426.6,306.4h0.95M433.2,301.1h0.95M412.7,315.2h0.95M381.5,343.9h0.95M422.6,309.2h0.95M374.5,352.8h0.95M421.0,310.6h0.95M446.9,288.7h0.95M380.2,348.7h0.95M415.9,315.0h0.95M443.1,292.7h0.95M382.7,345.1h0.95M447.1,287.9h0.95M412.2,319.3h0.95M409.6,320.1h0.95M422.7,309.6h0.95M415.0,316.0h0.95M431.5,301.7h0.95M378.2,349.3h0.95M369.2,356.2h0.95M393.1,330.2h0.95M444.7,289.7h0.95M399.1,332.9h0.95M415.3,316.4h0.95M419.6,310.3h0.95M383.3,340.3h0.95M388.0,339.3h0.95M382.9,342.7h0.95M372.7,353.2h0.95M442.5,290.8h0.95M400.4,331.6h0.95M383.7,342.8h0.95M442.8,290.8h0.95M445.0,288.9h0.95M440.4,295.8h0.95M376.5,348.6h0.95M447.9,286.9h0.95M415.5,318.8h0.95M381.4,343.7h0.95M442.5,291.7h0.95M438.5,295.9h0.95M404.9,326.1h0.95M396.4,333.9h0.95M418.6,311.3h0.95M407.1,323.4h0.95M399.5,332.5h0.95M415.1,315.1h0.95M419.2,311.8h0.95M385.3,336.5h0.95M413.6,320.0h0.95M411.0,320.7h0.95M418.9,315.0h0.95M394.6,335.1h0.95M415.3,317.1h0.95M419.4,312.9h0.95M424.5,308.6h0.95M425.6,305.6h0.95M375.6,352.6h0.95M425.0,307.9h0.95M423.1,309.1h0.95M411.5,322.2h0.95M393.5,335.3h0.95M434.9,298.2h0.95M393.7,339.1h0.95M417.7,315.8h0.95M400.1,326.3h0.95M382.1,347.4h0.95M385.4,340.6h0.95M385.8,339.6h0.95M445.4,289.0h0.95M412.6,317.2h0.95M428.4,303.6h0.95M406.1,326.5h0.95M433.3,301.2h0.95M383.1,345.6h0.95M421.2,309.4h0.95M381.7,344.0h0.95M410.5,323.4h0.95M378.3,348.1h0.95M410.4,315.5h0.95M423.1,307.5h0.95M422.1,310.7h0.95M422.7,310.8h0.95M417.0,312.6h0.95M408.9,320.2h0.95M369.9,356.3h0.95M412.9,319.5h0.95M391.5,336.4h0.95M396.8,331.4h0.95M413.7,318.2h0.95M375.3,353.6h0.95M397.9,329.3h0.95M421.4,310.1h0.95M437.4,296.4h0.95M396.1,330.0h0.95M389.9,333.5h0.95M382.6,347.0h0.95M432.9,300.8h0.95M426.5,306.2h0.95M421.0,309.9h0.95M411.0,318.4h0.95M412.2,323.2h0.95M395.5,335.3h0.95M416.4,313.9h0.95M441.8,292.3h0.95M412.5,313.8h0.95M389.0,336.8h0.95M416.3,316.8h0.95M404.2,327.6h0.95M398.3,330.7h0.95M409.9,319.8h0.95M374.4,353.6h0.95M393.4,334.4h0.95M404.0,327.5h0.95M427.3,306.5h0.95M410.1,318.3h0.95M412.2,318.4h0.95M388.0,335.8h0.95M373.9,354.0h0.95M412.0,321.3h0.95M412.7,319.8h0.95M436.3,297.8h0.95M389.6,341.3h0.95M447.4,287.1h0.95M375.5,352.1h0.95M437.4,296.1h0.95M447.6,287.3h0.95M429.4,304.5h0.95M396.5,328.1h0.95M388.5,338.3h0.95M393.8,337.7h0.95M385.2,341.1h0.95M444.6,288.5h0.95M406.6,325.4h0.95M397.9,335.2h0.95M421.5,311.0h0.95M433.8,301.7h0.95M414.5,318.6h0.95M376.4,350.5h0.95M445.8,289.4h0.95M415.7,314.6h0.95M438.7,294.7h0.95M446.1,288.6h0.95M415.9,313.6h0.95M408.5,323.7h0.95M417.8,315.6h0.95M422.5,308.6h0.95M427.6,306.6h0.95M393.2,335.1h0.95M386.1,345.1h0.95M442.7,291.9h0.95M413.3,317.9h0.95M369.9,355.4h0.95M400.4,335.1h0.95M433.8,300.1h0.95M373.4,351.3h0.95M421.7,310.1h0.95M434.1,298.4h0.95M440.7,293.4h0.95M416.9,310.3h0.95M413.8,313.8h0.95M430.6,300.9h0.95M373.3,351.4h0.95M437.7,295.6h0.95M372.4,347.1h0.95M413.7,316.9h0.95M407.7,324.1h0.95M422.2,312.3h0.95M372.3,353.3h0.95M390.7,336.0h0.95M389.4,337.8h0.95M372.9,349.1h0.95M417.3,314.6h0.95M408.3,325.0h0.95M447.9,286.7h0.95M421.1,312.2h0.95M399.0,333.1h0.95M409.0,318.8h0.95M419.0,317.4h0.95M415.7,315.6h0.95M410.6,321.4h0.95M400.9,329.1h0.95M404.9,323.9h0.95M420.5,313.5h0.95M408.0,318.1h0.95M427.7,304.2h0.95M409.5,322.3h0.95M389.1,340.9h0.95M387.1,336.0h0.95M431.9,301.2h0.95M446.0,288.1h0.95M394.2,332.7h0.95M375.5,350.9h0.95M414.2,319.2h0.95M397.0,332.1h0.95M423.0,308.3h0.95M424.8,309.4h0.95M400.8,334.0h0.95M374.5,346.7h0.95M376.5,352.0h0.95M369.4,357.0h0.95M414.5,314.2h0.95M427.9,306.3h0.95M373.7,354.3h0.95M419.9,310.7h0.95M383.1,340.2h0.95M435.0,298.6h0.95M397.2,325.1h0.95M413.6,317.9h0.95M432.2,298.6h0.95M368.7,357.6h0.95M416.3,312.6h0.95M371.5,356.8h0.95M401.6,325.6h0.95M393.1,336.1h0.95M416.0,313.6h0.95M387.3,335.5h0.95M437.4,297.6h0.95M418.7,309.4h0.95M386.1,336.5h0.95M426.8,303.3h0.95M395.2,330.4h0.95M399.4,334.0h0.95M383.6,344.9h0.95M400.4,327.6h0.95M380.1,348.6h0.95M434.3,300.0h0.95M403.7,323.8h0.95M434.7,299.0h0.95M370.7,353.4h0.95M384.0,345.6h0.95M424.5,309.6h0.95M402.1,326.8h0.95M428.2,303.9h0.95M427.9,302.6h0.95M409.1,321.7h0.95M443.1,291.4h0.95M440.0,293.9h0.95M423.8,310.1h0.95M400.6,327.0h0.95M386.5,346.2h0.95M423.9,308.4h0.95M417.2,312.9h0.95M445.1,288.6h0.95M402.5,327.7h0.95M390.5,341.5h0.95M381.6,344.4h0.95M432.0,301.7h0.95M445.3,289.6h0.95M428.9,303.2h0.95M446.8,288.2h0.95M414.0,312.7h0.95M415.3,318.2h0.95M380.4,343.6h0.95M423.2,307.5h0.95M415.9,315.0h0.95M389.5,336.3h0.95M407.8,323.3h0.95M448.6,286.3h0.95M425.2,306.8h0.95M428.0,306.5h0.95M430.1,303.6h0.95M380.0,350.5h0.95M420.0,311.9h0.95M394.0,342.1h0.95M414.7,316.5h0.95M400.7,329.6h0.95M445.1,289.6h0.95M391.7,329.6h0.95M391.9,339.4h0.95M423.5,308.5h0.95M421.2,310.3h0.95M385.2,336.5h0.95M381.6,344.5h0.95M388.0,340.8h0.95M387.5,342.0h0.95M390.8,331.5h0.95M370.4,356.0h0.95M415.4,314.9h0.95M438.4,295.7h0.95M410.6,324.1h0.95M402.6,326.3h0.95M382.0,342.4h0.95M384.3,342.7h0.95M403.1,326.9h0.95M371.2,352.6h0.95M407.2,321.2h0.95M422.0,308.1h0.95M437.3,297.1h0.95M411.1,318.6h0.95M372.6,352.5h0.95M410.2,320.4h0.95M441.4,292.0h0.95M438.4,294.6h0.95M415.3,315.2h0.95M418.0,313.2h0.95M378.9,346.3h0.95M403.9,325.8h0.95M380.6,348.7h0.95M407.1,329.9h0.95M437.3,297.3h0.95M447.5,286.6h0.95M413.6,314.1h0.95M380.8,347.3h0.95M411.8,318.3h0.95M437.1,296.7h0.95M435.4,298.2h0.95M416.6,316.9h0.95M393.9,335.4h0.95M402.1,322.7h0.95M385.4,342.4h0.95M406.3,325.1h0.95M375.7,351.5h0.95M414.9,317.0h0.95M377.0,348.8h0.95M433.3,299.5h0.95M387.6,334.2h0.95M416.7,318.0h0.95M374.9,349.7h0.95M425.2,305.5h0.95M417.3,313.7h0.95M409.5,323.7h0.95M429.6,303.1h0.95M388.3,338.3h0.95M427.7,309.0h0.95M392.5,337.8h0.95M385.0,342.5h0.95M370.1,356.2h0.95M429.7,303.2h0.95M399.5,333.5h0.95M381.7,346.8h0.95M401.0,328.2h0.95M379.6,348.3h0.95M391.2,336.9h0.95M379.5,348.8h0.95M439.0,294.5h0.95M432.5,299.4h0.95M387.1,341.0h0.95M393.3,335.5h0.95M394.5,334.7h0.95M416.4,317.1h0.95M433.1,298.7h0.95M417.7,314.5h0.95M414.0,318.8h0.95M415.0,315.7h0.95M395.4,333.2h0.95M371.7,355.7h0.95M445.8,289.9h0.95M413.5,316.8h0.95M429.8,302.9h0.95M446.7,287.9h0.95M380.8,347.6h0.95M388.3,338.5h0.95M388.0,344.1h0.95M374.4,352.9h0.95M432.1,298.9h0.95M382.9,340.6h0.95M394.5,332.9h0.95M433.7,300.2h0.95M406.0,325.2h0.95M384.6,344.7h0.95M437.9,295.6h0.95M413.6,318.4h0.95M421.9,309.8h0.95M423.0,308.9h0.95M374.0,351.9h0.95M420.2,313.0h0.95M444.2,290.2h0.95M385.2,346.1h0.95M436.2,297.7h0.95M394.0,335.0h0.95M419.5,312.4h0.95M411.6,316.2h0.95M418.6,313.9h0.95M399.3,332.5h0.95M377.3,348.0h0.95M419.3,311.9h0.95M414.7,312.5h0.95M439.9,294.1h0.95M379.4,349.0h0.95M405.5,324.4h0.95M403.4,328.0h0.95M430.9,302.4h0.95M426.2,307.7h0.95M443.3,291.3h0.95M420.5,308.8h0.95M424.4,309.2h0.95M415.7,314.9h0.95M423.5,307.9h0.95M375.1,353.4h0.95M447.0,287.4h0.95M397.8,333.5h0.95M378.3,350.2h0.95M377.2,350.1h0.95M403.3,327.1h0.95M415.9,316.5h0.95M445.2,288.8h0.95M434.9,298.3h0.95M396.8,333.7h0.95M440.8,293.2h0.95M435.5,297.3h0.95M424.2,307.5h0.95M426.1,305.3h0.95M385.2,344.2h0.95M427.2,306.4h0.95M400.0,327.5h0.95M384.8,342.7h0.95M397.6,332.5h0.95M396.7,334.8h0.95M428.2,304.8h0.95M415.5,314.0h0.95M426.4,306.7h0.95M406.7,320.4h0.95M431.7,299.6h0.95M415.1,312.8h0.95M385.5,338.2h0.95M397.2,329.1h0.95M384.2,338.5h0.95M419.6,313.5h0.95M381.5,346.3h0.95M423.4,307.0h0.95M447.3,287.1h0.95M429.4,304.1h0.95M387.1,342.9h0.95M405.7,322.5h0.95M416.5,312.8h0.95M404.3,325.9h0.95M437.3,296.4h0.95M424.5,309.7h0.95M419.0,312.0h0.95M415.4,314.0h0.95M399.6,330.8h0.95M448.1,286.9h0.95M418.6,315.0h0.95M408.4,318.9h0.95M372.2,351.9h0.95M405.5,320.1h0.95M411.1,318.3h0.95M431.9,301.2h0.95M448.3,286.4h0.95M443.9,289.1h0.95M413.4,319.8h0.95M394.0,330.7h0.95M412.0,320.4h0.95M393.4,333.8h0.95M442.8,292.0h0.95M378.9,350.0h0.95M371.0,355.5h0.95M416.3,313.9h0.95M394.4,338.8h0.95M423.4,308.5h0.95M394.1,330.3h0.95M378.7,344.1h0.95M382.2,341.8h0.95M444.7,289.2h0.95M372.1,354.4h0.95M386.0,342.4h0.95M402.9,327.6h0.95M439.4,295.5h0.95M433.1,298.2h0.95M420.0,312.0h0.95M421.4,308.5h0.95M392.9,337.6h0.95M413.4,316.6h0.95M424.6,308.1h0.95M412.0,316.7h0.95M444.9,288.8h0.95M405.0,323.0h0.95M385.0,342.0h0.95M428.7,301.2h0.95M378.8,348.8h0.95M395.5,333.5h0.95M446.1,288.8h0.95M387.3,340.9h0.95M411.9,318.7h0.95M391.9,334.8h0.95M407.8,323.1h0.95M396.2,331.0h0.95M402.8,330.8h0.95M407.5,322.5h0.95M418.3,314.2h0.95M422.8,309.9h0.95M394.9,331.7h0.95M419.1,314.2h0.95M402.2,330.3h0.95M428.9,305.3h0.95M394.3,337.5h0.95M438.2,293.6h0.95M389.9,339.0h0.95M382.5,347.8h0.95M414.8,315.3h0.95M431.7,302.9h0.95M415.8,316.3h0.95M371.3,355.3h0.95M413.5,315.4h0.95M414.5,316.9h0.95M426.9,304.1h0.95M425.5,307.0h0.95M431.7,299.8h0.95M388.9,335.3h0.95M411.6,316.7h0.95M427.2,304.3h0.95M429.4,304.2h0.95M416.0,314.8h0.95M432.6,301.7h0.95M414.6,320.7h0.95M406.6,321.2h0.95M444.4,290.7h0.95M413.7,314.6h0.95M422.4,305.6h0.95M448.3,286.6h0.95M418.0,313.2h0.95M413.2,318.8h0.95M419.9,311.5h0.95M369.4,357.0h0.95M441.9,292.1h0.95M384.1,348.2h0.95M399.8,327.7h0.95M439.0,294.3h0.95M442.0,292.3h0.95M399.6,329.1h0.95M448.1,286.2h0.95M390.2,337.9h0.95M416.8,316.3h0.95M383.0,347.9h0.95M411.4,318.1h0.95M387.2,337.9h0.95M444.3,290.4h0.95M394.0,335.2h0.95M423.8,306.2h0.95M446.5,287.6h0.95M415.6,319.0h0.95M422.3,309.2h0.95M382.8,343.7h0.95M439.4,293.5h0.95M429.3,301.5h0.95M434.6,299.4h0.95M443.9,290.4h0.95M397.9,333.5h0.95M373.9,353.3h0.95M432.6,299.4h0.95M407.5,322.5h0.95M393.3,333.6h0.95M403.3,322.4h0.95M406.8,321.1h0.95M378.1,345.4h0.95M436.5,296.8h0.95M373.0,354.7h0.95M418.4,312.1h0.95M398.7,332.4h0.95M441.4,292.4h0.95M419.4,313.5h0.95M398.0,332.4h0.95M390.7,339.1h0.95M411.1,324.3h0.95M387.1,343.5h0.95M377.4,348.0h0.95M384.4,342.5h0.95M427.2,304.9h0.95M420.0,313.1h0.95M372.1,355.0h0.95M397.1,333.5h0.95M386.6,345.6h0.95M375.6,350.2h0.95M432.9,299.3h0.95M423.3,310.1h0.95M440.7,293.5h0.95M430.7,300.2h0.95M425.3,306.7h0.95M377.7,348.8h0.95M413.2,317.8h0.95M447.5,287.0h0.95M414.3,316.1h0.95M407.5,324.6h0.95M404.9,323.3h0.95M391.7,336.7h0.95M444.7,290.4h0.95M373.3,353.9h0.95M413.8,319.8h0.95M448.4,286.2h0.95M432.5,299.3h0.95M371.6,354.2h0.95M403.8,328.4h0.95M445.6,290.0h0.95M431.6,301.4h0.95M442.1,291.8h0.95M384.4,341.0h0.95M420.0,311.9h0.95M400.7,329.5h0.95M384.8,343.6h0.95M425.8,309.7h0.95M440.2,292.5h0.95M407.6,320.3h0.95M424.4,310.1h0.95M390.4,341.5h0.95M422.8,309.6h0.95M379.8,346.2h0.95M405.8,322.5h0.95M443.6,290.7h0.95M437.9,296.3h0.95M414.5,316.8h0.95M431.8,301.2h0.95M391.6,336.1h0.95M402.4,326.7h0.95M407.2,318.9h0.95M436.6,296.6h0.95M370.4,356.2h0.95M368.4,357.0h0.95M442.6,292.1h0.95M412.0,312.6h0.95M413.0,320.7h0.95M414.4,318.2h0.95M437.5,297.9h0.95M409.8,322.8h0.95M374.2,354.6h0.95M444.2,289.9h0.95M408.7,323.7h0.95M399.8,328.0h0.95M374.6,350.7h0.95M419.3,310.5h0.95M379.6,348.3h0.95M441.2,292.5h0.95M428.8,300.4h0.95M403.6,324.4h0.95M396.9,333.7h0.95M421.8,307.4h0.95M377.1,347.7h0.95M416.3,313.1h0.95M402.8,325.0h0.95M384.2,344.2h0.95M429.5,304.1h0.95M419.2,312.2h0.95M400.8,324.4h0.95M396.1,336.5h0.95M392.2,332.4h0.95M386.6,340.0h0.95M428.6,307.0h0.95M378.5,348.5h0.95M413.0,318.7h0.95M436.7,295.2h0.95M398.3,337.8h0.95M371.1,353.7h0.95M371.4,353.6h0.95M442.0,292.6h0.95M441.2,290.7h0.95M414.5,319.1h0.95M446.8,288.5h0.95M430.7,302.2h0.95M403.5,327.6h0.95M374.9,349.3h0.95M406.1,330.4h0.95M420.7,312.2h0.95M438.9,293.7h0.95M382.0,342.0h0.95M431.2,303.1h0.95M446.8,287.4h0.95M411.7,323.7h0.95M369.8,354.1h0.95M437.1,296.3h0.95M439.8,294.0h0.95M444.5,288.9h0.95M412.4,320.4h0.95M396.9,327.1h0.95M377.9,346.0h0.95M392.5,332.9h0.95M374.6,354.9h0.95M448.2,286.6h0.95M395.1,334.0h0.95M444.7,290.0h0.95M374.6,353.2h0.95M378.5,347.1h0.95M441.1,292.1h0.95M387.3,340.0h0.95M434.3,299.3h0.95M375.7,350.5h0.95M409.9,317.9h0.95M411.9,317.9h0.95M392.3,335.5h0.95M415.9,315.9h0.95M426.8,306.7h0.95M436.4,295.9h0.95M411.5,314.5h0.95M384.0,343.8h0.95M429.4,302.0h0.95M372.0,353.9h0.95M430.1,302.3h0.95M400.0,330.3h0.95M393.8,336.9h0.95M436.4,297.2h0.95M441.3,291.9h0.95M405.2,320.5h0.95M412.6,319.0h0.95M433.2,299.0h0.95M406.0,324.6h0.95M413.2,318.1h0.95M418.8,315.9h0.95M433.9,297.6h0.95M381.1,347.9h0.95M424.2,307.0h0.95M443.6,290.7h0.95M419.6,312.8h0.95M416.7,314.3h0.95M384.9,342.3h0.95M416.5,313.0h0.95M401.3,327.3h0.95M414.1,321.0h0.95M438.6,294.0h0.95M436.1,297.3h0.95M384.8,343.5h0.95M368.6,356.6h0.95M448.6,286.0h0.95M369.7,353.7h0.95M374.3,350.3h0.95M435.7,299.1h0.95M414.2,316.9h0.95M432.5,301.2h0.95M389.6,341.3h0.95M423.1,307.9h0.95M417.6,311.4h0.95M400.6,332.1h0.95M434.6,299.6h0.95M442.8,291.6h0.95M383.9,343.7h0.95M379.2,344.5h0.95M409.9,321.7h0.95M396.4,325.8h0.95M420.5,308.4h0.95M432.0,300.7h0.95M417.1,314.5h0.95M434.7,297.2h0.95M437.3,296.0h0.95M392.4,339.5h0.95M430.6,303.2h0.95M418.0,314.3h0.95M368.8,357.7h0.95M431.4,301.2h0.95M398.7,330.0h0.95M416.3,314.4h0.95M439.5,294.5h0.95M370.9,354.4h0.95M420.7,306.7h0.95M384.4,343.8h0.95M404.1,323.1h0.95M407.5,322.0h0.95M400.1,331.6h0.95M394.1,333.6h0.95M413.0,316.7h0.95M372.6,353.0h0.95M417.7,315.2h0.95M401.8,327.5h0.95M377.6,352.0h0.95M408.8,325.3h0.95M383.7,341.6h0.95M424.2,306.1h0.95M410.4,320.0h0.95M381.3,347.7h0.95M394.6,332.7h0.95M418.8,310.4h0.95M382.3,342.6h0.95M376.5,348.7h0.95M426.9,306.6h0.95M390.8,338.3h0.95M376.6,345.6h0.95M405.9,326.4h0.95M407.5,322.6h0.95M413.6,320.2h0.95M383.2,341.9h0.95M390.2,341.1h0.95M425.1,309.1h0.95M395.8,327.6h0.95M386.8,336.9h0.95M414.2,314.6h0.95M396.9,330.6h0.95M412.4,317.2h0.95M437.2,297.1h0.95M426.6,304.7h0.95M418.3,311.9h0.95M390.7,338.0h0.95M444.2,290.2h0.95M408.9,316.2h0.95M423.3,308.1h0.95M439.8,294.1h0.95M408.0,324.0h0.95M382.7,346.2h0.95M406.2,321.7h0.95M435.6,297.3h0.95M436.4,296.6h0.95M402.6,328.6h0.95M418.9,311.8h0.95M440.9,292.9h0.95M436.9,297.9h0.95M422.0,305.6h0.95M382.1,341.8h0.95M395.4,334.7h0.95M395.1,331.4h0.95M440.4,293.0h0.95M427.4,306.3h0.95M417.9,312.4h0.95M368.1,357.0h0.95M438.9,294.0h0.95M423.2,308.3h0.95M410.8,317.9h0.95M431.2,299.5h0.95M423.3,307.1h0.95M407.3,318.4h0.95M427.5,305.4h0.95M403.3,326.5h0.95M388.9,342.6h0.95M412.0,317.1h0.95M418.2,311.8h0.95M432.9,301.4h0.95M415.5,315.8h0.95M420.1,309.9h0.95M383.3,343.0h0.95M402.6,327.8h0.95M440.6,294.8h0.95M415.2,317.5h0.95M423.8,309.8h0.95M383.3,340.3h0.95M403.8,324.5h0.95M411.8,316.4h0.95M411.5,318.7h0.95M377.1,349.0h0.95M375.3,350.6h0.95M404.3,322.1h0.95M413.1,315.8h0.95M425.0,305.4h0.95M429.7,300.3h0.95M369.0,357.6h0.95M390.2,336.8h0.95M434.1,295.8h0.95M405.0,323.9h0.95M368.8,356.9h0.95M394.9,332.9h0.95M378.9,349.3h0.95M409.4,319.3h0.95M443.4,291.9h0.95M369.8,356.0h0.95M428.9,302.4h0.95M369.0,356.9h0.95M387.5,343.6h0.95M435.1,300.9h0.95M399.5,327.1h0.95M403.5,325.5h0.95M399.7,325.4h0.95M405.6,327.6h0.95M441.2,293.9h0.95M447.2,287.6h0.95M378.5,347.0h0.95M407.6,321.2h0.95M385.7,341.6h0.95M409.6,320.0h0.95M387.2,342.3h0.95M390.8,341.7h0.95M441.1,292.1h0.95M383.4,346.7h0.95M370.6,353.2h0.95M389.6,342.1h0.95M413.7,320.4h0.95M372.0,349.6h0.95M421.1,310.5h0.95M379.7,347.9h0.95M395.4,332.4h0.95M435.7,297.1h0.95M445.0,290.1h0.95M441.1,293.2h0.95M437.7,294.9h0.95M417.9,311.4h0.95M427.4,304.1h0.95M426.9,304.8h0.95M368.5,357.4h0.95M370.4,356.7h0.95M390.2,330.7h0.95M416.2,316.6h0.95M428.6,303.6h0.95M410.6,318.5h0.95M447.6,287.2h0.95M408.4,325.4h0.95M399.8,330.9h0.95M411.0,318.6h0.95M418.8,312.9h0.95M417.4,312.5h0.95M390.6,338.3h0.95M372.2,354.2h0.95M401.2,328.8h0.95M400.8,331.2h0.95M447.7,286.4h0.95M412.4,316.3h0.95M404.4,323.4h0.95M375.8,350.3h0.95M411.7,318.5h0.95M402.0,327.4h0.95M436.4,298.0h0.95M436.6,297.4h0.95M383.5,345.4h0.95M439.8,294.7h0.95M411.0,324.4h0.95M414.7,318.4h0.95M419.2,315.3h0.95M412.4,320.9h0.95M433.0,300.8h0.95M384.1,342.8h0.95M444.1,289.0h0.95M416.9,317.8h0.95M427.7,304.3h0.95M429.9,303.0h0.95M443.3,291.6h0.95M407.4,325.1h0.95M375.8,351.9h0.95M421.5,311.8h0.95M391.0,340.5h0.95M418.9,311.0h0.95M430.2,301.8h0.95M437.8,296.5h0.95M398.2,327.8h0.95M401.3,330.0h0.95M446.4,287.8h0.95M416.9,314.2h0.95M417.9,311.7h0.95M437.0,297.1h0.95M404.4,323.5h0.95M371.2,356.8h0.95M372.2,354.0h0.95M434.8,297.9h0.95M422.9,311.8h0.95M375.4,348.1h0.95M430.2,304.0h0.95M411.9,320.3h0.95M399.6,326.4h0.95M410.6,324.1h0.95M374.1,353.3h0.95M419.3,316.7h0.95M376.6,347.4h0.95M380.6,342.0h0.95M422.9,308.9h0.95M409.7,318.1h0.95M398.9,334.3h0.95M397.9,332.8h0.95M384.2,347.8h0.95M421.5,308.2h0.95M384.5,342.4h0.95M396.1,330.4h0.95M394.7,332.6h0.95M414.8,319.7h0.95M369.0,357.3h0.95M378.1,347.3h0.95M381.0,345.8h0.95M381.3,343.9h0.95M416.8,313.7h0.95M369.6,356.5h0.95M423.3,311.7h0.95M384.2,342.3h0.95M441.9,292.3h0.95M389.5,340.6h0.95M434.7,298.3h0.95M438.0,295.4h0.95M415.9,316.3h0.95M430.0,303.0h0.95M427.2,304.2h0.95M432.8,298.6h0.95M403.0,323.3h0.95M423.5,308.8h0.95M438.5,295.3h0.95M421.0,308.0h0.95M395.3,339.6h0.95M408.5,318.7h0.95M373.4,352.5h0.95M371.6,356.3h0.95M380.9,339.5h0.95M444.4,289.5h0.95M442.5,291.8h0.95M442.5,291.1h0.95M422.7,310.0h0.95M387.2,342.7h0.95M432.1,301.1h0.95M419.9,312.1h0.95M389.6,338.1h0.95M432.7,299.2h0.95M426.5,306.8h0.95M426.0,306.2h0.95M438.1,296.0h0.95M368.9,357.8h0.95M426.6,306.6h0.95M413.6,314.8h0.95M423.6,307.9h0.95M446.9,288.4h0.95M386.0,339.7h0.95M422.9,308.5h0.95M422.0,309.4h0.95M423.9,308.4h0.95M412.0,318.4h0.95M434.6,298.7h0.95M437.2,296.2h0.95M380.9,343.5h0.95M415.6,315.9h0.95M413.8,316.3h0.95M410.4,319.3h0.95M391.7,339.6h0.95M419.6,311.9h0.95M435.8,300.0h0.95M389.9,334.6h0.95M377.8,351.0h0.95M394.1,330.6h0.95M413.1,316.8h0.95M442.7,290.9h0.95M408.7,324.8h0.95M387.3,340.0h0.95M425.1,308.8h0.95M379.6,347.0h0.95M389.8,338.3h0.95M389.9,340.4h0.95M412.2,315.3h0.95M397.5,331.0h0.95M436.5,297.4h0.95M431.1,300.5h0.95M431.0,303.4h0.95M438.5,295.1h0.95M411.5,313.8h0.95M390.4,334.2h0.95M428.7,305.1h0.95M434.7,300.2h0.95M434.6,297.4h0.95M391.8,336.3h0.95M414.1,313.7h0.95M430.5,301.9h0.95M369.3,356.7h0.95M442.1,292.0h0.95M448.3,286.3h0.95M440.4,294.2h0.95M397.3,334.8h0.95M378.3,349.7h0.95M413.4,320.3h0.95M438.1,296.0h0.95M422.3,308.5h0.95M397.8,331.5h0.95M382.0,338.3h0.95M395.5,333.3h0.95M370.9,354.0h0.95M374.1,350.1h0.95M437.2,299.1h0.95M432.2,300.5h0.95M443.8,290.2h0.95M419.5,310.9h0.95M418.0,312.2h0.95M410.0,321.8h0.95M413.4,314.7h0.95M404.0,322.9h0.95M413.7,318.3h0.95M429.8,303.3h0.95M429.6,305.5h0.95M430.5,301.6h0.95M414.8,320.0h0.95M387.8,338.4h0.95M385.3,342.7h0.95M373.5,350.8h0.95M447.1,287.1h0.95M390.3,341.2h0.95M438.8,295.9h0.95M436.6,296.7h0.95M402.9,327.2h0.95M381.4,340.9h0.95M434.1,299.4h0.95M435.3,299.3h0.95M432.4,300.6h0.95M432.6,301.8h0.95M374.6,350.3h0.95M416.3,314.2h0.95M415.9,312.7h0.95M436.2,298.7h0.95M446.4,288.5h0.95M425.1,311.2h0.95M397.3,326.2h0.95M397.2,331.9h0.95M431.9,304.5h0.95M408.1,321.2h0.95M440.1,292.4h0.95M415.5,312.6h0.95M369.7,355.7h0.95M441.5,291.1h0.95M418.1,312.0h0.95M372.5,356.4h0.95M418.9,313.1h0.95M392.1,334.3h0.95M395.0,330.3h0.95M419.7,311.3h0.95M426.7,304.3h0.95M401.2,329.8h0.95M373.4,355.7h0.95M376.5,344.7h0.95M412.0,322.6h0.95M447.2,287.0h0.95M402.4,324.5h0.95M437.0,296.7h0.95M408.4,323.2h0.95M386.2,338.1h0.95M426.9,304.3h0.95M409.2,324.1h0.95M390.7,333.9h0.95M445.2,289.7h0.95M444.3,290.1h0.95M414.9,317.7h0.95M413.0,316.7h0.95M426.7,307.9h0.95M376.2,352.3h0.95M417.9,312.0h0.95M373.8,346.2h0.95M372.3,354.0h0.95M438.3,296.2h0.95M380.9,344.9h0.95M425.5,305.1h0.95M447.3,287.3h0.95M381.6,342.7h0.95M439.6,295.3h0.95M371.9,353.0h0.95M444.4,290.0h0.95M427.2,305.5h0.95M373.3,356.7h0.95M378.3,349.0h0.95M369.5,355.7h0.95M401.2,326.9h0.95M398.9,332.7h0.95M395.2,330.5h0.95M414.1,319.2h0.95M428.2,302.5h0.95M395.9,333.2h0.95M411.9,316.8h0.95M393.8,336.4h0.95M441.9,292.9h0.95M402.5,332.3h0.95M377.6,347.0h0.95M370.7,353.4h0.95M446.0,288.6h0.95M386.5,338.8h0.95M415.6,313.3h0.95M435.4,297.4h0.95M372.9,350.7h0.95M379.7,345.5h0.95M376.2,351.1h0.95M416.7,315.9h0.95M434.2,300.1h0.95M383.2,346.4h0.95M373.4,354.7h0.95M430.0,304.1h0.95M376.1,351.1h0.95M385.5,343.5h0.95M411.5,317.1h0.95M415.8,318.1h0.95M417.7,314.9h0.95M409.0,323.5h0.95M382.6,345.7h0.95M436.9,298.3h0.95M420.6,309.7h0.95M369.1,355.4h0.95M389.1,340.6h0.95M375.3,348.9h0.95M369.3,357.4h0.95M418.9,312.6h0.95M440.3,295.2h0.95M378.4,350.9h0.95M444.6,290.3h0.95M417.0,316.8h0.95M384.7,343.1h0.95M384.3,343.2h0.95M432.0,300.5h0.95M430.5,303.1h0.95M408.7,316.6h0.95M432.2,301.0h0.95M431.5,301.7h0.95M439.8,294.2h0.95M373.7,352.5h0.95M416.9,312.3h0.95M436.3,298.8h0.95M393.1,335.4h0.95M385.0,345.9h0.95M418.9,312.3h0.95M445.7,288.1h0.95M414.2,313.7h0.95M371.1,354.2h0.95M446.2,288.4h0.95M391.5,333.7h0.95M393.1,335.4h0.95M369.8,356.6h0.95M417.3,314.7h0.95M441.0,293.3h0.95M378.7,349.6h0.95M395.7,333.0h0.95M411.6,316.3h0.95M378.7,354.1h0.95M443.7,291.3h0.95M438.8,296.6h0.95M390.5,339.5h0.95M409.6,316.6h0.95M407.2,323.2h0.95M370.6,355.9h0.95M394.9,333.9h0.95M432.6,300.2h0.95M425.7,307.9h0.95M379.2,346.5h0.95M417.8,316.2h0.95M431.9,302.2h0.95M373.9,355.3h0.95M388.5,333.4h0.95M407.4,324.6h0.95M434.7,298.0h0.95M448.8,286.4h0.95M412.1,315.3h0.95M436.4,295.1h0.95M400.2,332.7h0.95M433.5,300.2h0.95M394.2,333.6h0.95M421.3,311.7h0.95M417.5,311.9h0.95M433.2,300.5h0.95M396.8,329.9h0.95M441.4,293.3h0.95M422.7,312.9h0.95M408.4,325.7h0.95M399.7,327.4h0.95M399.5,327.2h0.95M437.3,296.1h0.95M414.9,315.7h0.95M410.3,320.9h0.95M399.9,328.8h0.95M442.0,291.8h0.95M385.7,340.1h0.95M411.8,319.0h0.95M443.4,291.0h0.95M445.5,289.2h0.95M415.4,316.2h0.95M413.5,317.7h0.95M432.2,299.7h0.95M414.8,319.6h0.95M397.1,330.9h0.95M394.5,333.5h0.95M402.6,324.9h0.95M432.4,301.2h0.95M417.8,312.1h0.95M384.6,341.7h0.95M439.5,293.6h0.95M404.6,324.7h0.95M395.4,334.3h0.95M402.3,329.6h0.95M418.6,313.9h0.95M441.1,293.4h0.95M389.1,340.6h0.95M410.6,316.0h0.95M390.5,336.0h0.95M407.6,322.8h0.95M373.3,352.5h0.95M392.4,339.6h0.95M436.7,297.3h0.95M388.7,340.1h0.95M435.2,299.2h0.95M412.1,319.2h0.95M381.2,341.0h0.95M446.4,288.2h0.95M418.1,314.1h0.95M379.3,349.2h0.95M395.2,334.9h0.95M411.6,315.4h0.95M398.7,332.1h0.95M421.5,310.5h0.95M397.0,334.5h0.95M374.7,352.8h0.95M446.1,288.2h0.95M413.0,319.7h0.95M411.2,318.1h0.95M412.1,316.6h0.95M394.8,332.7h0.95M413.5,319.6h0.95M407.5,325.7h0.95M438.5,294.2h0.95M409.7,320.9h0.95M414.7,321.2h0.95M408.0,320.9h0.95M427.3,305.4h0.95M386.3,342.2h0.95M376.3,351.7h0.95M401.2,329.8h0.95M393.7,333.9h0.95M448.4,286.3h0.95M378.0,347.7h0.95M445.6,288.8h0.95M391.9,335.8h0.95M392.7,336.8h0.95M445.0,290.9h0.95M401.8,321.9h0.95M412.0,317.4h0.95M403.9,329.6h0.95M444.1,289.7h0.95M405.5,326.3h0.95M413.8,317.9h0.95M377.0,349.3h0.95M392.4,336.2h0.95M434.4,300.5h0.95M372.6,353.2h0.95M417.9,316.2h0.95M414.1,318.3h0.95M434.3,297.2h0.95M392.7,336.2h0.95M413.4,315.5h0.95M399.9,328.3h0.95M381.1,346.7h0.95M384.8,341.2h0.95M427.2,305.0h0.95M409.6,318.9h0.95M381.8,348.5h0.95M389.4,337.9h0.95M413.4,313.9h0.95M383.4,338.2h0.95M410.0,322.4h0.95M375.0,351.8h0.95M442.9,291.8h0.95M369.9,356.6h0.95M409.2,321.5h0.95M440.6,294.9h0.95M426.5,304.9h0.95M430.7,301.4h0.95M402.8,324.0h0.95M413.5,318.0h0.95M416.6,317.9h0.95M385.1,345.7h0.95M435.3,298.5h0.95M418.4,314.9h0.95M435.0,297.8h0.95M390.7,333.4h0.95M444.1,290.1h0.95M426.5,305.2h0.95M422.4,310.1h0.95M423.0,308.3h0.95M415.9,315.6h0.95M426.9,306.6h0.95M375.7,353.2h0.95M444.2,290.9h0.95M429.6,301.4h0.95M400.8,331.4h0.95M442.6,291.2h0.95M418.2,315.0h0.95M446.0,288.6h0.95M392.2,337.7h0.95M435.4,299.4h0.95M415.6,317.9h0.95M434.7,299.3h0.95M425.7,305.2h0.95M418.6,312.7h0.95M445.7,288.7h0.95M399.1,332.9h0.95M445.5,289.2h0.95M377.4,354.2h0.95M389.5,338.7h0.95M438.3,295.3h0.95M385.1,340.9h0.95M372.2,352.1h0.95M405.0,322.5h0.95M375.2,353.7h0.95M433.1,300.4h0.95M444.1,289.6h0.95M426.1,308.9h0.95M434.1,298.1h0.95M409.9,320.4h0.95M383.0,344.4h0.95M382.3,346.6h0.95M417.1,311.4h0.95M434.9,298.3h0.95M378.4,349.7h0.95M435.2,298.1h0.95M401.7,321.4h0.95M420.9,310.4h0.95M443.7,290.4h0.95M371.8,355.7h0.95M448.9,286.8h0.95M376.8,350.5h0.95M369.9,355.4h0.95M389.1,339.6h0.95M422.7,307.4h0.95M423.2,305.3h0.95M403.3,328.5h0.95M387.8,341.3h0.95M394.2,338.3h0.95M429.0,301.4h0.95M388.4,336.6h0.95M398.1,329.7h0.95M419.6,313.3h0.95M430.0,302.4h0.95M413.2,318.5h0.95M413.8,314.8h0.95M417.0,314.8h0.95M399.2,336.1h0.95M388.6,341.7h0.95M412.1,318.3h0.95M401.2,326.8h0.95M375.1,349.1h0.95M370.1,356.4h0.95M382.4,345.7h0.95M377.2,350.2h0.95M420.6,309.3h0.95M423.3,308.0h0.95M389.1,336.1h0.95M419.2,313.2h0.95M371.0,354.0h0.95M371.2,351.7h0.95M412.6,317.7h0.95M408.3,318.5h0.95M431.9,301.4h0.95M412.4,315.5h0.95M389.4,335.4h0.95M413.4,320.0h0.95M400.2,322.3h0.95M447.4,287.3h0.95M406.0,324.4h0.95M373.9,352.2h0.95M404.3,327.0h0.95M377.5,354.5h0.95M414.5,312.8h0.95M413.2,314.6h0.95M403.6,328.6h0.95M411.6,317.4h0.95M435.8,298.1h0.95M375.2,349.1h0.95M414.3,316.3h0.95M389.6,337.2h0.95M441.5,294.5h0.95M404.4,324.1h0.95M448.4,286.3h0.95M380.6,347.7h0.95M410.0,320.7h0.95M382.1,345.1h0.95M427.5,305.7h0.95M426.4,307.4h0.95M426.8,305.7h0.95M370.1,355.8h0.95M381.1,345.4h0.95M441.5,292.1h0.95M370.2,355.7h0.95M395.6,338.8h0.95M421.5,310.6h0.95M392.7,330.7h0.95M417.9,316.2h0.95M416.0,316.3h0.95M384.2,343.4h0.95M382.7,344.3h0.95M418.0,311.9h0.95M400.8,323.7h0.95M435.5,298.1h0.95M412.8,319.2h0.95M404.8,324.0h0.95M388.6,337.9h0.95M399.4,325.3h0.95M442.9,290.9h0.95M446.5,288.1h0.95M372.1,353.7h0.95M428.0,302.8h0.95M443.8,291.0h0.95M401.0,326.8h0.95M389.3,334.9h0.95M395.5,334.7h0.95M427.3,305.1h0.95M384.5,345.8h0.95M435.5,298.0h0.95M427.4,304.2h0.95M374.5,350.8h0.95M391.6,335.6h0.95M447.8,287.4h0.95M434.5,298.9h0.95M396.6,331.3h0.95M407.6,319.7h0.95M374.1,351.5h0.95M387.2,341.7h0.95M418.2,313.1h0.95M388.8,335.2h0.95M395.3,331.9h0.95M387.6,336.6h0.95M436.3,297.6h0.95M382.1,347.7h0.95M403.0,325.3h0.95M424.0,309.6h0.95M419.1,313.0h0.95M414.5,314.1h0.95M446.2,288.7h0.95M414.8,319.1h0.95M403.6,328.3h0.95M372.3,354.9h0.95M387.5,338.0h0.95M388.0,343.3h0.95M412.2,321.5h0.95M378.3,353.9h0.95M421.1,312.2h0.95M411.7,317.1h0.95M398.6,333.6h0.95M420.3,313.2h0.95M400.6,329.5h0.95M426.5,302.5h0.95M392.1,336.6h0.95M385.5,337.8h0.95M421.4,310.1h0.95M383.9,339.8h0.95M373.9,348.6h0.95M375.6,350.2h0.95M412.6,323.4h0.95M369.5,356.6h0.95M403.2,325.3h0.95M408.4,325.9h0.95M417.6,313.4h0.95M409.4,324.6h0.95M421.7,309.0h0.95M369.0,357.5h0.95M435.6,297.2h0.95M433.4,299.2h0.95M416.7,311.2h0.95M378.6,348.2h0.95M417.4,313.4h0.95M390.0,342.6h0.95M404.5,327.0h0.95M445.9,289.0h0.95M444.0,292.2h0.95M423.3,306.2h0.95M437.0,295.8h0.95M392.5,339.0h0.95M376.7,350.2h0.95M398.1,327.8h0.95M438.5,295.0h0.95M433.9,297.6h0.95M388.9,336.4h0.95M418.3,313.2h0.95M379.6,345.1h0.95M370.9,357.1h0.95M406.1,325.8h0.95M381.2,349.2h0.95M395.9,334.3h0.95M400.3,330.5h0.95M443.0,290.5h0.95M425.2,309.7h0.95M410.2,323.0h0.95M416.0,319.0h0.95M413.5,315.4h0.95M446.8,288.7h0.95M384.1,340.0h0.95M448.7,286.4h0.95M411.2,318.2h0.95M437.7,295.6h0.95M415.4,316.2h0.95M413.5,315.5h0.95M447.9,286.6h0.95M377.9,349.2h0.95M395.9,332.8h0.95M415.6,316.0h0.95M400.7,330.9h0.95M412.6,313.3h0.95M417.1,313.0h0.95M382.0,338.5h0.95M437.6,295.4h0.95M390.1,341.5h0.95M392.9,337.2h0.95M382.4,339.1h0.95M398.2,331.3h0.95M398.6,331.6h0.95M391.1,336.8h0.95M418.7,311.1h0.95M391.9,333.5h0.95M370.7,354.2h0.95M444.8,290.0h0.95M447.7,287.8h0.95M420.3,311.7h0.95M396.3,330.4h0.95M371.5,351.5h0.95M435.8,298.2h0.95M444.0,288.8h0.95M412.0,314.3h0.95M437.6,297.2h0.95M408.1,324.5h0.95M400.8,330.1h0.95M429.2,302.7h0.95M416.2,311.9h0.95M394.4,330.6h0.95M395.1,326.9h0.95M424.5,305.8h0.95M398.4,330.8h0.95M389.2,336.5h0.95M421.2,310.0h0.95M446.1,288.5h0.95M374.2,350.5h0.95M382.0,345.0h0.95M374.6,352.1h0.95M404.5,327.9h0.95M415.9,311.1h0.95M441.6,292.5h0.95M395.0,334.7h0.95M448.1,286.3h0.95M391.0,339.9h0.95M426.7,304.3h0.95M412.8,315.9h0.95M373.8,349.0h0.95M417.8,311.4h0.95M405.9,327.4h0.95M431.5,300.2h0.95M441.3,295.4h0.95M403.8,322.7h0.95M369.3,355.2h0.95M405.9,323.8h0.95M423.3,307.0h0.95M432.3,300.7h0.95M428.6,302.1h0.95M393.8,333.6h0.95M426.4,305.7h0.95M423.9,305.4h0.95M404.0,327.3h0.95M442.4,292.5h0.95M444.6,289.7h0.95M448.6,286.2h0.95M413.3,317.7h0.95M424.0,308.9h0.95M420.1,312.9h0.95M414.4,317.9h0.95M418.1,312.7h0.95M414.1,314.0h0.95M427.5,305.0h0.95M417.8,311.7h0.95M448.5,286.4h0.95M388.9,343.1h0.95M380.6,347.3h0.95M419.1,317.2h0.95M427.0,302.7h0.95M431.4,302.0h0.95M374.5,350.5h0.95M430.3,301.2h0.95M383.7,341.5h0.95M388.6,341.8h0.95M440.0,293.9h0.95M421.4,309.8h0.95M373.1,353.8h0.95M444.4,290.3h0.95M376.7,351.7h0.95M412.4,315.9h0.95M407.2,321.7h0.95M382.8,345.7h0.95M396.5,331.2h0.95M417.7,312.2h0.95M417.0,312.1h0.95M421.4,308.4h0.95M417.5,314.8h0.95M432.5,302.6h0.95M396.1,332.8h0.95M412.0,318.2h0.95M397.6,330.8h0.95M391.3,339.6h0.95M399.6,332.2h0.95M399.7,331.3h0.95M440.6,293.0h0.95M421.2,310.7h0.95M401.9,325.2h0.95M372.9,350.7h0.95M434.2,298.0h0.95M418.3,314.1h0.95M417.0,314.1h0.95M370.3,353.2h0.95M418.4,311.8h0.95M443.9,291.0h0.95M426.9,304.6h0.95M413.2,318.3h0.95M415.9,314.5h0.95M424.9,306.3h0.95M408.1,328.0h0.95M429.7,301.3h0.95M382.0,342.8h0.95M428.3,304.1h0.95M407.0,320.4h0.95M388.7,339.3h0.95M400.9,331.5h0.95M368.7,357.1h0.95M373.0,351.9h0.95M410.1,321.3h0.95M408.2,326.5h0.95M428.8,307.5h0.95M398.3,331.2h0.95M371.0,355.7h0.95M408.0,324.1h0.95M405.8,328.8h0.95M405.1,321.0h0.95M414.3,314.8h0.95M412.1,319.3h0.95M444.6,289.9h0.95M423.1,308.3h0.95M401.6,322.9h0.95M381.9,343.7h0.95M405.4,327.7h0.95M390.6,341.8h0.95M419.7,312.9h0.95M368.7,357.5h0.95M447.5,286.6h0.95M419.3,314.2h0.95M419.6,313.0h0.95M411.0,318.3h0.95M429.2,303.4h0.95M438.0,295.6h0.95M440.0,293.6h0.95M375.0,347.6h0.95M395.1,337.7h0.95M446.0,288.4h0.95M445.6,289.1h0.95M418.1,315.1h0.95M436.5,297.3h0.95M437.7,294.8h0.95M393.8,334.4h0.95M425.0,304.6h0.95M440.1,294.9h0.95M392.6,338.1h0.95M423.9,309.6h0.95M431.0,303.2h0.95M400.4,326.5h0.95M401.9,325.8h0.95M426.3,304.3h0.95M404.0,326.3h0.95M379.1,356.7h0.95M374.2,363.0h0.95M370.4,353.2h0.95M388.5,339.7h0.95M351.0,354.7h0.95M375.1,374.7h0.95M405.8,348.9h0.95M353.5,357.8h0.95M386.0,347.4h0.95M352.8,375.9h0.95M353.5,349.8h0.95M366.7,355.1h0.95M371.0,341.0h0.95M385.7,333.1h0.95M395.2,345.6h0.95M346.6,370.0h0.95M346.6,364.5h0.95M354.6,376.0h0.95M367.6,359.6h0.95M376.2,375.2h0.95M351.4,381.0h0.95M359.4,362.6h0.95M364.2,356.8h0.95M378.9,349.0h0.95M381.2,345.3h0.95M386.1,330.6h0.95M340.0,372.2h0.95M400.9,353.6h0.95M378.2,360.7h0.95M371.3,356.0h0.95M355.4,366.2h0.95M344.2,361.5h0.95M389.4,348.4h0.95M365.7,356.6h0.95M359.5,371.0h0.95M359.5,355.6h0.95M362.5,351.5h0.95M357.5,368.7h0.95M390.8,343.2h0.95M368.3,352.4h0.95M380.7,340.1h0.95M395.6,340.6h0.95M360.7,344.0h0.95M393.3,342.6h0.95M382.4,334.7h0.95M365.8,364.6h0.95M348.9,376.2h0.95M368.2,350.0h0.95M371.3,340.3h0.95M373.3,331.9h0.95M374.6,336.1h0.95M360.4,362.3h0.95M373.7,353.6h0.95M374.2,344.5h0.95M369.8,362.7h0.95M390.2,338.2h0.95M354.3,370.8h0.95M375.4,360.5h0.95M376.5,357.7h0.95M388.5,360.4h0.95M370.3,348.5h0.95M363.5,374.7h0.95M357.8,374.9h0.95M357.8,362.2h0.95M345.5,365.1h0.95M364.8,364.0h0.95M386.3,362.3h0.95M356.7,365.8h0.95M347.9,345.6h0.95M391.6,344.0h0.95M367.8,368.8h0.95M378.8,359.9h0.95M376.1,339.0h0.95M379.8,355.1h0.95M348.2,362.4h0.95M350.3,355.8h0.95M347.5,364.3h0.95M373.3,365.4h0.95M362.0,355.1h0.95M345.9,370.9h0.95M375.6,350.3h0.95M363.9,355.0h0.95M369.1,340.8h0.95M378.7,349.2h0.95M365.4,364.5h0.95M382.1,341.8h0.95M368.0,353.4h0.95M370.3,349.5h0.95M365.0,362.9h0.95M404.0,345.2h0.95M361.7,369.5h0.95M361.1,361.1h0.95M341.1,369.3h0.95M353.0,360.1h0.95M388.4,343.1h0.95M370.6,358.2h0.95M375.1,346.0h0.95M360.4,373.7h0.95M353.0,366.6h0.95M360.9,358.7h0.95M353.7,370.6h0.95M369.7,376.5h0.95M357.0,368.0h0.95M363.1,366.2h0.95M368.3,348.8h0.95M372.1,335.7h0.95M368.4,349.0h0.95M374.6,354.4h0.95M388.1,353.7h0.95M362.7,358.1h0.95M390.4,341.0h0.95M356.0,359.0h0.95M363.9,365.9h0.95M356.6,367.2h0.95M354.5,374.4h0.95M373.5,344.7h0.95M367.0,366.0h0.95M367.9,347.7h0.95M362.1,350.3h0.95M365.3,340.6h0.95M356.7,348.7h0.95M375.7,370.3h0.95M388.0,340.7h0.95M378.6,350.5h0.95M372.5,349.6h0.95M386.3,344.6h0.95M377.9,355.6h0.95M403.1,338.2h0.95M362.8,371.6h0.95M373.7,368.6h0.95M369.3,343.1h0.95M367.6,354.2h0.95M387.2,357.2h0.95M372.1,348.5h0.95M386.3,348.2h0.95M380.7,346.9h0.95M362.4,347.4h0.95M355.5,364.8h0.95M346.4,369.0h0.95M364.8,358.8h0.95M361.0,367.4h0.95M384.4,351.9h0.95M401.0,331.2h0.95M378.9,347.3h0.95M365.0,363.2h0.95M374.6,364.3h0.95M367.1,370.3h0.95M362.4,371.3h0.95M381.4,348.2h0.95M385.2,348.9h0.95M363.7,361.8h0.95M383.5,351.5h0.95M367.7,344.1h0.95M378.8,364.0h0.95M379.2,342.8h0.95M389.3,332.3h0.95M342.4,366.0h0.95M386.2,351.9h0.95M390.7,352.4h0.95M376.9,357.0h0.95M365.6,352.7h0.95M379.2,349.4h0.95M362.6,340.1h0.95M370.8,355.2h0.95M373.5,358.1h0.95M360.4,362.6h0.95M361.1,371.2h0.95M392.0,335.9h0.95M386.8,347.4h0.95M368.3,379.4h0.95M365.7,366.1h0.95M382.4,351.3h0.95M347.4,374.8h0.95M371.1,369.6h0.95M366.8,350.7h0.95M403.5,335.5h0.95M348.7,366.9h0.95M371.9,347.6h0.95M370.2,357.4h0.95M400.4,335.5h0.95M370.9,364.5h0.95M402.0,339.6h0.95M360.1,347.7h0.95M360.5,372.1h0.95M367.1,345.2h0.95M375.4,367.6h0.95M369.3,361.4h0.95M368.3,358.0h0.95M364.0,376.2h0.95M378.6,348.4h0.95M394.9,341.8h0.95M375.8,345.9h0.95M378.4,364.2h0.95M365.4,365.9h0.95M373.4,356.3h0.95M373.9,360.6h0.95M378.1,349.0h0.95M350.7,374.2h0.95M380.7,332.8h0.95M339.3,379.8h0.95M363.5,360.5h0.95M360.0,358.4h0.95M369.1,348.8h0.95M361.9,360.3h0.95M361.2,346.0h0.95M372.4,355.9h0.95M349.8,379.0h0.95M370.2,357.8h0.95M400.1,346.7h0.95M384.3,331.1h0.95M388.8,341.2h0.95M352.4,368.4h0.95M382.7,366.6h0.95M368.0,358.5h0.95M367.9,363.4h0.95M385.8,336.2h0.95M358.1,349.9h0.95M361.6,355.7h0.95M369.8,360.2h0.95M354.8,365.7h0.95M366.1,345.2h0.95M357.3,376.9h0.95M366.6,359.4h0.95M368.4,353.0h0.95M374.0,368.2h0.95M372.6,358.9h0.95M358.4,350.8h0.95M365.0,347.6h0.95M362.7,368.4h0.95M369.0,365.3h0.95M377.1,344.7h0.95M367.8,345.9h0.95M359.0,362.2h0.95M350.4,357.4h0.95M364.3,378.1h0.95M372.8,351.4h0.95M358.7,354.2h0.95M362.0,365.6h0.95M364.3,364.7h0.95M366.1,345.6h0.95M385.1,348.9h0.95M386.0,332.3h0.95M373.9,366.9h0.95M351.3,366.1h0.95M340.8,370.2h0.95M389.7,359.1h0.95M366.1,365.7h0.95M358.2,363.2h0.95M391.0,355.8h0.95M381.4,350.9h0.95M375.1,344.7h0.95M365.4,371.3h0.95M380.8,356.0h0.95M344.9,379.8h0.95M390.5,337.2h0.95M352.8,379.2h0.95M360.4,351.0h0.95M388.1,341.0h0.95M379.1,359.7h0.95M359.8,359.1h0.95M348.4,372.1h0.95M385.8,352.3h0.95M385.1,359.6h0.95M386.3,329.9h0.95M380.4,336.7h0.95M366.3,348.8h0.95M388.8,332.0h0.95M367.8,342.4h0.95M363.1,367.3h0.95M390.0,337.9h0.95M340.3,354.9h0.95M399.9,329.8h0.95M372.2,346.3h0.95M381.6,343.6h0.95M384.6,351.4h0.95M373.1,348.5h0.95M368.5,381.7h0.95M376.4,353.1h0.95M365.7,366.6h0.95M384.1,355.7h0.95M380.1,352.4h0.95M390.2,335.5h0.95M361.8,374.1h0.95M363.3,355.6h0.95M364.8,357.6h0.95M369.6,356.6h0.95M366.1,371.7h0.95M360.6,347.1h0.95M363.9,342.9h0.95M366.4,358.5h0.95M365.6,348.7h0.95M358.3,368.5h0.95M368.2,349.1h0.95M346.3,374.3h0.95M362.4,350.7h0.95M357.6,382.9h0.95M353.4,366.8h0.95M366.1,364.7h0.95M375.6,365.9h0.95M375.5,353.8h0.95M382.4,350.9h0.95M355.6,370.9h0.95M366.0,373.0h0.95M371.6,352.7h0.95M383.6,344.5h0.95M388.3,356.1h0.95M361.8,362.3h0.95M361.1,358.6h0.95M401.5,336.8h0.95M363.6,357.7h0.95M357.3,360.6h0.95M385.4,338.6h0.95M401.6,331.5h0.95M370.0,355.6h0.95M374.8,356.6h0.95M377.1,336.3h0.95M360.6,358.3h0.95M379.4,343.5h0.95M374.2,351.4h0.95M403.5,335.1h0.95M398.2,333.7h0.95M382.2,344.7h0.95M424.1,308.3h0.95M401.5,331.0h0.95M395.2,329.6h0.95M430.5,294.8h0.95M393.3,334.4h0.95M411.0,319.6h0.95M432.1,317.4h0.95M401.6,328.4h0.95M432.1,301.9h0.95M411.2,317.6h0.95M381.1,341.2h0.95M427.7,314.0h0.95M411.6,311.4h0.95M410.7,320.5h0.95M379.6,339.6h0.95M420.7,311.2h0.95M439.5,297.7h0.95M424.4,318.6h0.95M409.0,316.5h0.95M426.4,299.3h0.95M419.2,312.8h0.95M433.0,303.3h0.95M393.0,346.9h0.95M411.7,314.6h0.95M421.4,305.3h0.95M440.8,298.5h0.95M413.4,331.8h0.95M440.6,296.4h0.95M414.5,315.3h0.95M439.8,296.0h0.95M415.6,316.2h0.95M401.9,331.8h0.95M380.8,340.9h0.95M400.8,336.3h0.95M377.9,337.3h0.95M417.7,311.7h0.95M423.7,304.3h0.95M432.8,301.7h0.95M425.5,308.0h0.95M430.9,302.8h0.95M436.9,297.2h0.95M424.7,307.9h0.95M388.5,344.9h0.95M426.9,312.8h0.95M381.8,344.9h0.95M403.6,326.8h0.95M391.7,334.6h0.95M404.8,327.7h0.95M428.3,312.8h0.95M395.4,332.0h0.95M411.3,322.9h0.95M395.7,331.4h0.95M433.6,297.0h0.95M391.1,334.3h0.95M398.6,339.8h0.95M415.6,319.4h0.95M425.4,301.9h0.95M407.5,315.9h0.95M380.7,338.3h0.95M394.9,339.4h0.95M395.1,327.7h0.95M397.7,342.4h0.95M405.9,328.2h0.95M397.3,335.0h0.95M413.0,328.6h0.95M397.2,341.9h0.95M431.9,300.7h0.95M409.8,328.1h0.95M418.1,313.8h0.95M385.6,329.4h0.95M424.6,311.4h0.95M412.9,326.8h0.95M400.3,323.4h0.95M384.8,327.2h0.95M389.8,333.0h0.95M389.2,328.9h0.95M379.5,336.3h0.95M385.7,340.3h0.95M412.4,319.3h0.95M379.3,340.7h0.95M424.4,312.3h0.95M393.9,337.2h0.95M385.4,340.2h0.95M403.2,327.6h0.95M416.8,308.3h0.95M398.4,327.3h0.95M438.9,299.0h0.95M396.3,335.2h0.95M418.3,321.0h0.95M407.0,323.5h0.95M421.6,306.5h0.95M415.0,318.0h0.95M438.1,296.9h0.95M434.7,299.7h0.95M430.4,302.7h0.95M409.5,307.4h0.95M390.2,345.0h0.95M377.7,339.5h0.95M426.4,303.7h0.95M413.9,320.9h0.95M398.6,333.7h0.95M425.9,307.1h0.95M436.0,297.3h0.95M379.3,333.7h0.95M433.5,303.4h0.95M395.4,341.5h0.95M426.2,298.0h0.95M419.9,317.6h0.95M415.3,305.8h0.95M391.0,344.8h0.95M419.9,306.5h0.95M429.7,304.8h0.95M434.1,298.0h0.95M397.3,351.9h0.95M407.1,328.8h0.95M432.3,301.7h0.95M410.1,316.7h0.95M395.9,348.5h0.95M425.6,307.0h0.95M397.6,342.4h0.95M382.5,326.2h0.95M408.4,312.0h0.95M403.9,318.9h0.95M438.4,296.6h0.95M438.2,294.7h0.95M423.9,310.3h0.95M404.7,319.9h0.95M432.1,301.6h0.95M400.8,320.6h0.95M379.5,341.7h0.95M411.6,317.2h0.95M416.5,312.1h0.95M410.4,326.6h0.95M431.5,303.0h0.95M395.8,341.4h0.95M393.0,338.5h0.95M397.6,340.5h0.95M397.2,334.7h0.95M414.1,324.4h0.95M418.8,316.5h0.95M394.8,327.3h0.95M433.8,300.5h0.95M435.6,295.0h0.95M409.2,322.2h0.95M420.4,312.3h0.95M423.7,306.6h0.95M427.3,300.7h0.95M377.6,339.0h0.95M433.4,308.0h0.95M392.3,327.6h0.95M386.8,338.6h0.95M415.0,318.7h0.95M419.6,323.0h0.95M416.1,315.7h0.95M401.7,319.7h0.95M406.2,310.0h0.95M432.1,299.9h0.95M382.2,328.3h0.95M412.9,326.0h0.95M428.0,302.1h0.95M388.7,342.2h0.95M420.9,307.1h0.95M386.8,337.9h0.95M400.3,326.9h0.95M402.8,321.3h0.95M416.9,314.6h0.95M398.0,334.4h0.95M426.9,304.2h0.95M405.7,323.8h0.95M381.7,334.9h0.95M402.1,318.3h0.95M400.7,346.3h0.95M391.3,345.4h0.95M398.3,339.6h0.95M398.8,326.2h0.95M417.3,305.1h0.95M389.7,330.5h0.95M428.1,304.0h0.95M412.9,299.5h0.95M395.9,349.9h0.95M405.6,332.1h0.95M435.4,303.4h0.95M429.9,300.5h0.95M389.5,326.2h0.95M423.8,303.1h0.95M431.8,296.5h0.95M399.3,331.0h0.95M423.6,312.3h0.95M402.9,325.3h0.95M420.1,312.0h0.95M412.3,321.7h0.95M434.8,300.4h0.95M426.8,302.9h0.95M413.1,307.9h0.95M404.9,322.3h0.95M424.6,314.2h0.95M434.1,299.3h0.95M408.9,313.3h0.95M397.6,327.3h0.95M402.8,336.2h0.95M414.9,320.9h0.95M432.5,297.9h0.95M398.1,333.6h0.95M431.7,296.6h0.95M437.3,296.0h0.95M402.9,310.0h0.95M401.8,342.6h0.95M392.3,345.5h0.95M412.7,320.2h0.95M421.2,307.8h0.95M407.9,318.1h0.95M400.3,334.8h0.95M432.7,310.5h0.95M429.3,298.1h0.95M428.4,297.3h0.95M397.4,332.4h0.95M426.0,298.1h0.95M438.5,296.0h0.95M434.6,297.7h0.95M413.3,319.5h0.95M402.1,326.6h0.95M406.0,324.0h0.95M406.6,316.0h0.95M401.3,318.3h0.95M431.9,297.4h0.95M378.0,340.7h0.95M416.6,316.3h0.95M388.8,349.8h0.95M402.1,332.0h0.95M431.6,297.0h0.95M382.6,344.8h0.95M415.4,323.0h0.95M388.4,330.8h0.95M394.2,333.6h0.95M390.2,326.2h0.95M404.0,339.5h0.95M431.2,305.0h0.95M423.2,302.5h0.95M386.0,328.5h0.95M436.9,293.5h0.95M433.3,296.4h0.95M391.5,325.3h0.95M436.5,295.3h0.95M416.7,324.7h0.95M399.2,322.5h0.95M427.2,306.9h0.95M423.1,307.4h0.95M408.5,326.7h0.95M420.9,312.0h0.95M402.8,328.5h0.95M392.3,333.5h0.95M378.0,335.4h0.95M434.0,302.8h0.95M433.3,297.1h0.95M412.4,317.8h0.95M399.0,326.2h0.95M427.8,304.4h0.95M411.2,319.0h0.95M437.7,297.3h0.95M431.3,301.4h0.95M395.1,333.3h0.95M412.1,318.9h0.95M411.9,310.0h0.95M435.8,295.8h0.95M437.7,293.8h0.95M412.6,327.2h0.95M426.1,312.4h0.95M385.8,333.1h0.95M400.1,327.5h0.95M415.5,327.5h0.95M419.0,305.7h0.95M394.9,343.7h0.95M400.2,336.0h0.95M397.7,312.5h0.95M435.2,301.7h0.95M418.5,322.8h0.95M383.5,331.3h0.95M403.0,331.3h0.95M399.5,323.9h0.95M393.0,341.7h0.95M437.9,297.1h0.95M385.1,346.8h0.95M434.9,299.7h0.95M403.9,328.4h0.95M396.8,339.7h0.95M432.0,302.8h0.95M407.0,335.9h0.95M381.8,341.8h0.95M405.2,321.0h0.95M386.2,334.0h0.95M421.9,313.9h0.95M377.9,337.0h0.95M424.9,306.3h0.95M420.5,312.3h0.95M434.3,296.0h0.95M391.7,332.4h0.95M384.8,334.7h0.95M416.6,310.2h0.95M418.8,308.7h0.95M391.6,327.5h0.95M405.0,338.4h0.95M417.6,328.4h0.95M421.0,311.3h0.95M400.8,355.2h0.95M403.5,324.9h0.95M406.0,325.0h0.95M386.9,337.8h0.95M383.3,340.2h0.95M391.1,335.2h0.95M415.3,322.6h0.95M446.3,288.7h0.95M447.0,287.5h0.95M461.7,274.5h0.95M475.9,261.7h0.95M461.9,273.7h0.95M448.7,285.3h0.95M456.4,280.4h0.95M449.8,285.7h0.95M451.3,284.2h0.95M481.4,257.4h0.95M455.5,279.4h0.95M442.9,291.1h0.95M444.8,289.3h0.95M445.6,288.5h0.95M442.3,290.4h0.95M438.8,293.5h0.95M455.7,279.8h0.95M446.7,287.8h0.95M457.2,277.8h0.95M443.4,291.1h0.95M438.6,294.2h0.95M444.0,290.3h0.95M447.0,288.1h0.95M455.2,281.2h0.95M446.4,287.7h0.95M454.3,281.2h0.95M439.7,293.6h0.95M440.4,293.2h0.95M454.5,281.4h0.95M446.9,288.1h0.95M443.6,290.6h0.95M471.3,267.2h0.95M446.6,287.6h0.95M464.3,271.9h0.95M442.7,291.5h0.95M469.9,267.8h0.95M442.3,291.4h0.95M440.8,293.4h0.95M444.0,291.2h0.95M453.4,282.7h0.95M442.5,291.9h0.95M469.1,268.3h0.95M476.5,262.3h0.95M448.9,286.3h0.95M452.0,283.7h0.95M444.3,289.9h0.95M442.7,291.2h0.95M476.5,260.7h0.95M450.7,281.8h0.95M441.9,292.3h0.95M469.3,268.1h0.95M446.3,288.5h0.95M450.2,285.3h0.95M471.2,265.1h0.95M462.6,273.4h0.95M447.9,287.1h0.95M473.6,264.4h0.95M439.5,294.8h0.95M458.6,278.8h0.95M446.7,288.1h0.95M357.6,371.8h0.95M366.4,361.2h0.95M362.0,354.9h0.95M360.3,361.2h0.95M366.2,373.2h0.95M358.9,365.5h0.95M368.5,362.3h0.95M369.2,363.8h0.95M372.4,367.4h0.95M355.1,368.5h0.95M352.8,367.8h0.95M353.5,372.6h0.95M351.8,374.4h0.95M363.0,356.9h0.95M365.8,367.0h0.95M353.6,372.3h0.95M369.6,363.3h0.95M358.4,373.4h0.95M363.1,356.6h0.95M365.8,372.8h0.95M353.0,370.5h0.95M360.4,378.2h0.95M364.7,359.7h0.95M365.6,366.8h0.95M368.1,362.4h0.95M346.9,368.4h0.95M362.0,360.0h0.95M359.5,378.9h0.95M358.9,351.6h0.95M360.2,364.1h0.95M366.4,361.4h0.95M350.4,369.9h0.95M353.5,365.3h0.95M369.6,363.5h0.95M368.2,364.9h0.95M352.4,360.7h0.95M357.4,369.1h0.95M355.8,373.2h0.95M354.6,361.1h0.95M354.8,361.0h0.95M366.7,375.3h0.95M358.8,362.1h0.95M354.5,371.6h0.95M358.7,367.8h0.95M352.2,379.0h0.95M359.1,370.4h0.95M357.1,366.9h0.95M366.0,364.2h0.95M357.0,352.8h0.95M366.1,361.3h0.95M343.6,368.5h0.95M361.1,353.2h0.95M357.6,366.2h0.95M372.1,368.0h0.95M352.4,363.1h0.95M362.4,356.8h0.95M350.7,367.2h0.95M357.1,369.3h0.95M348.8,369.3h0.95M353.4,364.9h0.95M348.4,361.0h0.95M357.4,366.7h0.95M358.5,370.9h0.95M372.7,366.8h0.95M360.8,363.5h0.95M366.0,369.1h0.95M352.3,360.4h0.95M363.1,354.4h0.95M352.6,362.7h0.95M359.5,367.4h0.95M363.5,358.6h0.95M361.8,354.8h0.95M351.6,371.9h0.95M363.5,358.3h0.95M366.6,366.2h0.95M354.7,368.9h0.95M348.2,366.4h0.95M353.4,370.3h0.95M362.2,359.3h0.95M366.7,372.2h0.95M355.7,357.6h0.95M361.4,363.0h0.95M361.9,359.8h0.95M356.4,357.6h0.95M358.5,365.7h0.95M357.2,367.0h0.95M362.4,372.6h0.95M355.2,365.9h0.95M359.6,362.2h0.95M358.9,367.7h0.95M357.3,371.9h0.95M349.4,365.7h0.95M356.7,372.2h0.95M347.8,374.9h0.95M368.8,367.3h0.95M366.3,366.2h0.95M363.9,358.1h0.95M347.0,373.3h0.95M351.6,363.2h0.95M360.3,361.2h0.95M363.5,368.6h0.95M354.6,367.1h0.95M371.6,361.5h0.95M367.4,365.5h0.95M360.9,365.9h0.95M362.6,370.2h0.95M351.9,373.8h0.95M354.4,355.9h0.95M361.2,357.6h0.95M347.8,364.2h0.95M362.1,362.6h0.95M355.1,363.3h0.95M365.6,359.3h0.95M367.5,368.3h0.95M362.4,356.8h0.95M361.9,357.6h0.95M358.3,379.2h0.95M358.4,362.5h0.95M359.4,367.6h0.95M357.3,364.0h0.95M364.0,365.7h0.95M367.2,363.3h0.95M374.7,365.0h0.95M349.6,370.7h0.95M356.9,356.7h0.95M349.8,363.1h0.95M348.3,369.3h0.95M353.8,364.8h0.95M344.7,367.3h0.95M368.4,359.5h0.95M355.6,376.4h0.95M367.6,365.3h0.95M365.8,367.0h0.95M352.5,365.5h0.95M375.6,367.9h0.95M357.6,369.2h0.95M358.4,363.2h0.95M364.8,360.4h0.95M369.4,361.1h0.95M351.0,366.8h0.95M363.2,379.0h0.95M369.3,361.3h0.95M356.1,357.1h0.95M360.0,367.4h0.95M355.3,355.1h0.95M352.1,357.2h0.95M367.2,365.8h0.95M350.4,369.9h0.95M372.0,367.5h0.95M356.8,364.6h0.95M366.6,366.6h0.95M346.8,362.0h0.95M356.9,357.0h0.95M349.4,366.0h0.95M352.3,356.9h0.95M364.6,355.5h0.95M354.7,369.1h0.95M358.1,370.7h0.95M373.2,363.6h0.95M360.9,363.1h0.95M356.3,367.9h0.95M362.2,370.3h0.95M366.8,358.9h0.95M364.2,365.8h0.95M358.0,371.5h0.95M361.1,358.0h0.95M360.3,363.9h0.95M365.4,362.3h0.95M354.1,372.1h0.95M352.1,357.2h0.95M361.2,362.7h0.95M364.3,365.7h0.95M358.6,365.2h0.95M364.7,362.8h0.95M369.0,359.2h0.95M356.5,375.1h0.95M357.6,366.5h0.95M363.6,356.0h0.95M362.1,364.4h0.95M351.9,363.5h0.95M360.9,363.7h0.95M370.1,362.9h0.95M364.9,365.7h0.95M359.1,370.9h0.95M363.2,354.1h0.95M356.4,375.9h0.95M356.2,365.2h0.95M363.3,356.3h0.95M365.2,359.9h0.95M366.1,361.7h0.95M349.5,370.9h0.95M367.1,368.5h0.95M365.4,359.8h0.95M357.0,367.1h0.95M362.5,364.8h0.95M360.0,369.5h0.95M350.5,369.9h0.95M351.1,369.7h0.95M355.9,362.8h0.95M367.4,360.5h0.95M371.0,364.8h0.95M346.5,365.9h0.95M358.9,370.8h0.95M362.1,356.9h0.95M366.7,358.1h0.95M365.0,360.0h0.95M360.0,366.7h0.95M354.4,361.1h0.95M367.8,367.8h0.95M358.8,365.5h0.95M366.1,361.3h0.95M360.0,361.5h0.95M365.5,357.3h0.95M363.6,358.6h0.95M354.8,366.0h0.95M360.5,366.7h0.95M359.6,364.8h0.95M350.1,373.3h0.95M349.5,368.5h0.95M369.8,361.1h0.95M366.8,358.6h0.95M375.0,364.8h0.95M358.3,370.5h0.95M348.4,369.5h0.95M354.8,360.8h0.95M360.3,364.2h0.95M357.3,366.3h0.95M361.6,360.4h0.95M358.7,368.1h0.95M350.2,372.8h0.95M352.9,360.3h0.95M364.5,357.9h0.95M346.1,365.7h0.95M367.9,367.7h0.95M359.7,364.5h0.95M358.9,359.9h0.95M364.3,355.1h0.95M366.5,361.2h0.95M365.1,367.9h0.95M359.0,357.2h0.95M349.2,373.5h0.95M367.0,363.2h0.95M351.9,366.1h0.95M365.3,359.7h0.95M368.3,364.5h0.95M366.4,361.4h0.95M359.2,365.1h0.95M358.1,368.5h0.95M360.4,356.4h0.95M363.3,375.2h0.95M359.8,353.8h0.95M362.0,365.2h0.95M356.0,357.2h0.95M366.0,361.5h0.95M354.3,364.1h0.95M354.9,360.8h0.95M373.0,363.3h0.95M362.2,362.5h0.95M343.5,365.2h0.95M364.9,362.8h0.95M367.5,357.9h0.95M369.4,364.2h0.95M355.9,363.0h0.95M361.1,366.4h0.95M363.1,361.6h0.95M356.9,367.1h0.95M360.3,361.4h0.95M346.5,362.1h0.95M354.3,355.5h0.95M366.9,357.7h0.95M366.9,357.9h0.95M363.4,363.9h0.95M357.7,366.4h0.95M359.0,372.6h0.95M359.9,372.4h0.95M360.9,368.7h0.95M356.4,365.1h0.95M362.7,357.1h0.95M358.1,374.0h0.95M356.8,380.9h0.95M361.8,357.7h0.95M362.7,354.3h0.95M356.2,367.7h0.95M356.8,368.1h0.95M363.9,368.5h0.95M362.6,354.2h0.95M352.5,379.1h0.95M361.5,363.4h0.95M364.4,357.6h0.95M375.2,365.0h0.95M365.3,365.2h0.95M354.1,377.4h0.95M353.5,375.3h0.95M359.3,367.1h0.95M348.4,374.9h0.95M355.0,361.0h0.95M357.2,367.0h0.95M363.7,360.8h0.95M377.0,366.5h0.95M353.5,378.3h0.95M359.2,373.0h0.95M356.3,366.8h0.95M357.1,352.4h0.95M355.8,357.6h0.95M369.1,364.0h0.95M356.3,353.9h0.95M362.2,365.2h0.95M364.7,357.1h0.95M342.5,366.5h0.95M355.4,365.1h0.95M361.4,363.4h0.95M356.8,369.9h0.95M369.5,363.4h0.95M354.5,363.9h0.95M349.9,365.7h0.95M366.1,366.6h0.95M361.9,376.6h0.95M373.3,363.1h0.95M370.0,360.8h0.95M360.1,363.9h0.95M368.2,367.2h0.95M357.8,357.9h0.95M366.0,357.1h0.95M355.4,366.0h0.95M353.1,373.3h0.95M368.9,361.3h0.95M357.0,361.7h0.95M351.8,366.4h0.95M350.9,377.7h0.95M363.9,358.3h0.95M356.3,370.2h0.95M356.1,378.0h0.95M344.8,363.9h0.95M348.5,371.7h0.95M362.9,358.5h0.95M366.3,361.4h0.95M369.7,360.9h0.95M356.5,377.8h0.95M350.7,370.0h0.95M358.2,363.1h0.95M357.0,364.4h0.95M364.6,368.5h0.95M351.9,362.9h0.95M360.3,353.5h0.95M355.4,368.5h0.95M364.2,358.0h0.95M357.8,376.8h0.95M353.0,360.4h0.95M365.4,370.0h0.95M354.6,369.3h0.95M354.2,358.6h0.95M355.0,363.3h0.95M356.3,372.8h0.95M350.5,369.9h0.95M365.1,357.3h0.95M365.1,364.7h0.95M353.9,359.1h0.95M356.9,369.4h0.95M360.2,369.6h0.95M360.5,358.5h0.95M355.7,354.5h0.95M364.8,357.2h0.95M374.5,365.2h0.95M370.8,362.4h0.95M354.8,358.4h0.95M361.6,360.2h0.95M359.8,364.4h0.95M361.0,363.5h0.95M354.9,355.1h0.95M362.8,361.6h0.95M366.2,361.4h0.95M360.8,360.8h0.95M346.0,368.6h0.95M361.6,380.1h0.95M350.3,373.2h0.95M358.6,359.9h0.95M368.9,367.2h0.95M349.3,371.2h0.95M369.4,363.8h0.95M371.6,364.2h0.95M362.1,368.2h0.95M362.0,362.0h0.95M363.0,364.3h0.95M358.0,361.0h0.95M363.4,372.2h0.95M371.4,365.2h0.95M354.3,374.6h0.95M355.0,369.6h0.95M365.5,367.4h0.95M360.6,353.7h0.95M350.8,375.2h0.95M366.7,358.1h0.95M357.8,375.9h0.95M358.5,373.3h0.95M354.5,359.0h0.95M360.8,366.2h0.95M356.8,367.2h0.95M348.3,364.1h0.95M360.9,377.4h0.95M357.1,361.6h0.95M357.2,358.8h0.95M348.1,360.9h0.95M356.7,369.5h0.95M360.7,360.8h0.95M372.6,363.5h0.95M356.2,372.7h0.95M357.5,366.9h0.95M362.4,357.0h0.95M353.3,367.5h0.95M365.5,367.0h0.95M362.9,364.1h0.95M371.5,371.4h0.95M350.8,364.6h0.95M344.3,367.5h0.95M361.5,371.0h0.95M350.0,362.6h0.95M373.1,363.1h0.95M359.2,367.6h0.95M371.7,361.6h0.95M351.9,371.7h0.95M361.6,355.1h0.95M349.9,363.3h0.95M369.0,361.0h0.95M366.0,375.9h0.95M368.9,362.1h0.95M348.7,360.1h0.95M356.8,356.8h0.95M362.8,367.0h0.95M352.9,365.4h0.95M364.1,357.9h0.95M364.7,360.5h0.95M362.0,360.3h0.95M362.3,359.6h0.95M361.5,357.2h0.95M367.3,362.5h0.95M359.6,367.6h0.95M364.3,370.9h0.95M356.9,369.7h0.95M357.4,358.6h0.95M358.3,363.5h0.95M366.8,358.2h0.95M361.9,370.7h0.95M354.1,372.0h0.95M357.6,361.1h0.95M355.2,360.7h0.95M359.9,369.6h0.95M362.5,362.0h0.95M372.6,367.2h0.95M350.2,370.4h0.95M363.6,364.2h0.95M357.7,377.1h0.95M368.7,359.2h0.95M362.2,365.2h0.95M364.2,368.5h0.95M367.0,363.6h0.95M365.7,364.6h0.95M369.0,364.5h0.95M359.8,367.3h0.95M368.3,362.5h0.95M360.5,366.4h0.95M370.3,365.7h0.95M356.6,364.8h0.95M360.7,381.4h0.95M368.4,359.1h0.95M362.3,354.2h0.95M354.5,379.4h0.95M365.6,359.4h0.95M366.9,361.0h0.95M367.7,359.7h0.95M356.9,362.0h0.95M350.2,368.1h0.95M353.9,374.9h0.95M355.3,363.7h0.95M364.2,355.1h0.95M359.8,374.8h0.95M359.5,372.5h0.95M354.9,363.4h0.95M372.7,363.9h0.95M357.5,366.5h0.95M366.7,360.9h0.95M348.5,374.4h0.95M360.8,353.0h0.95M357.9,360.8h0.95M368.5,362.2h0.95M376.7,367.1h0.95M361.0,361.1h0.95M358.7,362.7h0.95M361.6,357.9h0.95M361.4,363.2h0.95M359.8,362.1h0.95M356.4,365.0h0.95M361.1,360.9h0.95M357.6,380.3h0.95M361.2,362.7h0.95M359.5,361.6h0.95M350.3,367.6h0.95M363.8,358.4h0.95M361.5,358.0h0.95M342.3,369.1h0.95M359.2,362.5h0.95M364.8,359.4h0.95M355.1,373.8h0.95M367.7,360.4h0.95M368.6,374.1h0.95M355.7,354.4h0.95M365.5,373.7h0.95M367.8,367.6h0.95M362.7,364.3h0.95M354.8,363.8h0.95M357.8,361.4h0.95M348.9,368.6h0.95M366.1,364.3h0.95M360.8,358.4h0.95M349.0,363.7h0.95M351.9,360.6h0.95M369.8,363.4h0.95M350.9,364.9h0.95M345.0,369.7h0.95M370.1,369.0h0.95M366.5,359.1h0.95M370.0,363.2h0.95M354.8,366.9h0.95M367.6,363.0h0.95M364.2,355.0h0.95M357.8,352.3h0.95M364.4,360.8h0.95M364.1,355.4h0.95M347.5,364.9h0.95M354.6,358.6h0.95M360.6,378.1h0.95M358.3,368.7h0.95M367.3,357.7h0.95M349.4,365.7h0.95M362.6,353.8h0.95M359.8,374.9h0.95M357.9,366.2h0.95M360.6,355.9h0.95M357.4,369.2h0.95M346.4,365.8h0.95M365.8,361.2h0.95M359.7,361.6h0.95M358.4,370.8h0.95M370.6,362.7h0.95M357.2,369.3h0.95M359.8,372.2h0.95M349.8,359.5h0.95M349.2,371.6h0.95M351.9,376.8h0.95M366.6,363.4h0.95M362.6,364.0h0.95M357.9,358.2h0.95M355.1,371.8h0.95M363.2,364.0h0.95M357.3,359.0h0.95M368.4,362.2h0.95M369.0,361.6h0.95M354.9,374.1h0.95M366.8,366.0h0.95M367.5,359.8h0.95M363.2,356.4h0.95M358.4,360.2h0.95M353.0,356.5h0.95M357.9,360.9h0.95M352.3,366.4h0.95M362.3,359.9h0.95M353.9,355.9h0.95M354.2,376.8h0.95M367.5,363.0h0.95M367.3,360.6h0.95M353.0,356.6h0.95M365.2,356.6h0.95M354.8,354.7h0.95M354.9,366.3h0.95M352.9,363.0h0.95M353.7,375.3h0.95M364.5,360.1h0.95M372.6,363.7h0.95M372.0,368.1h0.95M368.9,361.3h0.95M361.5,371.4h0.95M345.8,366.3h0.95M356.1,377.8h0.95M355.6,373.4h0.95M363.3,358.6h0.95M364.5,357.5h0.95M369.9,363.8h0.95M364.3,360.4h0.95M368.6,364.7h0.95M363.3,366.2h0.95M361.2,360.3h0.95M371.0,364.5h0.95M358.1,355.6h0.95M360.1,369.1h0.95M367.5,362.9h0.95M364.3,358.4h0.95M362.2,362.4h0.95M352.1,371.0h0.95M352.9,356.4h0.95M364.0,358.2h0.95M356.8,372.2h0.95" stroke="#000" stroke-width="0.95" fill="none" stroke-opacity="0.72"/>
<path d="M368.1,357.1 L372.4,350.6 L385.3,337.6 L401.4,324.4 L415.1,312.9 L429.3,301.5 L438.3,294.1 L444.5,289.2 L448.7,285.9 L449.0,286.2 L445.3,289.9 L439.7,295.4 L431.4,303.4 L418.6,316.0 L405.6,328.1 L390.7,342.4 L376.1,353.8 L368.7,357.7z" fill="#050505" stroke="#050505" stroke-width="0.6" stroke-linejoin="round"/>
<line x1="335.10" y1="346.00" x2="335.10" y2="383.40" stroke="#444" stroke-width="0.9"/>
<path d="M334.8,338.5h0.7M334.8,340.8h0.7M334.8,341.9h0.7M334.8,344.8h0.7M334.8,340.8h0.7M334.8,344.4h0.7M334.8,326.6h0.7M334.8,335.3h0.7M334.8,344.9h0.7M334.8,339.0h0.7" stroke="#666" stroke-width="0.7" fill="none"/>
<line x1="335.00" y1="387.50" x2="387.00" y2="387.50" stroke="#222" stroke-width="0.9"/>
<path d="M401.5,387.5h0.8M389.7,387.5h0.8M395.0,387.5h0.8M391.7,387.5h0.8M396.2,387.5h0.8M396.6,387.5h0.8" stroke="#444" stroke-width="0.8" fill="none"/>
<rect x="329.40" y="251.70" width="157.40" height="140.60" fill="none" stroke="#9c9c9c" stroke-width="1.15"/>
<line x1="326.20" y1="270.50" x2="329.40" y2="270.50" stroke="#9c9c9c" stroke-width="1.1"/>
<line x1="326.20" y1="287.90" x2="329.40" y2="287.90" stroke="#9c9c9c" stroke-width="1.1"/>
<line x1="326.20" y1="305.30" x2="329.40" y2="305.30" stroke="#9c9c9c" stroke-width="1.1"/>
<line x1="326.20" y1="322.60" x2="329.40" y2="322.60" stroke="#9c9c9c" stroke-width="1.1"/>
<line x1="326.20" y1="340.00" x2="329.40" y2="340.00" stroke="#9c9c9c" stroke-width="1.1"/>
<line x1="326.20" y1="357.50" x2="329.40" y2="357.50" stroke="#9c9c9c" stroke-width="1.1"/>
<line x1="326.20" y1="375.00" x2="329.40" y2="375.00" stroke="#9c9c9c" stroke-width="1.1"/>
<line x1="326.20" y1="387.50" x2="329.40" y2="387.50" stroke="#9c9c9c" stroke-width="1.1"/>
<text x="321.80" y="273.40" font-size="9.8" text-anchor="end" textLength="25.61" lengthAdjust="spacingAndGlyphs">10000</text>
<text x="321.80" y="290.90" font-size="9.8" text-anchor="end" textLength="20.49" lengthAdjust="spacingAndGlyphs">1000</text>
<text x="321.80" y="308.10" font-size="9.8" text-anchor="end" textLength="15.37" lengthAdjust="spacingAndGlyphs">100</text>
<text x="321.80" y="325.10" font-size="9.8" text-anchor="end" textLength="10.24" lengthAdjust="spacingAndGlyphs">10</text>
<text x="321.80" y="343.10" font-size="9.8" text-anchor="end" textLength="5.12" lengthAdjust="spacingAndGlyphs">1</text>
<text x="321.80" y="360.40" font-size="9.8" text-anchor="end" textLength="12.80" lengthAdjust="spacingAndGlyphs">0.1</text>
<text x="321.80" y="378.10" font-size="9.8" text-anchor="end" textLength="17.93" lengthAdjust="spacingAndGlyphs">0.01</text>
<text x="321.80" y="392.00" font-size="9.8" text-anchor="end" textLength="5.12" lengthAdjust="spacingAndGlyphs">0</text>
<line x1="335.00" y1="392.30" x2="335.00" y2="394.90" stroke="#9c9c9c" stroke-width="1.1"/>
<line x1="349.00" y1="392.30" x2="349.00" y2="394.90" stroke="#9c9c9c" stroke-width="1.1"/>
<line x1="368.60" y1="392.30" x2="368.60" y2="394.90" stroke="#9c9c9c" stroke-width="1.1"/>
<line x1="388.00" y1="392.30" x2="388.00" y2="394.90" stroke="#9c9c9c" stroke-width="1.1"/>
<line x1="407.60" y1="392.30" x2="407.60" y2="394.90" stroke="#9c9c9c" stroke-width="1.1"/>
<line x1="427.20" y1="392.30" x2="427.20" y2="394.90" stroke="#9c9c9c" stroke-width="1.1"/>
<line x1="446.80" y1="392.30" x2="446.80" y2="394.90" stroke="#9c9c9c" stroke-width="1.1"/>
<line x1="466.50" y1="392.30" x2="466.50" y2="394.90" stroke="#9c9c9c" stroke-width="1.1"/>
<text x="333.80" y="409.50" font-size="9.8" text-anchor="middle" textLength="5.12" lengthAdjust="spacingAndGlyphs">0</text>
<text x="350.30" y="409.50" font-size="9.8" text-anchor="middle" textLength="17.93" lengthAdjust="spacingAndGlyphs">0.01</text>
<text x="370.50" y="409.50" font-size="9.8" text-anchor="middle" textLength="12.80" lengthAdjust="spacingAndGlyphs">0.1</text>
<text x="387.20" y="409.50" font-size="9.8" text-anchor="middle" textLength="5.12" lengthAdjust="spacingAndGlyphs">1</text>
<text x="406.30" y="409.50" font-size="9.8" text-anchor="middle" textLength="10.24" lengthAdjust="spacingAndGlyphs">10</text>
<text x="427.50" y="409.50" font-size="9.8" text-anchor="middle" textLength="15.37" lengthAdjust="spacingAndGlyphs">100</text>
<text x="450.80" y="409.50" font-size="9.8" text-anchor="middle" textLength="20.49" lengthAdjust="spacingAndGlyphs">1000</text>
<text x="479.10" y="409.50" font-size="9.8" text-anchor="middle" textLength="25.61" lengthAdjust="spacingAndGlyphs">10000</text>
<line x1="329.40" y1="349.40" x2="477.50" y2="349.40" stroke="#aeaeae" stroke-width="1.2"/>
<line x1="378.20" y1="263.50" x2="378.20" y2="392.30" stroke="#aeaeae" stroke-width="1.3"/>
<line x1="490.80" y1="348.90" x2="478.90" y2="348.90" stroke="#111" stroke-width="1.5"/>
<path d="M476.90,348.90 l3.4,-1.9 l-0.7,1.9 l0.7,1.9z" fill="#111" stroke="#111" stroke-width="0.5" stroke-linejoin="round"/>
<line x1="378.50" y1="250.00" x2="378.50" y2="262.00" stroke="#222" stroke-width="1.4"/>
<path d="M378.50,264.00 l-1.9,-3.4 l1.9,0.7 l1.9,-0.7z" fill="#222" stroke="#222" stroke-width="0.5" stroke-linejoin="round"/>
<text x="495.70" y="348.20" font-size="9.6" textLength="13.10" lengthAdjust="spacingAndGlyphs">0.3</text>
<text x="490.00" y="359.50" font-size="9.6" textLength="27.70" lengthAdjust="spacingAndGlyphs">RPKM</text>
<text x="360.60" y="247.80" font-size="9.6" textLength="44.00" lengthAdjust="spacingAndGlyphs">0.3 RPKM</text>
<text x="378.50" y="432.70" font-size="12.2" textLength="81.40" lengthAdjust="spacingAndGlyphs">Mouse platelet</text>
<text x="397.00" y="447.10" font-size="12.2" textLength="44.60" lengthAdjust="spacingAndGlyphs">(RPKM)</text>
<text x="282.20" y="363.60" font-size="12.6" textLength="80.30" lengthAdjust="spacingAndGlyphs" transform="rotate(-90 282.20 363.60)">Mouse platelet</text>
<text x="297.90" y="345.00" font-size="12.4" textLength="43.20" lengthAdjust="spacingAndGlyphs" transform="rotate(-90 297.90 345.00)">(RPKM)</text>
<text x="269.30" y="251.70" font-size="17.6" textLength="12.70" lengthAdjust="spacingAndGlyphs" font-weight="bold">D</text>
</svg>
</body></html>
